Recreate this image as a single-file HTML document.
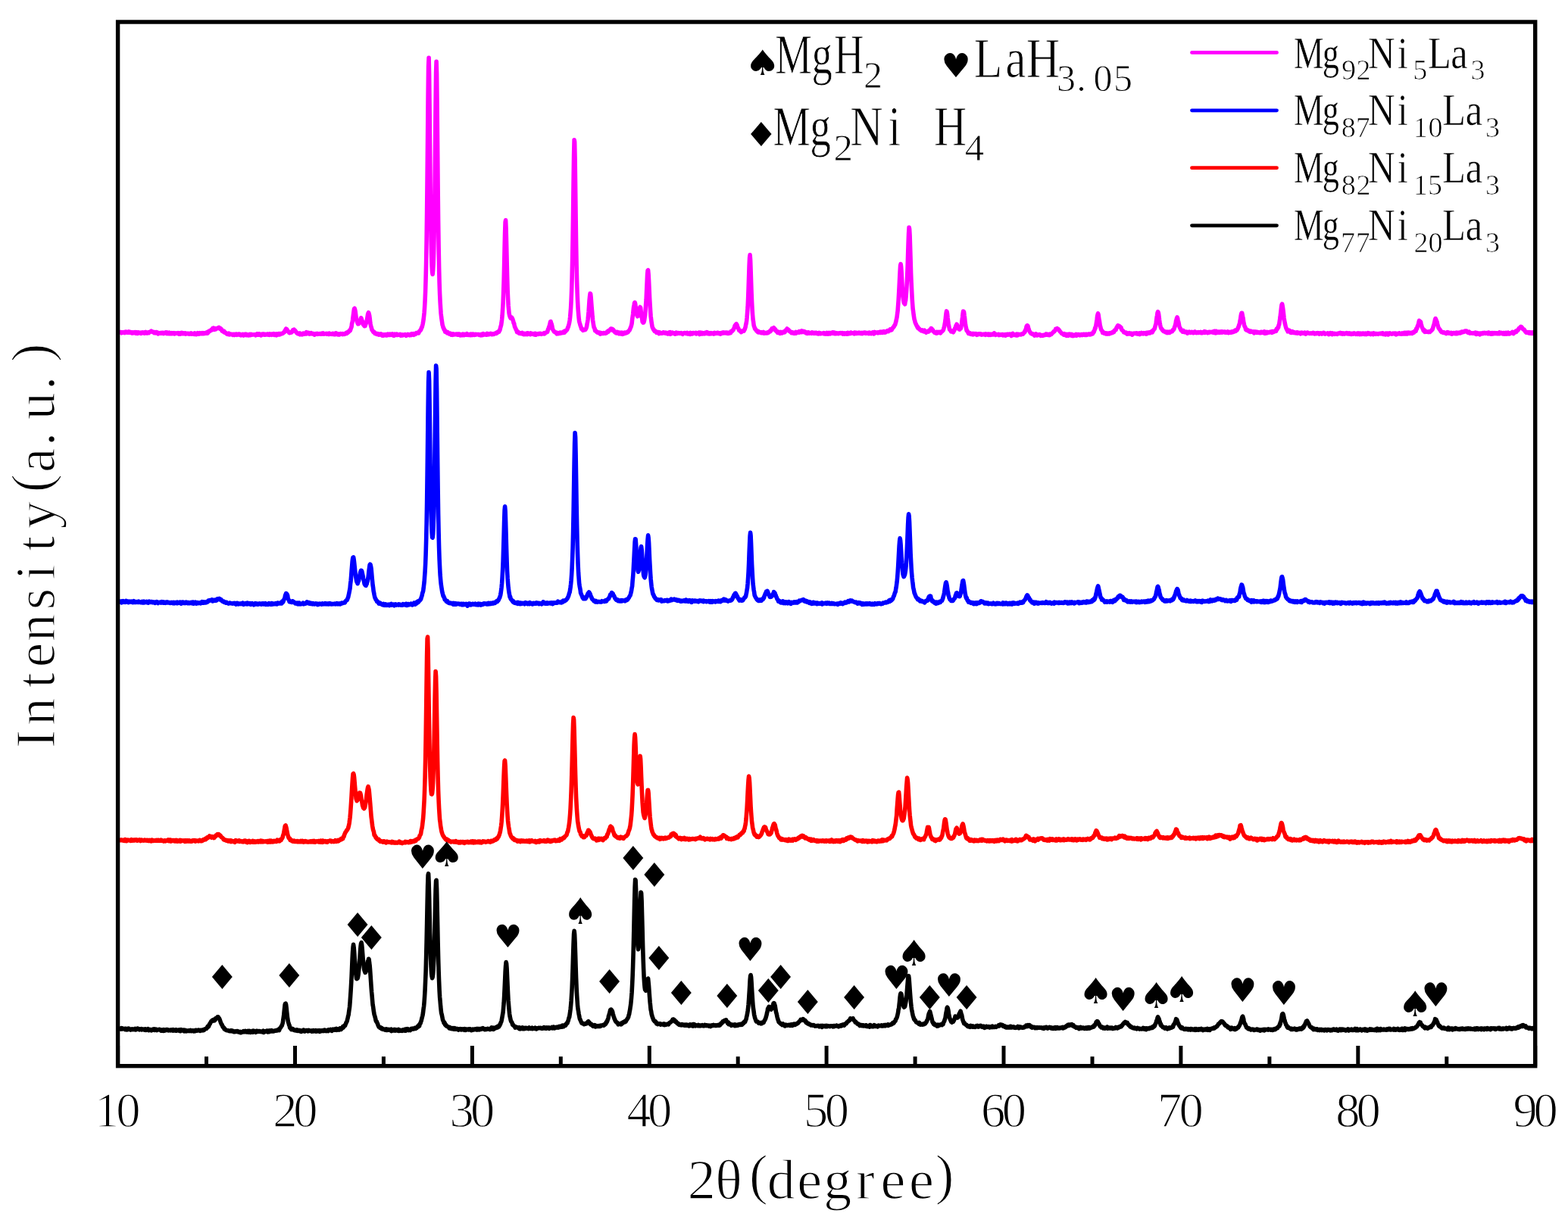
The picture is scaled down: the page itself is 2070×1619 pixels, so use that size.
<!DOCTYPE html>
<html><head><meta charset="utf-8"><title>XRD patterns</title>
<style>
html,body{margin:0;padding:0;background:#fff;overflow:hidden;width:2070px;height:1619px;}
svg{display:block;}
.t{font-family:"Liberation Serif","Noto Serif CJK SC",serif;fill:#000;stroke:#fff;}
.m{font-family:"DejaVu Sans","Noto Sans CJK SC",sans-serif;font-size:100px;fill:#000;}
.c{fill:none;stroke-width:5.6px;stroke-linejoin:round;stroke-linecap:round;}
</style></head><body>
<svg width="2070" height="1619" viewBox="0 0 2070 1619">
<rect width="2070" height="1619" fill="#fff"/>
<path class="c" stroke="#ff00ff" d="M157.1 439.0L157.6 439.2 158.1 438.9 158.6 438.6 159.1 438.8 159.6 438.6 160.1 439.1 160.6 439.7 161.1 438.8 161.6 438.8 162.1 439.3 162.6 439.3 163.1 439.2 163.6 438.7 164.1 439.1 164.6 439.5 165.1 438.5 165.6 438.9 166.1 438.2 166.6 438.5 167.1 438.3 167.6 439.1 168.1 438.6 168.6 439.3 169.1 439.3 169.6 439.1 170.1 438.0 170.6 439.0 171.1 439.2 171.6 439.3 172.1 438.5 172.6 439.0 173.1 438.8 173.6 438.9 174.1 439.8 174.6 438.9 175.1 439.3 175.6 439.8 176.1 439.0 176.6 439.3 177.1 439.4 177.6 439.4 178.1 438.7 178.6 439.4 179.1 440.1 179.6 438.6 180.1 439.8 180.6 439.5 181.1 439.1 181.6 440.4 182.1 439.8 182.6 438.8 183.1 439.5 183.6 439.7 184.1 439.4 184.6 439.8 185.1 439.4 185.6 439.8 186.1 440.2 186.6 439.1 187.1 439.6 187.6 439.3 188.1 439.6 188.6 438.9 189.1 439.2 189.6 439.4 190.1 439.9 190.6 440.1 191.1 438.8 191.6 439.1 192.1 439.8 192.6 438.5 193.1 439.2 193.6 439.4 194.1 440.0 194.6 439.6 195.1 439.1 195.6 438.9 196.1 438.9 196.6 439.6 197.1 438.5 197.6 438.3 198.1 438.4 198.6 438.0 199.1 437.7 199.6 437.2 200.1 437.7 200.6 437.6 201.1 438.5 201.6 438.5 202.1 438.4 202.6 439.0 203.1 438.7 203.6 439.6 204.1 439.2 204.6 439.6 205.1 438.8 205.6 439.7 206.1 438.7 206.6 438.6 207.1 439.5 207.6 439.3 208.1 439.8 208.6 440.9 209.1 439.4 209.6 439.5 210.1 439.9 210.6 440.1 211.1 439.8 211.6 439.8 212.1 440.2 212.6 440.2 213.1 439.4 213.6 439.9 214.1 439.9 214.6 439.4 215.1 440.1 215.6 439.5 216.1 440.5 216.6 440.1 217.1 440.0 217.6 439.7 218.1 439.9 218.6 439.0 219.1 439.5 219.6 440.2 220.1 439.0 220.6 440.5 221.1 439.2 221.6 440.4 222.1 439.6 222.6 440.5 223.1 440.2 223.6 439.3 224.1 440.7 224.6 440.8 225.1 440.1 225.6 440.0 226.1 440.1 226.6 439.7 227.1 440.7 227.6 439.9 228.1 440.1 228.6 439.8 229.1 439.9 229.6 439.6 230.1 440.8 230.6 440.1 231.1 440.7 231.6 440.2 232.1 439.9 232.6 440.1 233.1 440.0 233.6 440.3 234.1 440.1 234.6 440.1 235.1 439.6 235.6 439.9 236.1 441.1 236.6 440.0 237.1 439.8 237.6 440.5 238.1 441.0 238.6 439.6 239.1 440.2 239.6 440.0 240.1 439.5 240.6 440.7 241.1 440.4 241.6 440.4 242.1 440.0 242.6 440.6 243.1 440.1 243.6 440.3 244.1 439.9 244.6 439.8 245.1 441.1 245.6 440.2 246.1 440.6 246.6 440.5 247.1 440.3 247.6 440.2 248.1 440.8 248.6 440.4 249.1 440.4 249.6 440.5 250.1 441.1 250.6 440.9 251.1 440.7 251.6 440.3 252.1 439.9 252.6 441.1 253.1 441.1 253.6 440.5 254.1 440.9 254.6 441.0 255.1 441.0 255.6 441.1 256.1 440.4 256.6 441.4 257.1 440.0 257.6 441.1 258.1 440.9 258.6 441.1 259.1 441.6 259.6 441.4 260.1 440.1 260.6 439.8 261.1 441.1 261.6 440.2 262.1 440.7 262.6 441.1 263.1 439.9 263.6 439.6 264.1 440.8 264.6 440.7 265.1 440.5 265.6 440.6 266.1 440.2 266.6 439.8 267.1 440.5 267.6 440.0 268.1 439.7 268.6 440.7 269.1 440.4 269.6 440.5 270.1 439.8 270.6 439.9 271.1 439.6 271.6 439.5 272.1 440.0 272.6 439.3 273.1 439.7 273.6 439.5 274.1 440.1 274.6 438.1 275.1 439.0 275.6 438.1 276.1 437.8 276.6 436.7 277.1 436.8 277.6 436.9 278.1 436.1 278.6 435.8 279.1 435.3 279.6 435.7 280.1 435.0 280.6 433.7 281.1 434.4 281.6 433.7 282.1 433.1 282.6 434.4 283.1 435.3 283.6 434.6 284.1 433.9 284.6 433.9 285.1 434.7 285.6 434.0 286.1 433.7 286.6 433.4 287.1 433.3 287.6 433.5 288.1 433.2 288.6 433.1 289.1 432.5 289.6 433.4 290.1 433.1 290.6 434.3 291.1 433.6 291.6 434.6 292.1 435.2 292.6 435.0 293.1 437.1 293.6 437.4 294.1 437.0 294.6 438.0 295.1 438.2 295.6 437.1 296.1 438.9 296.6 439.1 297.1 439.4 297.6 439.1 298.1 439.7 298.6 440.0 299.1 440.8 299.6 440.6 300.1 440.5 300.6 441.4 301.1 440.5 301.6 440.7 302.1 440.1 302.6 441.8 303.1 441.6 303.6 441.6 304.1 441.6 304.6 441.4 305.1 441.5 305.6 441.3 306.1 441.3 306.6 441.5 307.1 442.3 307.6 441.8 308.1 441.5 308.6 441.3 309.1 441.3 309.6 442.5 310.1 441.9 310.6 441.7 311.1 441.5 311.6 441.2 312.1 441.7 312.6 442.2 313.1 441.6 313.6 441.7 314.1 441.7 314.6 441.9 315.1 441.1 315.6 441.8 316.1 441.5 316.6 442.3 317.1 441.5 317.6 442.2 318.1 442.7 318.6 441.8 319.1 441.7 319.6 442.1 320.1 442.0 320.6 441.5 321.1 442.2 321.6 443.0 322.1 441.9 322.6 441.9 323.1 441.5 323.6 442.1 324.1 441.4 324.6 441.4 325.1 442.6 325.6 441.5 326.1 442.5 326.6 442.7 327.1 442.1 327.6 442.2 328.1 442.9 328.6 441.8 329.1 441.6 329.6 441.3 330.1 442.0 330.6 442.7 331.1 442.4 331.6 441.4 332.1 441.5 332.6 441.7 333.1 442.1 333.6 441.8 334.1 442.0 334.6 442.0 335.1 441.7 335.6 441.9 336.1 442.0 336.6 441.8 337.1 442.1 337.6 442.8 338.1 442.2 338.6 441.9 339.1 441.0 339.6 442.0 340.1 440.9 340.6 441.1 341.1 442.3 341.6 442.2 342.1 441.7 342.6 441.0 343.1 441.6 343.6 441.5 344.1 442.1 344.6 442.9 345.1 441.9 345.6 441.4 346.1 441.2 346.6 441.8 347.1 441.7 347.6 441.2 348.1 441.8 348.6 441.2 349.1 442.3 349.6 442.3 350.1 442.3 350.6 441.5 351.1 442.0 351.6 441.7 352.1 441.5 352.6 441.6 353.1 441.1 353.6 441.0 354.1 442.1 354.6 441.6 355.1 441.8 355.6 442.2 356.1 440.8 356.6 441.3 357.1 441.8 357.6 441.9 358.1 441.5 358.6 442.2 359.1 441.7 359.6 441.0 360.1 441.2 360.6 442.0 361.1 441.8 361.6 440.7 362.1 442.3 362.6 441.9 363.1 442.2 363.6 441.4 364.1 441.4 364.6 441.0 365.1 442.8 365.6 441.4 366.1 442.3 366.6 441.1 367.1 441.5 367.6 440.6 368.1 441.2 368.6 441.9 369.1 440.7 369.6 441.8 370.1 441.4 370.6 440.6 371.1 440.8 371.6 440.7 372.1 440.8 372.6 440.4 373.1 440.0 373.6 440.0 374.1 439.3 374.6 438.7 375.1 438.8 375.6 438.5 376.1 436.5 376.6 436.3 377.1 435.1 377.6 434.3 378.1 435.0 378.6 434.7 379.1 436.4 379.6 436.1 380.1 437.5 380.6 437.9 381.1 438.2 381.6 439.3 382.1 439.2 382.6 439.7 383.1 439.4 383.6 438.8 384.1 439.1 384.6 438.9 385.1 438.9 385.6 437.5 386.1 437.4 386.6 436.0 387.1 436.7 387.6 435.5 388.1 435.1 388.6 436.2 389.1 437.2 389.6 436.4 390.1 437.2 390.6 438.0 391.1 438.4 391.6 439.6 392.1 439.4 392.6 439.7 393.1 440.6 393.6 440.1 394.1 440.9 394.6 440.3 395.1 440.2 395.6 440.0 396.1 441.9 396.6 440.8 397.1 441.1 397.6 441.0 398.1 441.1 398.6 441.0 399.1 441.9 399.6 440.4 400.1 440.1 400.6 440.4 401.1 440.2 401.6 441.1 402.1 441.1 402.6 440.1 403.1 439.8 403.6 440.2 404.1 440.9 404.6 438.7 405.1 440.3 405.6 439.5 406.1 440.5 406.6 439.5 407.1 439.9 407.6 439.4 408.1 439.8 408.6 441.1 409.1 440.9 409.6 440.4 410.1 440.2 410.6 439.8 411.1 440.6 411.6 440.8 412.1 440.9 412.6 440.9 413.1 440.4 413.6 441.0 414.1 441.0 414.6 441.7 415.1 442.0 415.6 441.0 416.1 440.7 416.6 441.0 417.1 440.8 417.6 440.7 418.1 441.0 418.6 440.5 419.1 441.4 419.6 441.0 420.1 441.2 420.6 441.0 421.1 440.7 421.6 440.6 422.1 440.9 422.6 440.8 423.1 441.2 423.6 441.0 424.1 440.4 424.6 441.1 425.1 440.4 425.6 440.7 426.1 440.9 426.6 440.0 427.1 441.1 427.6 441.1 428.1 440.9 428.6 440.8 429.1 440.8 429.6 440.5 430.1 440.9 430.6 440.8 431.1 441.1 431.6 440.4 432.1 441.2 432.6 441.1 433.1 441.0 433.6 440.9 434.1 441.4 434.6 440.2 435.1 441.3 435.6 441.2 436.1 441.2 436.6 441.3 437.1 440.8 437.6 441.0 438.1 441.4 438.6 441.3 439.1 441.2 439.6 440.4 440.1 441.4 440.6 441.7 441.1 441.6 441.6 441.3 442.1 440.4 442.6 441.6 443.1 441.1 443.6 439.9 444.1 441.3 444.6 440.4 445.1 440.5 445.6 440.8 446.1 441.8 446.6 441.0 447.1 441.3 447.6 442.0 448.1 441.9 448.6 441.1 449.1 441.0 449.6 440.5 450.1 440.7 450.6 441.3 451.1 441.2 451.6 441.1 452.1 441.5 452.6 440.6 453.1 440.9 453.6 441.2 454.1 441.1 454.6 441.3 455.1 440.9 455.6 440.4 456.1 440.7 456.6 439.9 457.1 439.4 457.6 440.4 458.1 439.9 458.6 439.8 459.1 438.6 459.6 438.9 460.1 438.5 460.6 437.9 461.1 436.7 461.6 437.0 462.1 436.9 462.6 435.7 463.1 434.0 463.6 432.8 464.1 431.3 464.6 427.2 465.1 425.6 465.6 422.3 466.1 418.4 466.6 414.6 467.1 410.6 467.6 407.7 468.1 407.2 468.6 408.9 469.1 411.2 469.6 415.1 470.1 419.0 470.6 422.5 471.1 423.8 471.6 425.5 472.1 426.7 472.6 427.8 473.1 427.2 473.6 427.6 474.1 425.5 474.6 424.7 475.1 423.3 475.6 422.4 476.1 421.5 476.6 419.8 477.1 420.7 477.6 422.5 478.1 423.7 478.6 424.9 479.1 427.7 479.6 428.6 480.1 429.5 480.6 429.5 481.1 430.6 481.6 429.9 482.1 430.2 482.6 428.4 483.1 427.3 483.6 426.2 484.1 423.6 484.6 421.6 485.1 418.5 485.6 415.1 486.1 413.6 486.6 412.8 487.1 414.6 487.6 416.4 488.1 419.9 488.6 424.2 489.1 427.9 489.6 430.6 490.1 431.9 490.6 433.8 491.1 435.9 491.6 436.2 492.1 436.7 492.6 438.0 493.1 438.7 493.6 438.6 494.1 438.6 494.6 439.1 495.1 440.4 495.6 439.9 496.1 440.5 496.6 440.8 497.1 441.2 497.6 440.8 498.1 441.4 498.6 440.8 499.1 441.2 499.6 440.9 500.1 442.1 500.6 441.5 501.1 441.2 501.6 441.5 502.1 441.6 502.6 442.1 503.1 441.0 503.6 441.3 504.1 441.7 504.6 443.1 505.1 442.4 505.6 441.9 506.1 442.3 506.6 443.0 507.1 441.9 507.6 441.8 508.1 442.6 508.6 442.3 509.1 442.4 509.6 441.8 510.1 443.0 510.6 442.9 511.1 442.4 511.6 442.4 512.1 441.1 512.6 442.4 513.1 442.0 513.6 442.3 514.1 442.5 514.6 442.0 515.1 441.3 515.6 442.3 516.1 441.8 516.6 442.0 517.1 441.9 517.6 442.0 518.1 441.0 518.6 442.8 519.1 442.3 519.6 442.7 520.1 443.2 520.6 442.2 521.1 441.3 521.6 441.8 522.1 441.6 522.6 442.0 523.1 442.3 523.6 441.2 524.1 442.4 524.6 441.5 525.1 442.4 525.6 442.2 526.1 442.1 526.6 442.2 527.1 442.0 527.6 441.9 528.1 441.4 528.6 442.2 529.1 443.2 529.6 443.2 530.1 442.9 530.6 442.6 531.1 441.9 531.6 442.9 532.1 442.2 532.6 442.2 533.1 442.1 533.6 442.3 534.1 442.0 534.6 442.2 535.1 441.6 535.6 442.0 536.1 443.3 536.6 442.1 537.1 442.0 537.6 442.4 538.1 442.5 538.6 441.5 539.1 442.0 539.6 442.5 540.1 442.2 540.6 442.1 541.1 442.7 541.6 441.6 542.1 441.9 542.6 441.6 543.1 442.6 543.6 440.8 544.1 441.4 544.6 441.4 545.1 441.9 545.6 441.8 546.1 442.2 546.6 440.6 547.1 441.7 547.6 441.0 548.1 440.7 548.6 441.2 549.1 440.3 549.6 439.6 550.1 440.3 550.6 439.5 551.1 439.7 551.6 439.9 552.1 439.6 552.6 439.9 553.1 438.6 553.6 437.4 554.1 437.3 554.6 436.6 555.1 435.7 555.6 435.7 556.1 434.2 556.6 432.3 557.1 432.2 557.6 430.0 558.1 428.1 558.6 425.3 559.1 422.3 559.6 417.8 560.1 413.0 560.6 405.7 561.1 396.6 561.6 384.6 562.1 367.7 562.6 347.0 563.1 318.5 563.6 281.5 564.1 233.9 564.6 181.5 565.1 127.3 565.6 87.5 566.1 76.3 566.6 98.6 567.1 143.4 567.6 196.0 568.1 245.6 568.6 285.4 569.1 316.1 569.6 336.8 570.1 351.0 570.6 359.2 571.1 362.2 571.6 357.4 572.1 349.1 572.6 334.0 573.1 312.3 573.6 279.7 574.1 238.5 574.6 188.9 575.1 136.9 575.6 96.2 576.1 81.3 576.6 97.5 577.1 140.5 577.6 194.8 578.1 247.3 578.6 291.4 579.1 325.5 579.6 352.7 580.1 373.2 580.6 387.9 581.1 398.7 581.6 406.8 582.1 414.0 582.6 418.5 583.1 422.1 583.6 425.4 584.1 429.0 584.6 430.4 585.1 432.6 585.6 433.1 586.1 434.9 586.6 435.1 587.1 436.1 587.6 438.1 588.1 437.9 588.6 437.7 589.1 438.4 589.6 439.0 590.1 439.7 590.6 439.2 591.1 438.8 591.6 439.7 592.1 440.1 592.6 440.3 593.1 441.1 593.6 440.7 594.1 441.1 594.6 440.2 595.1 441.3 595.6 442.0 596.1 441.4 596.6 441.3 597.1 441.3 597.6 442.2 598.1 440.9 598.6 441.3 599.1 441.6 599.6 441.8 600.1 441.3 600.6 441.7 601.1 441.4 601.6 441.7 602.1 441.6 602.6 441.1 603.1 441.7 603.6 442.1 604.1 441.2 604.6 441.6 605.1 442.1 605.6 441.2 606.1 441.9 606.6 441.3 607.1 442.4 607.6 443.0 608.1 442.8 608.6 441.7 609.1 442.2 609.6 441.9 610.1 441.9 610.6 442.6 611.1 441.2 611.6 442.4 612.1 441.8 612.6 442.6 613.1 442.0 613.6 441.5 614.1 442.0 614.6 442.2 615.1 441.9 615.6 442.1 616.1 441.6 616.6 440.8 617.1 442.3 617.6 442.2 618.1 442.0 618.6 441.9 619.1 442.4 619.6 441.6 620.1 441.5 620.6 441.8 621.1 442.5 621.6 441.2 622.1 442.5 622.6 441.5 623.1 441.3 623.6 442.5 624.1 441.8 624.6 441.2 625.1 441.7 625.6 442.3 626.1 442.4 626.6 441.6 627.1 442.0 627.6 442.2 628.1 441.5 628.6 442.0 629.1 441.8 629.6 441.5 630.1 441.5 630.6 441.8 631.1 441.8 631.6 441.5 632.1 441.6 632.6 442.3 633.1 441.9 633.6 442.2 634.1 442.3 634.6 442.0 635.1 442.9 635.6 441.3 636.1 442.1 636.6 441.5 637.1 442.6 637.6 442.5 638.1 440.7 638.6 441.2 639.1 442.0 639.6 442.0 640.1 442.0 640.6 441.6 641.1 441.8 641.6 441.9 642.1 441.5 642.6 442.1 643.1 440.4 643.6 441.8 644.1 441.0 644.6 441.9 645.1 441.3 645.6 441.0 646.1 441.6 646.6 440.9 647.1 440.9 647.6 440.5 648.1 441.2 648.6 441.4 649.1 441.7 649.6 441.0 650.1 441.6 650.6 441.0 651.1 440.9 651.6 441.1 652.1 441.3 652.6 440.5 653.1 440.4 653.6 440.3 654.1 440.3 654.6 439.7 655.1 440.4 655.6 439.5 656.1 439.7 656.6 438.7 657.1 439.0 657.6 438.6 658.1 437.7 658.6 438.3 659.1 436.7 659.6 436.5 660.1 435.0 660.6 432.7 661.1 431.1 661.6 429.2 662.1 426.0 662.6 422.0 663.1 416.6 663.6 408.8 664.1 400.3 664.6 386.8 665.1 371.8 665.6 351.2 666.1 328.5 666.6 307.3 667.1 293.3 667.6 290.8 668.1 302.2 668.6 322.5 669.1 344.3 669.6 365.0 670.1 382.6 670.6 393.6 671.1 403.4 671.6 408.7 672.1 413.8 672.6 416.3 673.1 418.0 673.6 419.2 674.1 420.1 674.6 419.4 675.1 419.4 675.6 419.1 676.1 420.4 676.6 421.0 677.1 422.9 677.6 424.1 678.1 426.8 678.6 426.8 679.1 429.4 679.6 431.7 680.1 432.5 680.6 433.6 681.1 435.0 681.6 435.4 682.1 436.9 682.6 438.7 683.1 438.6 683.6 438.0 684.1 438.5 684.6 439.0 685.1 440.0 685.6 439.3 686.1 439.5 686.6 440.5 687.1 440.6 687.6 440.1 688.1 439.8 688.6 439.7 689.1 440.2 689.6 439.5 690.1 441.1 690.6 440.4 691.1 441.0 691.6 441.7 692.1 441.4 692.6 440.3 693.1 441.3 693.6 441.5 694.1 440.5 694.6 440.5 695.1 440.9 695.6 440.2 696.1 441.7 696.6 439.8 697.1 440.4 697.6 440.9 698.1 440.9 698.6 441.1 699.1 441.1 699.6 440.9 700.1 441.6 700.6 439.9 701.1 441.0 701.6 440.6 702.1 441.1 702.6 441.1 703.1 440.5 703.6 440.7 704.1 441.4 704.6 441.2 705.1 440.7 705.6 442.0 706.1 442.1 706.6 440.3 707.1 441.1 707.6 442.2 708.1 441.4 708.6 441.1 709.1 440.8 709.6 440.7 710.1 440.8 710.6 440.6 711.1 441.3 711.6 440.7 712.1 440.7 712.6 440.3 713.1 440.8 713.6 440.4 714.1 440.7 714.6 441.3 715.1 440.9 715.6 441.0 716.1 440.8 716.6 440.6 717.1 440.5 717.6 440.3 718.1 440.8 718.6 439.7 719.1 440.8 719.6 440.0 720.1 439.5 720.6 439.4 721.1 439.0 721.6 439.0 722.1 438.1 722.6 438.4 723.1 436.6 723.6 434.8 724.1 434.3 724.6 432.0 725.1 431.0 725.6 429.3 726.1 427.1 726.6 424.7 727.1 424.6 727.6 426.7 728.1 427.7 728.6 429.6 729.1 432.2 729.6 434.8 730.1 435.7 730.6 436.3 731.1 437.3 731.6 438.2 732.1 438.1 732.6 438.3 733.1 439.1 733.6 438.9 734.1 439.5 734.6 439.7 735.1 440.9 735.6 439.4 736.1 439.8 736.6 439.9 737.1 440.2 737.6 440.5 738.1 439.7 738.6 439.5 739.1 439.1 739.6 439.4 740.1 440.1 740.6 439.8 741.1 439.2 741.6 439.4 742.1 439.5 742.6 439.6 743.1 439.0 743.6 439.0 744.1 438.0 744.6 438.2 745.1 439.3 745.6 437.1 746.1 437.7 746.6 437.7 747.1 436.9 747.6 436.2 748.1 436.0 748.6 435.3 749.1 434.4 749.6 432.4 750.1 432.0 750.6 430.0 751.1 428.2 751.6 426.1 752.1 423.1 752.6 419.1 753.1 413.0 753.6 406.6 754.1 397.2 754.6 384.5 755.1 367.7 755.6 344.4 756.1 315.2 756.6 280.1 757.1 239.9 757.6 205.6 758.1 184.9 758.6 187.4 759.1 210.8 759.6 247.9 760.1 287.1 760.6 322.0 761.1 349.8 761.6 370.5 762.1 386.5 762.6 398.1 763.1 407.6 763.6 413.9 764.1 419.4 764.6 423.9 765.1 426.0 765.6 427.6 766.1 429.7 766.6 430.9 767.1 432.2 767.6 434.3 768.1 434.5 768.6 434.2 769.1 435.7 769.6 436.3 770.1 435.6 770.6 435.5 771.1 435.7 771.6 435.8 772.1 435.7 772.6 435.5 773.1 434.8 773.6 433.9 774.1 432.8 774.6 430.8 775.1 427.5 775.6 425.3 776.1 421.8 776.6 416.6 777.1 411.3 777.6 403.7 778.1 396.3 778.6 391.4 779.1 387.6 779.6 387.9 780.1 392.3 780.6 398.9 781.1 405.8 781.6 411.2 782.1 417.9 782.6 422.8 783.1 426.2 783.6 429.6 784.1 432.3 784.6 433.1 785.1 434.1 785.6 436.7 786.1 436.3 786.6 436.5 787.1 437.8 787.6 438.3 788.1 438.1 788.6 439.1 789.1 438.7 789.6 438.7 790.1 439.4 790.6 439.8 791.1 439.2 791.6 439.8 792.1 439.6 792.6 441.2 793.1 439.5 793.6 440.5 794.1 439.9 794.6 439.8 795.1 440.3 795.6 440.4 796.1 440.5 796.6 440.1 797.1 439.6 797.6 439.6 798.1 440.0 798.6 440.0 799.1 440.3 799.6 439.7 800.1 439.9 800.6 439.9 801.1 439.0 801.6 437.9 802.1 437.7 802.6 437.2 803.1 438.3 803.6 436.5 804.1 437.0 804.6 436.1 805.1 436.1 805.6 435.2 806.1 434.3 806.6 434.0 807.1 434.0 807.6 434.2 808.1 434.2 808.6 434.9 809.1 436.3 809.6 435.2 810.1 436.8 810.6 436.7 811.1 437.8 811.6 438.5 812.1 438.4 812.6 439.2 813.1 438.2 813.6 439.8 814.1 439.1 814.6 439.9 815.1 439.8 815.6 438.5 816.1 439.5 816.6 440.0 817.1 440.7 817.6 440.1 818.1 440.1 818.6 439.3 819.1 440.8 819.6 441.0 820.1 440.1 820.6 439.9 821.1 439.2 821.6 440.5 822.1 441.4 822.6 440.3 823.1 440.6 823.6 440.2 824.1 439.4 824.6 440.5 825.1 439.1 825.6 439.6 826.1 439.7 826.6 439.9 827.1 439.5 827.6 439.4 828.1 438.6 828.6 438.1 829.1 438.5 829.6 437.7 830.1 437.0 830.6 436.4 831.1 436.1 831.6 434.6 832.1 433.7 832.6 432.2 833.1 431.3 833.6 429.2 834.1 427.3 834.6 422.2 835.1 418.7 835.6 415.0 836.1 409.9 836.6 405.5 837.1 403.0 837.6 400.0 838.1 399.4 838.6 400.9 839.1 404.6 839.6 408.1 840.1 410.7 840.6 413.9 841.1 416.7 841.6 417.8 842.1 417.2 842.6 416.6 843.1 414.3 843.6 410.2 844.1 408.0 844.6 406.3 845.1 405.5 845.6 406.4 846.1 410.6 846.6 415.0 847.1 419.1 847.6 420.2 848.1 424.9 848.6 424.4 849.1 426.1 849.6 426.0 850.1 425.0 850.6 422.8 851.1 419.4 851.6 416.3 852.1 410.3 852.6 402.3 853.1 396.1 853.6 384.5 854.1 373.8 854.6 362.4 855.1 357.2 855.6 356.7 856.1 362.2 856.6 371.2 857.1 382.1 857.6 393.6 858.1 402.2 858.6 410.3 859.1 417.3 859.6 421.5 860.1 425.6 860.6 428.4 861.1 431.6 861.6 433.0 862.1 433.6 862.6 435.3 863.1 435.2 863.6 436.1 864.1 437.3 864.6 436.7 865.1 437.5 865.6 437.3 866.1 438.3 866.6 439.3 867.1 438.3 867.6 438.9 868.1 438.5 868.6 438.5 869.1 438.6 869.6 440.0 870.1 440.6 870.6 439.7 871.1 439.2 871.6 439.9 872.1 439.4 872.6 440.1 873.1 439.8 873.6 439.9 874.1 440.1 874.6 439.5 875.1 439.6 875.6 439.0 876.1 439.6 876.6 439.2 877.1 439.8 877.6 439.4 878.1 440.0 878.6 440.2 879.1 439.2 879.6 439.5 880.1 439.5 880.6 440.3 881.1 440.8 881.6 440.4 882.1 439.8 882.6 440.7 883.1 439.2 883.6 440.7 884.1 439.7 884.6 438.6 885.1 441.3 885.6 440.8 886.1 439.5 886.6 440.1 887.1 439.9 887.6 440.1 888.1 439.3 888.6 439.7 889.1 440.3 889.6 440.1 890.1 440.6 890.6 440.1 891.1 441.2 891.6 439.7 892.1 440.1 892.6 439.1 893.1 439.4 893.6 440.7 894.1 439.5 894.6 440.3 895.1 440.0 895.6 439.5 896.1 439.8 896.6 439.8 897.1 439.8 897.6 440.4 898.1 440.3 898.6 439.7 899.1 439.5 899.6 440.1 900.1 440.0 900.6 440.5 901.1 441.3 901.6 440.4 902.1 440.0 902.6 439.9 903.1 439.6 903.6 439.6 904.1 439.5 904.6 439.8 905.1 439.8 905.6 440.4 906.1 439.8 906.6 439.9 907.1 439.4 907.6 440.8 908.1 440.3 908.6 440.9 909.1 440.4 909.6 440.8 910.1 439.9 910.6 440.4 911.1 441.4 911.6 439.4 912.1 440.6 912.6 440.9 913.1 440.2 913.6 440.4 914.1 440.7 914.6 439.7 915.1 440.2 915.6 439.6 916.1 439.7 916.6 439.7 917.1 440.0 917.6 440.1 918.1 440.3 918.6 439.3 919.1 441.0 919.6 440.6 920.1 440.4 920.6 439.8 921.1 440.0 921.6 440.3 922.1 440.2 922.6 439.2 923.1 440.4 923.6 441.5 924.1 439.1 924.6 440.5 925.1 440.2 925.6 440.0 926.1 440.7 926.6 439.4 927.1 440.1 927.6 440.8 928.1 439.9 928.6 439.8 929.1 440.1 929.6 439.8 930.1 440.8 930.6 439.6 931.1 440.5 931.6 439.4 932.1 440.4 932.6 440.0 933.1 438.7 933.6 440.0 934.1 439.5 934.6 439.8 935.1 440.8 935.6 439.5 936.1 439.5 936.6 440.8 937.1 440.1 937.6 440.8 938.1 440.2 938.6 439.6 939.1 440.0 939.6 440.7 940.1 440.5 940.6 440.0 941.1 440.1 941.6 440.0 942.1 439.7 942.6 441.0 943.1 440.0 943.6 439.4 944.1 439.8 944.6 440.4 945.1 440.4 945.6 439.9 946.1 439.7 946.6 440.0 947.1 439.2 947.6 439.3 948.1 440.4 948.6 439.8 949.1 440.2 949.6 440.6 950.1 440.3 950.6 440.0 951.1 441.1 951.6 440.3 952.1 439.8 952.6 440.4 953.1 440.2 953.6 439.5 954.1 440.0 954.6 439.9 955.1 438.9 955.6 439.9 956.1 439.8 956.6 439.7 957.1 439.1 957.6 439.7 958.1 439.9 958.6 439.9 959.1 439.3 959.6 440.1 960.1 439.2 960.6 439.6 961.1 440.4 961.6 439.3 962.1 439.3 962.6 440.1 963.1 439.2 963.6 439.2 964.1 439.3 964.6 439.5 965.1 437.6 965.6 438.1 966.1 437.6 966.6 437.2 967.1 436.7 967.6 436.0 968.1 435.7 968.6 434.1 969.1 433.4 969.6 432.1 970.1 430.2 970.6 429.4 971.1 429.2 971.6 428.1 972.1 427.7 972.6 428.7 973.1 429.4 973.6 431.3 974.1 432.9 974.6 433.3 975.1 434.6 975.6 436.2 976.1 436.0 976.6 436.9 977.1 436.6 977.6 437.0 978.1 437.3 978.6 438.7 979.1 437.4 979.6 437.3 980.1 437.1 980.6 437.1 981.1 437.2 981.6 436.6 982.1 437.0 982.6 435.3 983.1 435.1 983.6 433.4 984.1 432.1 984.6 429.1 985.1 427.3 985.6 423.9 986.1 419.3 986.6 412.4 987.1 405.8 987.6 394.6 988.1 381.3 988.6 366.1 989.1 351.0 989.6 340.3 990.1 336.6 990.6 343.2 991.1 357.0 991.6 372.6 992.1 387.0 992.6 399.1 993.1 408.5 993.6 416.1 994.1 422.1 994.6 425.0 995.1 429.3 995.6 431.2 996.1 432.3 996.6 434.3 997.1 434.2 997.6 434.9 998.1 435.8 998.6 436.8 999.1 437.2 999.6 437.5 1000.1 438.1 1000.6 437.2 1001.1 438.8 1001.6 438.0 1002.1 438.5 1002.6 438.8 1003.1 438.5 1003.6 438.5 1004.1 438.7 1004.6 439.3 1005.1 439.7 1005.6 439.7 1006.1 439.0 1006.6 439.1 1007.1 439.1 1007.6 439.8 1008.1 438.5 1008.6 440.2 1009.1 439.3 1009.6 439.2 1010.1 439.7 1010.6 440.0 1011.1 439.6 1011.6 439.9 1012.1 439.4 1012.6 439.9 1013.1 439.8 1013.6 439.0 1014.1 439.6 1014.6 438.8 1015.1 438.6 1015.6 437.8 1016.1 437.8 1016.6 437.9 1017.1 436.5 1017.6 436.9 1018.1 436.2 1018.6 435.6 1019.1 433.8 1019.6 434.4 1020.1 434.3 1020.6 433.4 1021.1 433.7 1021.6 432.7 1022.1 434.5 1022.6 434.3 1023.1 435.6 1023.6 434.8 1024.1 436.7 1024.6 436.7 1025.1 437.7 1025.6 437.3 1026.1 437.8 1026.6 439.5 1027.1 438.2 1027.6 438.5 1028.1 438.9 1028.6 438.6 1029.1 439.8 1029.6 440.2 1030.1 439.0 1030.6 438.5 1031.1 440.0 1031.6 440.0 1032.1 439.8 1032.6 439.9 1033.1 438.8 1033.6 439.0 1034.1 438.2 1034.6 438.0 1035.1 438.9 1035.6 437.7 1036.1 438.8 1036.6 437.1 1037.1 436.2 1037.6 436.3 1038.1 436.2 1038.6 435.1 1039.1 434.0 1039.6 434.8 1040.1 435.6 1040.6 435.2 1041.1 435.6 1041.6 437.2 1042.1 437.3 1042.6 437.2 1043.1 438.0 1043.6 438.2 1044.1 439.0 1044.6 439.1 1045.1 439.8 1045.6 439.7 1046.1 438.7 1046.6 439.7 1047.1 440.0 1047.6 439.9 1048.1 440.2 1048.6 439.4 1049.1 439.2 1049.6 440.1 1050.1 439.1 1050.6 438.5 1051.1 440.1 1051.6 439.2 1052.1 439.3 1052.6 438.7 1053.1 438.6 1053.6 438.6 1054.1 438.9 1054.6 439.1 1055.1 437.7 1055.6 439.0 1056.1 437.9 1056.6 437.8 1057.1 438.5 1057.6 437.9 1058.1 437.0 1058.6 438.6 1059.1 437.2 1059.6 437.7 1060.1 437.7 1060.6 438.4 1061.1 437.6 1061.6 438.5 1062.1 437.8 1062.6 438.9 1063.1 438.1 1063.6 438.5 1064.1 439.8 1064.6 439.1 1065.1 439.2 1065.6 440.4 1066.1 439.5 1066.6 439.0 1067.1 439.9 1067.6 439.0 1068.1 440.2 1068.6 440.3 1069.1 439.5 1069.6 439.5 1070.1 439.9 1070.6 439.9 1071.1 439.4 1071.6 440.2 1072.1 438.9 1072.6 439.7 1073.1 439.7 1073.6 439.8 1074.1 440.1 1074.6 439.4 1075.1 440.3 1075.6 439.9 1076.1 439.7 1076.6 439.3 1077.1 439.4 1077.6 440.2 1078.1 439.5 1078.6 440.0 1079.1 440.5 1079.6 440.5 1080.1 440.8 1080.6 439.9 1081.1 439.5 1081.6 440.5 1082.1 440.2 1082.6 440.6 1083.1 440.0 1083.6 440.6 1084.1 440.4 1084.6 440.4 1085.1 440.3 1085.6 440.2 1086.1 440.1 1086.6 440.1 1087.1 440.5 1087.6 439.8 1088.1 440.9 1088.6 440.0 1089.1 440.5 1089.6 440.0 1090.1 439.9 1090.6 441.0 1091.1 439.9 1091.6 439.4 1092.1 439.7 1092.6 439.9 1093.1 441.1 1093.6 440.1 1094.1 440.5 1094.6 439.5 1095.1 440.2 1095.6 440.3 1096.1 440.9 1096.6 439.7 1097.1 440.3 1097.6 440.2 1098.1 439.5 1098.6 440.0 1099.1 439.9 1099.6 438.8 1100.1 440.3 1100.6 440.3 1101.1 439.8 1101.6 439.3 1102.1 440.7 1102.6 440.1 1103.1 440.5 1103.6 440.7 1104.1 439.7 1104.6 440.4 1105.1 439.9 1105.6 440.0 1106.1 440.0 1106.6 440.0 1107.1 440.6 1107.6 440.1 1108.1 439.9 1108.6 439.9 1109.1 440.2 1109.6 439.6 1110.1 439.8 1110.6 440.0 1111.1 439.7 1111.6 440.0 1112.1 439.7 1112.6 441.0 1113.1 440.7 1113.6 440.2 1114.1 440.0 1114.6 441.1 1115.1 440.2 1115.6 440.0 1116.1 440.2 1116.6 440.2 1117.1 440.7 1117.6 440.0 1118.1 441.1 1118.6 439.6 1119.1 440.4 1119.6 439.5 1120.1 440.9 1120.6 439.8 1121.1 440.0 1121.6 440.5 1122.1 440.6 1122.6 439.4 1123.1 439.8 1123.6 439.3 1124.1 440.1 1124.6 439.9 1125.1 439.8 1125.6 439.7 1126.1 439.8 1126.6 439.6 1127.1 440.3 1127.6 440.7 1128.1 439.0 1128.6 439.9 1129.1 439.8 1129.6 440.2 1130.1 439.5 1130.6 439.9 1131.1 439.4 1131.6 440.3 1132.1 440.0 1132.6 439.9 1133.1 440.1 1133.6 439.8 1134.1 439.2 1134.6 440.2 1135.1 440.1 1135.6 439.9 1136.1 440.4 1136.6 440.5 1137.1 439.4 1137.6 439.5 1138.1 440.7 1138.6 440.6 1139.1 439.5 1139.6 439.3 1140.1 439.6 1140.6 439.6 1141.1 439.1 1141.6 439.9 1142.1 439.2 1142.6 439.2 1143.1 440.3 1143.6 439.5 1144.1 439.8 1144.6 440.1 1145.1 440.2 1145.6 439.6 1146.1 439.8 1146.6 439.4 1147.1 440.6 1147.6 440.1 1148.1 439.2 1148.6 439.7 1149.1 440.1 1149.6 439.9 1150.1 440.6 1150.6 440.3 1151.1 439.4 1151.6 439.6 1152.1 439.0 1152.6 439.7 1153.1 439.7 1153.6 440.9 1154.1 439.6 1154.6 438.5 1155.1 439.2 1155.6 439.5 1156.1 438.8 1156.6 439.0 1157.1 439.2 1157.6 439.5 1158.1 439.3 1158.6 438.9 1159.1 439.7 1159.6 439.0 1160.1 439.0 1160.6 438.5 1161.1 438.7 1161.6 439.4 1162.1 438.2 1162.6 439.0 1163.1 439.3 1163.6 438.7 1164.1 439.0 1164.6 438.2 1165.1 439.4 1165.6 439.2 1166.1 438.7 1166.6 437.7 1167.1 437.9 1167.6 438.9 1168.1 439.1 1168.6 438.3 1169.1 438.7 1169.6 437.7 1170.1 437.8 1170.6 437.8 1171.1 437.8 1171.6 436.7 1172.1 437.8 1172.6 437.8 1173.1 436.4 1173.6 436.1 1174.1 436.8 1174.6 436.0 1175.1 434.9 1175.6 436.2 1176.1 435.6 1176.6 435.0 1177.1 435.9 1177.6 434.5 1178.1 433.6 1178.6 433.5 1179.1 432.3 1179.6 431.8 1180.1 431.6 1180.6 430.2 1181.1 429.3 1181.6 429.1 1182.1 427.3 1182.6 425.6 1183.1 423.5 1183.6 421.0 1184.1 418.6 1184.6 414.3 1185.1 410.7 1185.6 403.8 1186.1 397.3 1186.6 388.4 1187.1 379.2 1187.6 368.9 1188.1 359.2 1188.6 350.7 1189.1 348.7 1189.6 351.9 1190.1 359.3 1190.6 368.4 1191.1 378.1 1191.6 385.0 1192.1 392.0 1192.6 396.4 1193.1 399.0 1193.6 400.5 1194.1 400.8 1194.6 401.8 1195.1 398.3 1195.6 396.7 1196.1 391.6 1196.6 384.9 1197.1 376.2 1197.6 366.7 1198.1 353.9 1198.6 337.3 1199.1 321.5 1199.6 308.3 1200.1 300.2 1200.6 302.3 1201.1 311.1 1201.6 327.1 1202.1 343.1 1202.6 360.6 1203.1 372.8 1203.6 383.2 1204.1 393.3 1204.6 400.6 1205.1 407.5 1205.6 411.1 1206.1 415.1 1206.6 418.6 1207.1 421.7 1207.6 423.1 1208.1 425.5 1208.6 426.8 1209.1 427.7 1209.6 429.1 1210.1 430.1 1210.6 430.5 1211.1 432.3 1211.6 431.7 1212.1 433.6 1212.6 434.1 1213.1 434.0 1213.6 434.1 1214.1 434.8 1214.6 435.5 1215.1 435.9 1215.6 436.0 1216.1 436.6 1216.6 436.1 1217.1 436.7 1217.6 436.0 1218.1 437.3 1218.6 437.2 1219.1 437.1 1219.6 438.0 1220.1 437.9 1220.6 436.2 1221.1 437.7 1221.6 437.1 1222.1 438.4 1222.6 439.1 1223.1 437.6 1223.6 437.9 1224.1 437.7 1224.6 437.9 1225.1 438.0 1225.6 438.1 1226.1 436.7 1226.6 437.6 1227.1 435.8 1227.6 435.8 1228.1 435.6 1228.6 434.8 1229.1 433.6 1229.6 433.7 1230.1 434.2 1230.6 435.1 1231.1 436.5 1231.6 435.9 1232.1 437.4 1232.6 438.0 1233.1 438.4 1233.6 438.6 1234.1 439.4 1234.6 439.1 1235.1 439.4 1235.6 439.4 1236.1 440.1 1236.6 438.3 1237.1 440.0 1237.6 439.2 1238.1 439.3 1238.6 438.9 1239.1 438.5 1239.6 439.2 1240.1 439.0 1240.6 439.5 1241.1 438.5 1241.6 439.8 1242.1 439.1 1242.6 438.6 1243.1 438.1 1243.6 437.7 1244.1 437.1 1244.6 436.8 1245.1 436.2 1245.6 435.0 1246.1 432.9 1246.6 431.5 1247.1 428.6 1247.6 425.7 1248.1 422.5 1248.6 417.5 1249.1 413.4 1249.6 410.9 1250.1 411.8 1250.6 414.8 1251.1 420.1 1251.6 423.6 1252.1 427.7 1252.6 430.3 1253.1 432.8 1253.6 435.1 1254.1 435.3 1254.6 436.3 1255.1 436.7 1255.6 437.9 1256.1 437.3 1256.6 437.4 1257.1 437.3 1257.6 437.2 1258.1 437.9 1258.6 438.7 1259.1 436.4 1259.6 436.7 1260.1 435.5 1260.6 433.7 1261.1 432.8 1261.6 431.4 1262.1 429.8 1262.6 430.2 1263.1 428.1 1263.6 429.9 1264.1 431.0 1264.6 431.8 1265.1 433.3 1265.6 434.5 1266.1 434.7 1266.6 435.1 1267.1 435.1 1267.6 433.2 1268.1 434.0 1268.6 433.0 1269.1 430.2 1269.6 427.4 1270.1 422.5 1270.6 418.8 1271.1 414.2 1271.6 411.2 1272.1 411.3 1272.6 412.3 1273.1 416.6 1273.6 420.2 1274.1 425.4 1274.6 429.1 1275.1 431.5 1275.6 433.7 1276.1 436.6 1276.6 436.2 1277.1 437.2 1277.6 438.0 1278.1 439.5 1278.6 440.4 1279.1 439.8 1279.6 439.6 1280.1 439.9 1280.6 440.8 1281.1 440.0 1281.6 441.3 1282.1 441.4 1282.6 440.8 1283.1 441.2 1283.6 441.3 1284.1 441.7 1284.6 440.5 1285.1 441.6 1285.6 440.9 1286.1 440.7 1286.6 441.2 1287.1 441.1 1287.6 440.7 1288.1 440.5 1288.6 440.8 1289.1 442.0 1289.6 442.3 1290.1 441.7 1290.6 441.9 1291.1 441.1 1291.6 441.3 1292.1 441.5 1292.6 440.9 1293.1 440.9 1293.6 441.5 1294.1 441.3 1294.6 440.9 1295.1 441.7 1295.6 441.4 1296.1 442.0 1296.6 441.5 1297.1 441.4 1297.6 441.6 1298.1 441.5 1298.6 441.2 1299.1 441.4 1299.6 442.0 1300.1 441.9 1300.6 442.2 1301.1 440.8 1301.6 441.4 1302.1 441.4 1302.6 441.7 1303.1 441.4 1303.6 441.4 1304.1 442.1 1304.6 441.8 1305.1 441.1 1305.6 442.4 1306.1 442.2 1306.6 441.4 1307.1 442.1 1307.6 441.4 1308.1 442.3 1308.6 441.6 1309.1 441.3 1309.6 441.6 1310.1 441.4 1310.6 441.9 1311.1 441.9 1311.6 441.8 1312.1 441.5 1312.6 440.0 1313.1 441.8 1313.6 440.9 1314.1 441.9 1314.6 442.4 1315.1 442.0 1315.6 441.6 1316.1 441.8 1316.6 441.8 1317.1 441.6 1317.6 441.6 1318.1 441.4 1318.6 442.5 1319.1 441.9 1319.6 442.4 1320.1 441.8 1320.6 441.9 1321.1 441.8 1321.6 442.1 1322.1 442.3 1322.6 442.0 1323.1 441.6 1323.6 441.5 1324.1 442.8 1324.6 441.8 1325.1 441.8 1325.6 442.7 1326.1 442.5 1326.6 442.2 1327.1 441.8 1327.6 443.2 1328.1 442.2 1328.6 442.3 1329.1 441.9 1329.6 441.3 1330.1 441.3 1330.6 442.2 1331.1 442.2 1331.6 441.9 1332.1 441.4 1332.6 441.3 1333.1 441.9 1333.6 441.3 1334.1 442.5 1334.6 442.6 1335.1 443.5 1335.6 442.5 1336.1 441.7 1336.6 441.6 1337.1 440.3 1337.6 441.7 1338.1 441.9 1338.6 442.5 1339.1 442.3 1339.6 442.3 1340.1 442.1 1340.6 442.3 1341.1 442.7 1341.6 441.5 1342.1 441.8 1342.6 441.3 1343.1 442.8 1343.6 442.6 1344.1 442.3 1344.6 441.3 1345.1 441.9 1345.6 441.7 1346.1 441.8 1346.6 441.6 1347.1 441.9 1347.6 441.4 1348.1 441.9 1348.6 441.5 1349.1 441.1 1349.6 441.0 1350.1 440.6 1350.6 441.0 1351.1 440.1 1351.6 440.0 1352.1 439.1 1352.6 437.9 1353.1 438.2 1353.6 436.1 1354.1 435.6 1354.6 433.9 1355.1 431.2 1355.6 430.2 1356.1 429.8 1356.6 429.9 1357.1 430.9 1357.6 433.4 1358.1 434.6 1358.6 436.4 1359.1 437.2 1359.6 438.5 1360.1 438.8 1360.6 439.7 1361.1 440.5 1361.6 440.6 1362.1 440.7 1362.6 440.6 1363.1 441.4 1363.6 441.7 1364.1 441.5 1364.6 441.4 1365.1 442.1 1365.6 443.2 1366.1 441.8 1366.6 442.2 1367.1 442.3 1367.6 440.9 1368.1 442.2 1368.6 441.9 1369.1 442.9 1369.6 442.1 1370.1 441.9 1370.6 442.2 1371.1 442.4 1371.6 442.1 1372.1 442.3 1372.6 441.7 1373.1 442.3 1373.6 442.8 1374.1 443.4 1374.6 442.8 1375.1 442.6 1375.6 443.0 1376.1 442.9 1376.6 443.3 1377.1 443.0 1377.6 442.4 1378.1 442.6 1378.6 442.5 1379.1 442.6 1379.6 442.5 1380.1 442.0 1380.6 441.3 1381.1 442.0 1381.6 441.3 1382.1 442.3 1382.6 442.2 1383.1 441.4 1383.6 442.5 1384.1 442.5 1384.6 442.0 1385.1 442.7 1385.6 442.7 1386.1 441.1 1386.6 442.0 1387.1 441.6 1387.6 441.3 1388.1 441.4 1388.6 440.3 1389.1 440.0 1389.6 439.5 1390.1 439.1 1390.6 439.0 1391.1 437.8 1391.6 437.4 1392.1 437.6 1392.6 436.6 1393.1 436.2 1393.6 434.4 1394.1 434.4 1394.6 434.1 1395.1 434.1 1395.6 433.7 1396.1 434.5 1396.6 434.3 1397.1 434.7 1397.6 435.2 1398.1 436.2 1398.6 436.2 1399.1 437.7 1399.6 438.0 1400.1 438.4 1400.6 438.9 1401.1 439.7 1401.6 440.4 1402.1 440.7 1402.6 440.8 1403.1 441.3 1403.6 441.2 1404.1 442.0 1404.6 441.5 1405.1 440.6 1405.6 442.5 1406.1 442.0 1406.6 441.4 1407.1 442.0 1407.6 441.7 1408.1 443.3 1408.6 442.5 1409.1 441.5 1409.6 442.6 1410.1 442.2 1410.6 443.3 1411.1 441.9 1411.6 441.3 1412.1 442.5 1412.6 442.3 1413.1 442.2 1413.6 441.4 1414.1 442.7 1414.6 443.3 1415.1 441.5 1415.6 443.0 1416.1 442.2 1416.6 443.6 1417.1 442.6 1417.6 442.3 1418.1 443.0 1418.6 442.7 1419.1 442.1 1419.6 442.7 1420.1 442.1 1420.6 441.5 1421.1 443.4 1421.6 442.2 1422.1 442.0 1422.6 442.5 1423.1 441.5 1423.6 441.6 1424.1 442.0 1424.6 442.0 1425.1 442.3 1425.6 442.8 1426.1 442.0 1426.6 442.4 1427.1 442.5 1427.6 441.6 1428.1 442.3 1428.6 441.6 1429.1 442.6 1429.6 442.3 1430.1 442.1 1430.6 441.4 1431.1 442.1 1431.6 441.6 1432.1 442.3 1432.6 441.8 1433.1 441.5 1433.6 442.3 1434.1 442.1 1434.6 441.4 1435.1 442.3 1435.6 441.5 1436.1 441.4 1436.6 441.6 1437.1 441.1 1437.6 441.2 1438.1 441.2 1438.6 441.9 1439.1 441.8 1439.6 440.8 1440.1 441.6 1440.6 440.6 1441.1 440.6 1441.6 440.6 1442.1 440.0 1442.6 440.7 1443.1 439.2 1443.6 437.9 1444.1 438.5 1444.6 436.8 1445.1 435.8 1445.6 433.2 1446.1 433.4 1446.6 431.2 1447.1 428.4 1447.6 425.2 1448.1 421.9 1448.6 417.5 1449.1 415.5 1449.6 414.0 1450.1 415.6 1450.6 419.3 1451.1 422.6 1451.6 425.3 1452.1 429.2 1452.6 431.4 1453.1 433.1 1453.6 435.2 1454.1 436.0 1454.6 436.3 1455.1 437.3 1455.6 439.3 1456.1 438.1 1456.6 439.4 1457.1 439.8 1457.6 440.1 1458.1 439.4 1458.6 440.0 1459.1 440.3 1459.6 440.8 1460.1 440.1 1460.6 439.9 1461.1 441.0 1461.6 441.1 1462.1 440.8 1462.6 440.3 1463.1 440.8 1463.6 440.6 1464.1 440.9 1464.6 439.8 1465.1 440.5 1465.6 440.2 1466.1 439.7 1466.6 440.2 1467.1 439.9 1467.6 439.5 1468.1 439.7 1468.6 438.6 1469.1 439.0 1469.6 438.9 1470.1 438.4 1470.6 438.4 1471.1 436.7 1471.6 436.0 1472.1 436.2 1472.6 435.6 1473.1 435.6 1473.6 434.0 1474.1 432.5 1474.6 432.5 1475.1 430.9 1475.6 430.0 1476.1 431.6 1476.6 430.2 1477.1 430.4 1477.6 430.5 1478.1 431.5 1478.6 431.3 1479.1 432.5 1479.6 432.2 1480.1 432.8 1480.6 435.0 1481.1 435.8 1481.6 436.1 1482.1 436.6 1482.6 437.1 1483.1 437.2 1483.6 438.8 1484.1 438.8 1484.6 439.0 1485.1 439.3 1485.6 439.8 1486.1 439.8 1486.6 440.1 1487.1 439.3 1487.6 440.2 1488.1 441.2 1488.6 439.9 1489.1 440.2 1489.6 440.8 1490.1 440.9 1490.6 440.8 1491.1 439.7 1491.6 440.8 1492.1 440.0 1492.6 440.2 1493.1 440.9 1493.6 440.5 1494.1 441.0 1494.6 442.2 1495.1 441.0 1495.6 441.0 1496.1 440.2 1496.6 440.3 1497.1 440.1 1497.6 440.4 1498.1 440.1 1498.6 440.3 1499.1 440.5 1499.6 440.1 1500.1 439.9 1500.6 439.9 1501.1 440.8 1501.6 440.6 1502.1 441.1 1502.6 441.1 1503.1 440.4 1503.6 440.9 1504.1 439.8 1504.6 441.6 1505.1 441.1 1505.6 440.4 1506.1 439.9 1506.6 440.6 1507.1 439.5 1507.6 440.0 1508.1 440.7 1508.6 440.4 1509.1 440.1 1509.6 440.8 1510.1 439.7 1510.6 440.4 1511.1 440.0 1511.6 439.8 1512.1 440.4 1512.6 439.6 1513.1 441.0 1513.6 439.7 1514.1 441.0 1514.6 439.4 1515.1 440.2 1515.6 439.2 1516.1 439.0 1516.6 439.7 1517.1 439.9 1517.6 438.8 1518.1 439.9 1518.6 438.8 1519.1 439.1 1519.6 439.1 1520.1 439.0 1520.6 437.5 1521.1 438.9 1521.6 438.1 1522.1 437.1 1522.6 436.3 1523.1 435.3 1523.6 434.7 1524.1 434.6 1524.6 432.8 1525.1 430.7 1525.6 428.9 1526.1 427.2 1526.6 423.0 1527.1 419.1 1527.6 416.4 1528.1 413.0 1528.6 411.7 1529.1 412.5 1529.6 414.8 1530.1 418.7 1530.6 422.8 1531.1 426.2 1531.6 429.1 1532.1 431.4 1532.6 432.8 1533.1 434.1 1533.6 434.5 1534.1 434.7 1534.6 436.2 1535.1 436.4 1535.6 437.0 1536.1 437.5 1536.6 437.2 1537.1 437.5 1537.6 438.2 1538.1 438.4 1538.6 438.1 1539.1 438.8 1539.6 438.5 1540.1 438.1 1540.6 438.7 1541.1 439.6 1541.6 438.3 1542.1 439.2 1542.6 439.3 1543.1 439.3 1543.6 438.1 1544.1 439.4 1544.6 438.4 1545.1 438.1 1545.6 437.9 1546.1 438.1 1546.6 437.6 1547.1 437.2 1547.6 437.6 1548.1 436.2 1548.6 435.5 1549.1 435.7 1549.6 434.9 1550.1 434.0 1550.6 431.6 1551.1 431.1 1551.6 428.8 1552.1 427.2 1552.6 423.3 1553.1 421.8 1553.6 420.1 1554.1 419.0 1554.6 420.3 1555.1 423.1 1555.6 424.6 1556.1 426.8 1556.6 429.8 1557.1 431.6 1557.6 433.1 1558.1 433.4 1558.6 434.8 1559.1 436.1 1559.6 435.8 1560.1 436.3 1560.6 437.4 1561.1 438.1 1561.6 437.0 1562.1 436.5 1562.6 437.3 1563.1 437.7 1563.6 438.2 1564.1 438.7 1564.6 438.4 1565.1 438.2 1565.6 438.7 1566.1 438.2 1566.6 438.7 1567.1 438.5 1567.6 440.2 1568.1 439.3 1568.6 438.5 1569.1 438.4 1569.6 438.7 1570.1 438.1 1570.6 438.6 1571.1 438.6 1571.6 439.4 1572.1 438.8 1572.6 438.6 1573.1 438.3 1573.6 438.4 1574.1 439.0 1574.6 438.9 1575.1 439.6 1575.6 438.7 1576.1 439.5 1576.6 439.1 1577.1 439.0 1577.6 438.0 1578.1 438.3 1578.6 439.4 1579.1 439.7 1579.6 439.1 1580.1 439.3 1580.6 438.8 1581.1 438.8 1581.6 438.6 1582.1 439.4 1582.6 439.1 1583.1 438.8 1583.6 438.8 1584.1 439.2 1584.6 439.1 1585.1 438.5 1585.6 439.7 1586.1 439.0 1586.6 438.9 1587.1 439.6 1587.6 439.4 1588.1 438.8 1588.6 439.1 1589.1 438.3 1589.6 438.5 1590.1 437.7 1590.6 439.4 1591.1 437.8 1591.6 439.1 1592.1 438.4 1592.6 438.3 1593.1 438.7 1593.6 438.9 1594.1 439.0 1594.6 439.6 1595.1 438.9 1595.6 439.1 1596.1 438.4 1596.6 439.0 1597.1 438.7 1597.6 438.4 1598.1 438.6 1598.6 438.6 1599.1 438.7 1599.6 438.8 1600.1 438.3 1600.6 438.2 1601.1 439.0 1601.6 437.8 1602.1 438.3 1602.6 439.4 1603.1 437.3 1603.6 438.3 1604.1 439.0 1604.6 437.8 1605.1 439.9 1605.6 437.3 1606.1 439.4 1606.6 439.4 1607.1 439.1 1607.6 438.5 1608.1 438.8 1608.6 438.2 1609.1 439.1 1609.6 438.1 1610.1 438.5 1610.6 439.2 1611.1 438.1 1611.6 438.5 1612.1 438.7 1612.6 438.0 1613.1 439.2 1613.6 438.8 1614.1 437.9 1614.6 438.6 1615.1 438.3 1615.6 438.3 1616.1 438.7 1616.6 438.3 1617.1 439.1 1617.6 438.3 1618.1 439.1 1618.6 438.6 1619.1 439.0 1619.6 438.3 1620.1 438.3 1620.6 438.0 1621.1 438.8 1621.6 439.0 1622.1 439.6 1622.6 439.1 1623.1 438.6 1623.6 438.3 1624.1 438.6 1624.6 438.4 1625.1 439.1 1625.6 438.8 1626.1 437.8 1626.6 437.8 1627.1 438.8 1627.6 438.2 1628.1 437.8 1628.6 438.4 1629.1 437.5 1629.6 437.4 1630.1 437.2 1630.6 436.2 1631.1 437.4 1631.6 436.1 1632.1 436.0 1632.6 435.5 1633.1 435.8 1633.6 434.7 1634.1 434.0 1634.6 432.2 1635.1 431.8 1635.6 429.6 1636.1 428.6 1636.6 426.3 1637.1 423.4 1637.6 421.3 1638.1 417.4 1638.6 414.9 1639.1 413.2 1639.6 413.2 1640.1 415.5 1640.6 418.4 1641.1 420.3 1641.6 424.5 1642.1 426.9 1642.6 429.4 1643.1 431.0 1643.6 431.6 1644.1 432.8 1644.6 435.2 1645.1 435.1 1645.6 434.9 1646.1 436.3 1646.6 436.3 1647.1 435.9 1647.6 436.0 1648.1 436.6 1648.6 437.7 1649.1 437.7 1649.6 437.8 1650.1 438.2 1650.6 438.4 1651.1 437.2 1651.6 438.2 1652.1 438.0 1652.6 437.9 1653.1 438.3 1653.6 438.5 1654.1 438.5 1654.6 438.0 1655.1 438.5 1655.6 439.8 1656.1 438.3 1656.6 438.0 1657.1 439.0 1657.6 439.2 1658.1 439.1 1658.6 438.3 1659.1 439.4 1659.6 438.6 1660.1 438.4 1660.6 438.7 1661.1 438.9 1661.6 439.4 1662.1 439.3 1662.6 439.0 1663.1 439.5 1663.6 439.1 1664.1 439.5 1664.6 438.3 1665.1 438.3 1665.6 439.4 1666.1 438.4 1666.6 438.9 1667.1 439.0 1667.6 438.8 1668.1 438.8 1668.6 439.7 1669.1 437.8 1669.6 439.5 1670.1 440.2 1670.6 439.0 1671.1 439.0 1671.6 439.4 1672.1 439.9 1672.6 438.4 1673.1 439.0 1673.6 438.9 1674.1 439.2 1674.6 439.0 1675.1 439.2 1675.6 438.6 1676.1 438.8 1676.6 438.4 1677.1 438.4 1677.6 438.6 1678.1 438.5 1678.6 438.0 1679.1 439.3 1679.6 438.3 1680.1 437.6 1680.6 438.7 1681.1 437.7 1681.6 438.2 1682.1 437.7 1682.6 437.7 1683.1 437.4 1683.6 436.7 1684.1 436.7 1684.6 437.3 1685.1 434.7 1685.6 435.3 1686.1 434.8 1686.6 433.2 1687.1 432.0 1687.6 432.5 1688.1 429.6 1688.6 428.8 1689.1 425.5 1689.6 422.1 1690.1 418.5 1690.6 414.2 1691.1 409.8 1691.6 405.2 1692.1 402.2 1692.6 401.4 1693.1 403.7 1693.6 407.0 1694.1 410.6 1694.6 415.4 1695.1 420.1 1695.6 423.2 1696.1 426.2 1696.6 428.2 1697.1 430.4 1697.6 432.3 1698.1 433.8 1698.6 434.2 1699.1 436.1 1699.6 435.6 1700.1 437.8 1700.6 437.2 1701.1 437.3 1701.6 437.1 1702.1 436.2 1702.6 437.8 1703.1 438.1 1703.6 439.2 1704.1 437.7 1704.6 439.5 1705.1 438.5 1705.6 439.1 1706.1 437.6 1706.6 439.0 1707.1 438.8 1707.6 439.4 1708.1 439.2 1708.6 438.6 1709.1 439.7 1709.6 439.6 1710.1 439.6 1710.6 439.9 1711.1 439.9 1711.6 439.4 1712.1 438.8 1712.6 438.8 1713.1 440.2 1713.6 439.9 1714.1 439.6 1714.6 439.4 1715.1 439.6 1715.6 439.6 1716.1 439.5 1716.6 439.3 1717.1 440.8 1717.6 439.8 1718.1 439.4 1718.6 439.1 1719.1 439.4 1719.6 440.1 1720.1 440.2 1720.6 439.7 1721.1 439.8 1721.6 439.7 1722.1 439.3 1722.6 440.5 1723.1 440.0 1723.6 441.1 1724.1 439.5 1724.6 439.8 1725.1 440.3 1725.6 439.8 1726.1 439.2 1726.6 439.4 1727.1 440.0 1727.6 440.1 1728.1 439.9 1728.6 440.5 1729.1 440.5 1729.6 440.1 1730.1 440.0 1730.6 439.9 1731.1 440.3 1731.6 440.5 1732.1 440.0 1732.6 440.2 1733.1 439.9 1733.6 439.3 1734.1 439.5 1734.6 440.4 1735.1 440.3 1735.6 440.9 1736.1 440.1 1736.6 440.5 1737.1 440.8 1737.6 440.6 1738.1 439.8 1738.6 440.0 1739.1 440.2 1739.6 439.6 1740.1 440.4 1740.6 440.6 1741.1 439.9 1741.6 441.1 1742.1 440.0 1742.6 440.1 1743.1 440.0 1743.6 439.8 1744.1 440.4 1744.6 440.2 1745.1 441.0 1745.6 440.5 1746.1 440.5 1746.6 440.1 1747.1 439.5 1747.6 440.2 1748.1 439.8 1748.6 440.7 1749.1 440.2 1749.6 441.1 1750.1 440.6 1750.6 440.7 1751.1 440.4 1751.6 440.4 1752.1 440.6 1752.6 440.7 1753.1 439.9 1753.6 440.5 1754.1 441.6 1754.6 440.3 1755.1 440.2 1755.6 440.0 1756.1 439.6 1756.6 440.9 1757.1 440.4 1757.6 440.5 1758.1 441.3 1758.6 441.6 1759.1 439.9 1759.6 440.9 1760.1 440.7 1760.6 440.6 1761.1 440.6 1761.6 440.4 1762.1 441.2 1762.6 440.7 1763.1 440.6 1763.6 441.0 1764.1 440.9 1764.6 440.7 1765.1 440.6 1765.6 441.3 1766.1 440.7 1766.6 440.4 1767.1 440.0 1767.6 440.3 1768.1 439.9 1768.6 440.5 1769.1 440.6 1769.6 439.5 1770.1 440.5 1770.6 440.8 1771.1 440.6 1771.6 440.0 1772.1 441.1 1772.6 440.2 1773.1 439.9 1773.6 440.0 1774.1 440.5 1774.6 441.0 1775.1 441.1 1775.6 440.6 1776.1 440.0 1776.6 440.2 1777.1 440.1 1777.6 440.5 1778.1 439.7 1778.6 440.6 1779.1 440.9 1779.6 440.5 1780.1 440.8 1780.6 440.1 1781.1 439.9 1781.6 440.3 1782.1 441.2 1782.6 441.1 1783.1 440.4 1783.6 441.2 1784.1 440.5 1784.6 441.4 1785.1 440.9 1785.6 440.4 1786.1 441.1 1786.6 440.3 1787.1 440.2 1787.6 439.9 1788.1 440.8 1788.6 440.7 1789.1 440.6 1789.6 440.5 1790.1 441.4 1790.6 440.5 1791.1 440.3 1791.6 441.3 1792.1 441.4 1792.6 440.9 1793.1 439.9 1793.6 440.4 1794.1 441.0 1794.6 440.8 1795.1 441.5 1795.6 440.1 1796.1 441.1 1796.6 440.5 1797.1 441.4 1797.6 440.7 1798.1 441.3 1798.6 440.5 1799.1 440.1 1799.6 440.2 1800.1 440.5 1800.6 440.3 1801.1 441.4 1801.6 441.5 1802.1 440.9 1802.6 440.3 1803.1 440.7 1803.6 440.4 1804.1 441.5 1804.6 440.9 1805.1 441.0 1805.6 440.6 1806.1 439.8 1806.6 440.4 1807.1 440.2 1807.6 441.0 1808.1 440.8 1808.6 440.4 1809.1 440.6 1809.6 441.5 1810.1 440.3 1810.6 440.3 1811.1 440.6 1811.6 440.4 1812.1 440.5 1812.6 441.0 1813.1 441.6 1813.6 439.9 1814.1 440.7 1814.6 440.8 1815.1 440.7 1815.6 440.6 1816.1 440.6 1816.6 441.2 1817.1 440.5 1817.6 440.7 1818.1 440.7 1818.6 440.8 1819.1 440.6 1819.6 441.2 1820.1 440.7 1820.6 440.8 1821.1 440.7 1821.6 440.2 1822.1 440.3 1822.6 440.2 1823.1 440.8 1823.6 440.4 1824.1 440.2 1824.6 440.8 1825.1 441.0 1825.6 439.8 1826.1 441.5 1826.6 440.7 1827.1 440.6 1827.6 441.2 1828.1 440.7 1828.6 440.4 1829.1 441.8 1829.6 440.1 1830.1 440.6 1830.6 441.1 1831.1 440.1 1831.6 440.6 1832.1 440.9 1832.6 441.9 1833.1 440.2 1833.6 440.6 1834.1 441.0 1834.6 440.7 1835.1 440.0 1835.6 440.8 1836.1 440.7 1836.6 440.9 1837.1 441.2 1837.6 441.1 1838.1 440.8 1838.6 440.8 1839.1 440.1 1839.6 440.5 1840.1 440.7 1840.6 440.4 1841.1 440.6 1841.6 440.2 1842.1 441.4 1842.6 441.7 1843.1 440.4 1843.6 440.8 1844.1 440.4 1844.6 441.2 1845.1 440.8 1845.6 440.6 1846.1 440.4 1846.6 440.6 1847.1 440.0 1847.6 440.9 1848.1 440.2 1848.6 440.8 1849.1 440.6 1849.6 441.0 1850.1 440.5 1850.6 441.0 1851.1 440.0 1851.6 440.7 1852.1 440.3 1852.6 440.5 1853.1 440.4 1853.6 440.9 1854.1 439.4 1854.6 440.5 1855.1 439.6 1855.6 440.9 1856.1 439.3 1856.6 439.8 1857.1 439.4 1857.6 441.0 1858.1 439.5 1858.6 440.2 1859.1 439.8 1859.6 439.2 1860.1 439.9 1860.6 440.3 1861.1 439.8 1861.6 440.3 1862.1 439.6 1862.6 439.7 1863.1 439.4 1863.6 439.7 1864.1 440.4 1864.6 439.5 1865.1 439.2 1865.6 438.6 1866.1 438.4 1866.6 439.2 1867.1 437.6 1867.6 437.4 1868.1 437.4 1868.6 436.7 1869.1 437.3 1869.6 434.3 1870.1 434.8 1870.6 433.8 1871.1 431.6 1871.6 430.3 1872.1 429.1 1872.6 427.9 1873.1 425.0 1873.6 423.4 1874.1 424.1 1874.6 424.6 1875.1 424.7 1875.6 425.2 1876.1 428.8 1876.6 429.7 1877.1 432.0 1877.6 432.8 1878.1 433.7 1878.6 434.7 1879.1 436.4 1879.6 437.0 1880.1 435.7 1880.6 436.7 1881.1 438.4 1881.6 437.6 1882.1 437.3 1882.6 438.2 1883.1 438.2 1883.6 438.3 1884.1 438.2 1884.6 438.3 1885.1 438.2 1885.6 438.5 1886.1 437.9 1886.6 438.0 1887.1 437.9 1887.6 438.4 1888.1 437.7 1888.6 437.2 1889.1 437.1 1889.6 436.5 1890.1 436.3 1890.6 435.2 1891.1 434.9 1891.6 433.6 1892.1 431.5 1892.6 429.8 1893.1 428.6 1893.6 426.4 1894.1 424.2 1894.6 421.9 1895.1 420.7 1895.6 421.8 1896.1 422.8 1896.6 424.3 1897.1 425.2 1897.6 428.3 1898.1 429.5 1898.6 431.6 1899.1 433.0 1899.6 433.6 1900.1 434.7 1900.6 434.8 1901.1 436.0 1901.6 436.1 1902.1 437.7 1902.6 437.9 1903.1 438.6 1903.6 438.6 1904.1 438.4 1904.6 439.0 1905.1 438.8 1905.6 439.5 1906.1 439.5 1906.6 438.9 1907.1 439.5 1907.6 439.6 1908.1 439.5 1908.6 440.2 1909.1 440.6 1909.6 439.6 1910.1 439.7 1910.6 438.8 1911.1 439.9 1911.6 439.7 1912.1 438.9 1912.6 440.2 1913.1 440.3 1913.6 439.7 1914.1 439.9 1914.6 439.6 1915.1 440.5 1915.6 439.4 1916.1 440.0 1916.6 441.1 1917.1 440.2 1917.6 440.4 1918.1 440.1 1918.6 439.6 1919.1 440.1 1919.6 440.4 1920.1 439.6 1920.6 440.3 1921.1 440.8 1921.6 440.7 1922.1 439.3 1922.6 439.6 1923.1 439.3 1923.6 440.6 1924.1 440.3 1924.6 440.4 1925.1 439.5 1925.6 439.3 1926.1 439.9 1926.6 439.9 1927.1 439.3 1927.6 439.7 1928.1 439.9 1928.6 439.5 1929.1 438.8 1929.6 438.1 1930.1 438.9 1930.6 438.9 1931.1 438.5 1931.6 438.2 1932.1 437.8 1932.6 438.3 1933.1 437.8 1933.6 437.7 1934.1 437.1 1934.6 437.2 1935.1 437.6 1935.6 437.1 1936.1 437.1 1936.6 437.7 1937.1 438.6 1937.6 438.3 1938.1 439.2 1938.6 438.6 1939.1 438.7 1939.6 438.3 1940.1 438.9 1940.6 440.1 1941.1 439.6 1941.6 440.0 1942.1 440.0 1942.6 439.8 1943.1 439.7 1943.6 440.0 1944.1 440.3 1944.6 440.2 1945.1 440.3 1945.6 440.2 1946.1 439.7 1946.6 440.0 1947.1 439.7 1947.6 440.7 1948.1 439.1 1948.6 440.1 1949.1 441.4 1949.6 440.1 1950.1 439.7 1950.6 440.2 1951.1 440.9 1951.6 440.2 1952.1 440.6 1952.6 440.3 1953.1 440.1 1953.6 441.8 1954.1 440.3 1954.6 440.0 1955.1 440.0 1955.6 440.5 1956.1 440.5 1956.6 440.7 1957.1 440.4 1957.6 439.6 1958.1 440.6 1958.6 440.1 1959.1 440.1 1959.6 439.5 1960.1 440.0 1960.6 439.9 1961.1 440.3 1961.6 439.6 1962.1 440.3 1962.6 440.3 1963.1 439.7 1963.6 440.0 1964.1 439.9 1964.6 440.7 1965.1 439.0 1965.6 440.1 1966.1 439.4 1966.6 440.1 1967.1 440.7 1967.6 440.0 1968.1 440.3 1968.6 439.8 1969.1 441.2 1969.6 440.7 1970.1 440.8 1970.6 439.6 1971.1 439.7 1971.6 440.8 1972.1 440.2 1972.6 440.1 1973.1 440.4 1973.6 439.6 1974.1 440.6 1974.6 440.3 1975.1 440.5 1975.6 439.9 1976.1 440.5 1976.6 439.9 1977.1 440.7 1977.6 440.8 1978.1 440.7 1978.6 440.5 1979.1 440.5 1979.6 438.9 1980.1 440.6 1980.6 440.1 1981.1 440.3 1981.6 440.1 1982.1 439.5 1982.6 439.9 1983.1 440.5 1983.6 440.9 1984.1 439.9 1984.6 439.7 1985.1 440.9 1985.6 439.7 1986.1 441.2 1986.6 440.2 1987.1 439.7 1987.6 440.6 1988.1 441.0 1988.6 439.4 1989.1 440.9 1989.6 440.0 1990.1 440.8 1990.6 439.9 1991.1 439.3 1991.6 440.3 1992.1 440.5 1992.6 441.0 1993.1 440.8 1993.6 440.3 1994.1 439.8 1994.6 439.6 1995.1 439.6 1995.6 439.3 1996.1 439.5 1996.6 438.3 1997.1 439.6 1997.6 439.4 1998.1 440.6 1998.6 439.5 1999.1 438.8 1999.6 439.1 2000.1 438.0 2000.6 438.1 2001.1 437.2 2001.6 438.5 2002.1 437.7 2002.6 436.4 2003.1 436.5 2003.6 436.5 2004.1 435.7 2004.6 435.0 2005.1 433.8 2005.6 433.3 2006.1 433.1 2006.6 433.1 2007.1 431.9 2007.6 431.5 2008.1 432.6 2008.6 431.7 2009.1 432.9 2009.6 432.9 2010.1 433.7 2010.6 434.7 2011.1 434.8 2011.6 435.4 2012.1 435.2 2012.6 435.8 2013.1 437.0 2013.6 437.9 2014.1 438.2 2014.6 439.0 2015.1 438.3 2015.6 438.5 2016.1 439.2 2016.6 438.9 2017.1 439.0 2017.6 438.6 2018.1 439.8 2018.6 438.9 2019.1 439.7 2019.6 438.8 2020.1 440.2 2020.6 439.2 2021.1 440.2 2021.6 439.0 2022.1 439.6 2022.6 440.4 2023.1 439.5 2023.6 439.9 2024.1 439.7 2024.6 438.8 2025.1 440.1"/>
<path class="c" stroke="#0000ff" d="M157.1 794.8L157.6 794.1 158.1 794.9 158.6 794.2 159.1 794.1 159.6 794.7 160.1 794.3 160.6 795.8 161.1 793.9 161.6 795.1 162.1 795.2 162.6 793.7 163.1 793.8 163.6 795.0 164.1 794.5 164.6 794.9 165.1 795.3 165.6 794.6 166.1 794.2 166.6 793.4 167.1 794.9 167.6 794.3 168.1 794.9 168.6 794.9 169.1 794.1 169.6 795.7 170.1 795.4 170.6 795.3 171.1 794.2 171.6 794.6 172.1 794.6 172.6 794.7 173.1 794.3 173.6 795.1 174.1 795.0 174.6 795.1 175.1 794.7 175.6 795.6 176.1 795.0 176.6 793.6 177.1 794.6 177.6 794.9 178.1 795.4 178.6 794.8 179.1 794.8 179.6 794.6 180.1 795.3 180.6 794.8 181.1 794.7 181.6 794.6 182.1 795.3 182.6 794.8 183.1 794.2 183.6 795.3 184.1 794.7 184.6 795.2 185.1 795.2 185.6 795.7 186.1 795.6 186.6 794.8 187.1 795.0 187.6 794.5 188.1 795.9 188.6 795.3 189.1 795.8 189.6 795.0 190.1 794.1 190.6 795.9 191.1 795.2 191.6 795.2 192.1 795.2 192.6 795.5 193.1 795.5 193.6 794.4 194.1 795.7 194.6 794.9 195.1 795.0 195.6 796.1 196.1 795.7 196.6 795.1 197.1 794.3 197.6 795.3 198.1 795.5 198.6 795.2 199.1 794.7 199.6 794.9 200.1 794.7 200.6 795.4 201.1 795.7 201.6 795.8 202.1 795.0 202.6 795.5 203.1 795.6 203.6 795.1 204.1 795.3 204.6 796.4 205.1 795.5 205.6 795.8 206.1 795.2 206.6 795.4 207.1 794.6 207.6 795.4 208.1 796.0 208.6 796.5 209.1 796.0 209.6 795.8 210.1 795.5 210.6 795.2 211.1 795.4 211.6 795.8 212.1 795.1 212.6 796.0 213.1 795.0 213.6 794.6 214.1 795.0 214.6 794.7 215.1 794.8 215.6 796.1 216.1 795.4 216.6 795.7 217.1 796.1 217.6 796.2 218.1 795.3 218.6 796.3 219.1 795.8 219.6 795.6 220.1 795.8 220.6 794.9 221.1 795.2 221.6 795.6 222.1 795.9 222.6 795.5 223.1 795.6 223.6 796.1 224.1 796.4 224.6 796.1 225.1 796.3 225.6 795.5 226.1 795.5 226.6 795.9 227.1 795.6 227.6 795.5 228.1 796.6 228.6 795.6 229.1 795.3 229.6 796.0 230.1 796.7 230.6 795.8 231.1 796.4 231.6 795.6 232.1 795.5 232.6 795.5 233.1 795.7 233.6 796.7 234.1 795.2 234.6 796.7 235.1 795.3 235.6 795.7 236.1 796.3 236.6 796.2 237.1 796.0 237.6 795.1 238.1 796.1 238.6 795.4 239.1 797.2 239.6 795.8 240.1 796.0 240.6 795.3 241.1 795.7 241.6 795.3 242.1 796.4 242.6 795.8 243.1 796.2 243.6 795.6 244.1 795.7 244.6 796.6 245.1 795.5 245.6 795.1 246.1 796.2 246.6 795.4 247.1 795.8 247.6 796.5 248.1 795.6 248.6 796.5 249.1 795.7 249.6 796.8 250.1 796.7 250.6 795.8 251.1 796.0 251.6 795.6 252.1 796.2 252.6 796.6 253.1 795.4 253.6 796.5 254.1 795.4 254.6 795.7 255.1 795.2 255.6 797.2 256.1 796.1 256.6 796.2 257.1 795.8 257.6 796.6 258.1 795.1 258.6 796.1 259.1 797.2 259.6 795.9 260.1 796.1 260.6 796.4 261.1 795.7 261.6 796.1 262.1 796.6 262.6 796.2 263.1 796.3 263.6 795.9 264.1 796.2 264.6 796.1 265.1 796.8 265.6 796.4 266.1 795.9 266.6 794.7 267.1 796.3 267.6 796.3 268.1 795.4 268.6 794.8 269.1 795.1 269.6 796.1 270.1 795.0 270.6 795.2 271.1 795.5 271.6 795.8 272.1 795.1 272.6 794.8 273.1 794.4 273.6 795.3 274.1 794.8 274.6 793.9 275.1 793.0 275.6 793.0 276.1 793.5 276.6 792.6 277.1 793.2 277.6 792.7 278.1 792.6 278.6 792.7 279.1 792.6 279.6 792.0 280.1 792.4 280.6 793.8 281.1 792.2 281.6 792.6 282.1 793.5 282.6 792.9 283.1 792.6 283.6 792.3 284.1 793.1 284.6 793.2 285.1 793.2 285.6 792.2 286.1 792.5 286.6 791.1 287.1 791.5 287.6 790.8 288.1 791.1 288.6 791.3 289.1 791.4 289.6 790.5 290.1 791.8 290.6 791.2 291.1 791.3 291.6 792.1 292.1 791.9 292.6 793.0 293.1 793.6 293.6 793.7 294.1 794.4 294.6 794.3 295.1 794.8 295.6 794.3 296.1 795.3 296.6 795.0 297.1 795.4 297.6 795.7 298.1 796.0 298.6 795.2 299.1 795.3 299.6 796.0 300.1 796.5 300.6 796.5 301.1 796.8 301.6 797.1 302.1 796.7 302.6 796.5 303.1 796.1 303.6 796.1 304.1 796.4 304.6 796.8 305.1 796.8 305.6 796.7 306.1 796.7 306.6 797.1 307.1 796.9 307.6 797.0 308.1 797.0 308.6 796.6 309.1 796.4 309.6 797.1 310.1 797.1 310.6 796.8 311.1 796.7 311.6 798.1 312.1 796.6 312.6 796.9 313.1 797.1 313.6 796.4 314.1 797.1 314.6 797.9 315.1 797.5 315.6 797.4 316.1 797.4 316.6 797.1 317.1 797.6 317.6 797.0 318.1 796.9 318.6 797.2 319.1 797.6 319.6 797.3 320.1 797.5 320.6 796.1 321.1 797.8 321.6 798.3 322.1 797.9 322.6 797.0 323.1 796.8 323.6 797.3 324.1 796.7 324.6 797.6 325.1 797.0 325.6 797.7 326.1 797.9 326.6 796.2 327.1 797.4 327.6 796.9 328.1 796.6 328.6 797.0 329.1 797.2 329.6 797.8 330.1 796.6 330.6 797.9 331.1 798.3 331.6 797.6 332.1 797.6 332.6 797.4 333.1 796.8 333.6 797.6 334.1 797.6 334.6 797.8 335.1 798.7 335.6 797.8 336.1 797.6 336.6 798.2 337.1 796.7 337.6 796.8 338.1 797.2 338.6 797.1 339.1 797.8 339.6 797.3 340.1 798.3 340.6 798.2 341.1 797.8 341.6 797.2 342.1 797.7 342.6 797.8 343.1 796.9 343.6 797.6 344.1 797.8 344.6 797.5 345.1 798.2 345.6 798.0 346.1 797.0 346.6 797.5 347.1 797.0 347.6 797.7 348.1 797.0 348.6 797.9 349.1 797.6 349.6 797.9 350.1 797.4 350.6 796.7 351.1 798.3 351.6 797.3 352.1 798.1 352.6 797.6 353.1 797.8 353.6 798.3 354.1 797.6 354.6 798.1 355.1 796.7 355.6 797.9 356.1 797.3 356.6 797.3 357.1 797.4 357.6 797.6 358.1 798.2 358.6 796.5 359.1 797.4 359.6 797.0 360.1 798.0 360.6 797.2 361.1 797.6 361.6 797.2 362.1 797.7 362.6 797.8 363.1 797.1 363.6 797.3 364.1 796.6 364.6 797.4 365.1 797.7 365.6 796.9 366.1 797.7 366.6 796.1 367.1 796.2 367.6 796.3 368.1 796.7 368.6 796.9 369.1 796.8 369.6 796.7 370.1 796.9 370.6 796.2 371.1 795.6 371.6 795.4 372.1 796.8 372.6 794.2 373.1 794.9 373.6 795.1 374.1 793.9 374.6 792.3 375.1 791.5 375.6 790.5 376.1 788.9 376.6 786.0 377.1 785.1 377.6 783.6 378.1 783.7 378.6 784.5 379.1 785.1 379.6 786.3 380.1 789.1 380.6 791.3 381.1 792.1 381.6 792.8 382.1 794.7 382.6 793.5 383.1 794.8 383.6 794.3 384.1 794.7 384.6 794.7 385.1 795.4 385.6 794.2 386.1 794.4 386.6 793.9 387.1 795.1 387.6 794.9 388.1 795.6 388.6 795.2 389.1 795.8 389.6 796.7 390.1 796.3 390.6 796.9 391.1 797.0 391.6 796.7 392.1 796.2 392.6 797.5 393.1 797.2 393.6 797.7 394.1 796.2 394.6 796.4 395.1 796.2 395.6 796.8 396.1 797.8 396.6 797.6 397.1 797.3 397.6 797.4 398.1 797.7 398.6 797.1 399.1 797.4 399.6 797.3 400.1 796.1 400.6 796.9 401.1 797.7 401.6 796.8 402.1 796.8 402.6 796.5 403.1 796.5 403.6 797.1 404.1 796.4 404.6 795.9 405.1 794.8 405.6 796.0 406.1 795.3 406.6 795.4 407.1 796.8 407.6 796.9 408.1 795.7 408.6 797.2 409.1 797.1 409.6 796.6 410.1 797.4 410.6 796.3 411.1 796.6 411.6 796.6 412.1 796.8 412.6 797.8 413.1 796.7 413.6 796.9 414.1 797.0 414.6 797.6 415.1 797.3 415.6 797.9 416.1 797.2 416.6 796.9 417.1 797.3 417.6 797.6 418.1 797.1 418.6 797.7 419.1 798.5 419.6 797.3 420.1 797.6 420.6 798.3 421.1 797.3 421.6 797.2 422.1 797.0 422.6 797.8 423.1 797.8 423.6 797.5 424.1 797.6 424.6 798.2 425.1 798.0 425.6 796.9 426.1 797.6 426.6 797.6 427.1 797.9 427.6 797.5 428.1 797.3 428.6 797.3 429.1 796.7 429.6 797.6 430.1 797.3 430.6 797.8 431.1 797.1 431.6 797.3 432.1 797.1 432.6 797.0 433.1 797.9 433.6 797.3 434.1 797.8 434.6 797.0 435.1 797.6 435.6 796.7 436.1 797.3 436.6 797.3 437.1 797.8 437.6 797.6 438.1 797.4 438.6 797.9 439.1 797.6 439.6 797.7 440.1 797.8 440.6 797.4 441.1 797.3 441.6 797.6 442.1 797.2 442.6 797.6 443.1 797.9 443.6 797.8 444.1 797.2 444.6 796.7 445.1 797.3 445.6 797.2 446.1 797.8 446.6 797.1 447.1 797.1 447.6 797.6 448.1 796.9 448.6 797.0 449.1 797.9 449.6 797.7 450.1 797.2 450.6 797.0 451.1 796.3 451.6 796.9 452.1 796.6 452.6 796.5 453.1 796.0 453.6 796.1 454.1 795.8 454.6 795.8 455.1 796.0 455.6 795.2 456.1 793.8 456.6 793.6 457.1 792.8 457.6 792.5 458.1 792.4 458.6 791.4 459.1 789.8 459.6 788.9 460.1 786.7 460.6 784.4 461.1 781.9 461.6 779.2 462.1 776.6 462.6 770.8 463.1 767.0 463.6 761.2 464.1 754.1 464.6 747.9 465.1 741.9 465.6 737.9 466.1 736.0 466.6 735.8 467.1 738.6 467.6 742.7 468.1 747.2 468.6 752.3 469.1 756.9 469.6 761.2 470.1 763.8 470.6 767.0 471.1 768.5 471.6 768.9 472.1 770.7 472.6 768.7 473.1 767.8 473.6 766.8 474.1 763.6 474.6 761.7 475.1 758.7 475.6 756.3 476.1 754.5 476.6 753.3 477.1 753.4 477.6 754.0 478.1 756.0 478.6 758.3 479.1 760.6 479.6 764.2 480.1 765.9 480.6 768.0 481.1 770.9 481.6 771.8 482.1 772.5 482.6 773.2 483.1 773.3 483.6 771.7 484.1 771.4 484.6 769.3 485.1 767.8 485.6 764.6 486.1 762.1 486.6 757.8 487.1 753.0 487.6 749.6 488.1 746.0 488.6 745.2 489.1 745.8 489.6 748.0 490.1 750.9 490.6 756.6 491.1 762.4 491.6 767.5 492.1 772.7 492.6 775.7 493.1 780.2 493.6 782.6 494.1 785.5 494.6 787.7 495.1 789.5 495.6 790.3 496.1 791.8 496.6 792.1 497.1 792.8 497.6 794.4 498.1 794.7 498.6 794.4 499.1 795.2 499.6 796.0 500.1 797.1 500.6 797.1 501.1 797.2 501.6 796.1 502.1 797.1 502.6 797.6 503.1 797.7 503.6 797.8 504.1 797.6 504.6 798.7 505.1 798.6 505.6 797.9 506.1 797.5 506.6 799.1 507.1 797.8 507.6 798.8 508.1 799.2 508.6 797.8 509.1 798.4 509.6 798.1 510.1 798.6 510.6 798.5 511.1 799.4 511.6 798.7 512.1 798.4 512.6 799.0 513.1 798.3 513.6 798.3 514.1 799.6 514.6 798.1 515.1 798.3 515.6 798.6 516.1 798.0 516.6 797.5 517.1 799.1 517.6 798.2 518.1 798.3 518.6 798.4 519.1 798.1 519.6 798.1 520.1 798.7 520.6 799.8 521.1 799.0 521.6 799.0 522.1 797.9 522.6 798.7 523.1 798.1 523.6 799.1 524.1 798.6 524.6 798.7 525.1 798.6 525.6 798.4 526.1 797.9 526.6 799.0 527.1 798.0 527.6 798.1 528.1 798.5 528.6 798.3 529.1 798.8 529.6 799.2 530.1 798.8 530.6 798.7 531.1 798.6 531.6 799.1 532.1 797.7 532.6 798.8 533.1 798.1 533.6 798.0 534.1 798.6 534.6 798.4 535.1 798.8 535.6 799.1 536.1 797.3 536.6 798.4 537.1 799.4 537.6 798.8 538.1 799.1 538.6 798.4 539.1 797.6 539.6 797.7 540.1 798.6 540.6 798.7 541.1 797.8 541.6 798.0 542.1 798.2 542.6 797.1 543.1 797.8 543.6 798.7 544.1 798.9 544.6 797.6 545.1 798.5 545.6 797.3 546.1 797.0 546.6 796.2 547.1 797.7 547.6 796.9 548.1 798.1 548.6 796.9 549.1 796.6 549.6 795.4 550.1 796.9 550.6 795.7 551.1 795.5 551.6 794.1 552.1 795.3 552.6 794.9 553.1 793.7 553.6 793.5 554.1 793.1 554.6 792.6 555.1 791.4 555.6 791.3 556.1 789.3 556.6 787.8 557.1 786.4 557.6 783.6 558.1 782.3 558.6 780.7 559.1 777.2 559.6 772.8 560.1 768.7 560.6 761.5 561.1 754.7 561.6 745.2 562.1 732.3 562.6 714.6 563.1 693.1 563.6 664.5 564.1 626.8 564.6 584.6 565.1 539.5 565.6 504.4 566.1 491.5 566.6 503.0 567.1 535.5 567.6 576.3 568.1 616.3 568.6 650.0 569.1 675.5 569.6 692.1 570.1 702.6 570.6 709.7 571.1 710.0 571.6 705.8 572.1 695.9 572.6 681.2 573.1 657.1 573.6 626.1 574.1 585.9 574.6 543.3 575.1 504.5 575.6 482.7 576.1 486.8 576.6 515.0 577.1 559.4 577.6 603.6 578.1 644.6 578.6 678.0 579.1 703.0 579.6 723.5 580.1 738.4 580.6 749.3 581.1 759.1 581.6 765.0 582.1 770.5 582.6 774.1 583.1 777.2 583.6 780.6 584.1 783.1 584.6 784.9 585.1 787.2 585.6 787.0 586.1 788.7 586.6 789.4 587.1 791.8 587.6 791.6 588.1 792.3 588.6 792.5 589.1 794.0 589.6 793.8 590.1 794.5 590.6 793.7 591.1 795.6 591.6 795.5 592.1 795.8 592.6 796.3 593.1 795.8 593.6 796.0 594.1 796.6 594.6 796.6 595.1 796.4 595.6 796.7 596.1 796.5 596.6 797.2 597.1 797.4 597.6 797.0 598.1 798.1 598.6 796.4 599.1 797.1 599.6 798.2 600.1 797.2 600.6 796.6 601.1 798.2 601.6 797.8 602.1 797.0 602.6 798.0 603.1 797.1 603.6 797.0 604.1 797.6 604.6 797.5 605.1 797.2 605.6 797.6 606.1 797.3 606.6 797.9 607.1 797.8 607.6 798.2 608.1 797.7 608.6 797.2 609.1 797.3 609.6 797.8 610.1 798.7 610.6 798.4 611.1 797.6 611.6 798.5 612.1 797.4 612.6 798.5 613.1 797.8 613.6 798.4 614.1 798.3 614.6 797.9 615.1 798.2 615.6 797.5 616.1 798.0 616.6 798.6 617.1 800.1 617.6 798.4 618.1 798.1 618.6 797.5 619.1 798.6 619.6 797.2 620.1 797.6 620.6 798.2 621.1 797.4 621.6 798.8 622.1 798.6 622.6 797.7 623.1 797.7 623.6 797.4 624.1 797.3 624.6 798.2 625.1 798.3 625.6 798.2 626.1 798.1 626.6 797.7 627.1 798.2 627.6 797.2 628.1 798.0 628.6 798.7 629.1 798.6 629.6 797.7 630.1 797.8 630.6 798.6 631.1 798.8 631.6 797.2 632.1 797.7 632.6 798.0 633.1 798.5 633.6 797.4 634.1 798.2 634.6 797.7 635.1 799.0 635.6 798.0 636.1 797.7 636.6 797.6 637.1 798.3 637.6 798.1 638.1 797.2 638.6 797.8 639.1 797.0 639.6 797.3 640.1 797.0 640.6 797.0 641.1 797.3 641.6 797.1 642.1 797.8 642.6 797.9 643.1 797.4 643.6 796.9 644.1 797.9 644.6 796.4 645.1 796.4 645.6 797.7 646.1 797.6 646.6 797.7 647.1 797.1 647.6 796.5 648.1 796.8 648.6 797.3 649.1 796.6 649.6 796.5 650.1 796.1 650.6 796.1 651.1 797.0 651.6 796.7 652.1 795.8 652.6 795.7 653.1 795.8 653.6 796.2 654.1 795.1 654.6 795.4 655.1 794.1 655.6 794.3 656.1 794.7 656.6 794.5 657.1 793.0 657.6 792.6 658.1 792.7 658.6 791.2 659.1 790.1 659.6 789.4 660.1 787.6 660.6 786.1 661.1 783.5 661.6 779.6 662.1 775.6 662.6 770.2 663.1 762.4 663.6 753.1 664.1 741.7 664.6 724.9 665.1 708.0 665.6 689.0 666.1 674.1 666.6 668.7 667.1 674.4 667.6 689.4 668.1 707.2 668.6 725.5 669.1 741.1 669.6 754.5 670.1 763.4 670.6 769.7 671.1 775.4 671.6 779.3 672.1 782.9 672.6 785.5 673.1 788.5 673.6 788.0 674.1 790.7 674.6 791.4 675.1 791.7 675.6 792.6 676.1 793.0 676.6 793.8 677.1 794.7 677.6 793.8 678.1 795.5 678.6 794.9 679.1 796.1 679.6 795.7 680.1 796.3 680.6 796.1 681.1 796.5 681.6 796.1 682.1 795.7 682.6 796.5 683.1 796.6 683.6 797.4 684.1 795.4 684.6 796.4 685.1 797.0 685.6 795.9 686.1 796.5 686.6 797.7 687.1 797.4 687.6 796.2 688.1 797.4 688.6 797.3 689.1 797.1 689.6 796.9 690.1 796.9 690.6 796.3 691.1 796.5 691.6 797.2 692.1 796.9 692.6 797.7 693.1 796.7 693.6 795.6 694.1 796.7 694.6 797.0 695.1 797.0 695.6 796.9 696.1 796.4 696.6 797.6 697.1 796.5 697.6 797.2 698.1 796.7 698.6 796.2 699.1 797.6 699.6 795.6 700.1 796.4 700.6 797.1 701.1 796.7 701.6 797.2 702.1 796.8 702.6 796.6 703.1 797.9 703.6 796.7 704.1 796.7 704.6 796.3 705.1 796.4 705.6 797.1 706.1 797.1 706.6 796.8 707.1 796.4 707.6 797.1 708.1 795.9 708.6 796.6 709.1 796.6 709.6 796.3 710.1 796.8 710.6 796.4 711.1 796.3 711.6 797.6 712.1 797.0 712.6 797.3 713.1 796.7 713.6 797.1 714.1 797.0 714.6 797.2 715.1 797.8 715.6 796.5 716.1 796.7 716.6 796.6 717.1 794.8 717.6 795.9 718.1 796.6 718.6 796.8 719.1 796.2 719.6 797.1 720.1 797.1 720.6 796.3 721.1 797.2 721.6 797.3 722.1 796.7 722.6 795.9 723.1 797.1 723.6 796.3 724.1 796.2 724.6 796.4 725.1 796.1 725.6 796.8 726.1 796.7 726.6 796.9 727.1 796.5 727.6 795.8 728.1 796.1 728.6 796.6 729.1 795.9 729.6 797.6 730.1 796.0 730.6 795.8 731.1 796.6 731.6 796.4 732.1 796.0 732.6 795.8 733.1 796.1 733.6 796.3 734.1 796.2 734.6 795.6 735.1 796.0 735.6 796.1 736.1 796.0 736.6 794.1 737.1 795.1 737.6 795.1 738.1 795.3 738.6 795.4 739.1 795.7 739.6 795.5 740.1 795.0 740.6 795.0 741.1 795.8 741.6 794.5 742.1 794.8 742.6 795.3 743.1 794.5 743.6 793.2 744.1 794.2 744.6 793.6 745.1 793.5 745.6 793.8 746.1 793.2 746.6 792.5 747.1 792.7 747.6 792.0 748.1 791.3 748.6 790.8 749.1 790.1 749.6 789.0 750.1 787.9 750.6 786.9 751.1 785.0 751.6 783.1 752.1 782.3 752.6 778.9 753.1 775.7 753.6 771.5 754.1 766.3 754.6 759.4 755.1 750.5 755.6 738.2 756.1 723.5 756.6 702.3 757.1 677.2 757.6 644.7 758.1 612.4 758.6 585.7 759.1 571.5 759.6 577.3 760.1 600.8 760.6 631.9 761.1 664.7 761.6 691.7 762.1 715.1 762.6 732.4 763.1 746.1 763.6 756.3 764.1 763.0 764.6 770.0 765.1 773.4 765.6 776.3 766.1 778.9 766.6 783.1 767.1 784.1 767.6 785.3 768.1 786.4 768.6 787.2 769.1 789.2 769.6 789.1 770.1 790.5 770.6 789.9 771.1 789.0 771.6 790.7 772.1 790.0 772.6 789.9 773.1 790.5 773.6 789.1 774.1 789.1 774.6 787.6 775.1 786.1 775.6 785.5 776.1 783.7 776.6 783.5 777.1 782.7 777.6 782.0 778.1 782.7 778.6 783.5 779.1 784.4 779.6 786.4 780.1 787.2 780.6 788.9 781.1 789.3 781.6 790.8 782.1 791.7 782.6 791.7 783.1 792.4 783.6 792.7 784.1 793.7 784.6 793.2 785.1 794.0 785.6 794.7 786.1 794.3 786.6 793.4 787.1 794.4 787.6 794.9 788.1 794.3 788.6 795.1 789.1 794.9 789.6 794.8 790.1 794.5 790.6 794.4 791.1 794.5 791.6 794.7 792.1 794.9 792.6 794.8 793.1 794.5 793.6 794.6 794.1 794.8 794.6 793.7 795.1 794.1 795.6 794.0 796.1 794.3 796.6 794.2 797.1 794.1 797.6 793.7 798.1 794.4 798.6 794.0 799.1 792.9 799.6 793.5 800.1 792.7 800.6 793.9 801.1 792.5 801.6 792.1 802.1 791.9 802.6 791.2 803.1 790.6 803.6 790.6 804.1 789.1 804.6 788.4 805.1 787.5 805.6 785.4 806.1 785.7 806.6 784.4 807.1 783.9 807.6 782.6 808.1 783.5 808.6 783.6 809.1 783.8 809.6 786.1 810.1 786.3 810.6 786.9 811.1 788.1 811.6 789.4 812.1 790.3 812.6 790.7 813.1 791.7 813.6 792.3 814.1 791.4 814.6 792.1 815.1 792.1 815.6 792.9 816.1 793.7 816.6 793.5 817.1 792.7 817.6 793.2 818.1 793.9 818.6 793.2 819.1 793.4 819.6 793.7 820.1 792.6 820.6 793.9 821.1 793.6 821.6 793.7 822.1 792.9 822.6 792.9 823.1 793.0 823.6 793.3 824.1 793.1 824.6 793.0 825.1 793.7 825.6 793.3 826.1 792.1 826.6 792.0 827.1 792.9 827.6 791.6 828.1 792.1 828.6 791.9 829.1 790.4 829.6 790.0 830.1 789.6 830.6 788.5 831.1 787.6 831.6 786.8 832.1 786.2 832.6 784.1 833.1 782.3 833.6 779.9 834.1 776.5 834.6 774.1 835.1 767.4 835.6 762.1 836.1 755.1 836.6 744.9 837.1 735.4 837.6 725.2 838.1 715.6 838.6 711.7 839.1 712.0 839.6 718.5 840.1 726.8 840.6 735.8 841.1 744.2 841.6 749.6 842.1 753.9 842.6 755.2 843.1 754.0 843.6 752.4 844.1 748.2 844.6 741.2 845.1 735.4 845.6 727.9 846.1 723.3 846.6 721.6 847.1 725.3 847.6 731.9 848.1 739.4 848.6 747.2 849.1 752.5 849.6 759.0 850.1 761.0 850.6 762.0 851.1 762.8 851.6 761.4 852.1 759.2 852.6 753.7 853.1 747.7 853.6 738.5 854.1 730.2 854.6 719.4 855.1 712.0 855.6 706.9 856.1 710.0 856.6 716.6 857.1 727.8 857.6 739.0 858.1 748.2 858.6 757.1 859.1 764.2 859.6 769.5 860.1 774.3 860.6 777.6 861.1 780.0 861.6 782.9 862.1 784.8 862.6 785.2 863.1 786.7 863.6 787.9 864.1 788.6 864.6 789.0 865.1 790.3 865.6 790.8 866.1 791.1 866.6 791.0 867.1 792.4 867.6 792.5 868.1 791.6 868.6 792.0 869.1 792.8 869.6 791.9 870.1 792.7 870.6 792.6 871.1 792.3 871.6 792.6 872.1 792.0 872.6 792.6 873.1 792.0 873.6 794.1 874.1 793.8 874.6 793.7 875.1 793.3 875.6 793.7 876.1 793.8 876.6 793.7 877.1 793.7 877.6 792.8 878.1 793.4 878.6 793.0 879.1 792.6 879.6 792.6 880.1 793.4 880.6 793.7 881.1 792.4 881.6 794.0 882.1 793.8 882.6 792.8 883.1 792.7 883.6 792.8 884.1 793.2 884.6 792.4 885.1 791.9 885.6 792.5 886.1 791.2 886.6 792.1 887.1 792.5 887.6 791.9 888.1 792.1 888.6 791.8 889.1 791.9 889.6 791.6 890.1 791.1 890.6 791.5 891.1 791.6 891.6 792.4 892.1 792.7 892.6 792.3 893.1 791.8 893.6 792.0 894.1 792.4 894.6 793.3 895.1 792.9 895.6 792.8 896.1 792.5 896.6 793.4 897.1 793.2 897.6 793.1 898.1 793.2 898.6 794.1 899.1 793.2 899.6 794.1 900.1 793.9 900.6 793.4 901.1 793.8 901.6 793.4 902.1 793.0 902.6 793.3 903.1 793.0 903.6 793.8 904.1 793.5 904.6 793.8 905.1 794.0 905.6 792.0 906.1 793.8 906.6 792.7 907.1 793.7 907.6 793.2 908.1 793.7 908.6 794.4 909.1 792.8 909.6 793.8 910.1 793.7 910.6 792.8 911.1 794.1 911.6 793.8 912.1 793.5 912.6 793.4 913.1 795.4 913.6 793.6 914.1 792.9 914.6 793.3 915.1 793.6 915.6 793.6 916.1 793.8 916.6 793.3 917.1 794.1 917.6 793.6 918.1 793.1 918.6 793.4 919.1 793.6 919.6 794.2 920.1 794.0 920.6 793.6 921.1 793.7 921.6 793.8 922.1 794.7 922.6 793.3 923.1 793.8 923.6 793.9 924.1 793.0 924.6 793.5 925.1 793.5 925.6 793.2 926.1 793.7 926.6 793.9 927.1 794.0 927.6 793.4 928.1 793.6 928.6 794.7 929.1 793.1 929.6 793.8 930.1 794.2 930.6 793.9 931.1 794.2 931.6 794.0 932.1 794.3 932.6 794.6 933.1 793.9 933.6 794.1 934.1 794.0 934.6 793.9 935.1 794.1 935.6 793.6 936.1 794.5 936.6 795.0 937.1 795.1 937.6 794.8 938.1 793.7 938.6 795.0 939.1 793.9 939.6 794.2 940.1 795.2 940.6 793.7 941.1 794.7 941.6 794.4 942.1 794.2 942.6 793.9 943.1 794.5 943.6 794.1 944.1 794.8 944.6 794.9 945.1 793.6 945.6 794.0 946.1 794.1 946.6 793.7 947.1 793.7 947.6 794.3 948.1 794.1 948.6 793.3 949.1 793.8 949.6 794.3 950.1 793.4 950.6 793.4 951.1 794.6 951.6 794.4 952.1 792.7 952.6 792.7 953.1 793.4 953.6 792.5 954.1 792.8 954.6 792.5 955.1 792.8 955.6 791.2 956.1 791.3 956.6 791.8 957.1 793.0 957.6 792.5 958.1 791.9 958.6 793.1 959.1 793.4 959.6 793.0 960.1 793.1 960.6 793.6 961.1 794.0 961.6 793.5 962.1 793.7 962.6 793.4 963.1 793.2 963.6 792.8 964.1 793.2 964.6 792.7 965.1 792.4 965.6 792.7 966.1 792.0 966.6 791.5 967.1 789.6 967.6 789.7 968.1 788.1 968.6 786.8 969.1 785.6 969.6 785.5 970.1 784.5 970.6 783.4 971.1 783.3 971.6 784.5 972.1 785.2 972.6 787.4 973.1 787.0 973.6 787.9 974.1 789.6 974.6 790.5 975.1 791.2 975.6 792.0 976.1 793.0 976.6 792.1 977.1 792.2 977.6 791.7 978.1 792.7 978.6 793.0 979.1 792.4 979.6 793.0 980.1 792.3 980.6 792.8 981.1 791.9 981.6 790.9 982.1 790.6 982.6 789.6 983.1 788.8 983.6 789.0 984.1 788.2 984.6 787.3 985.1 784.6 985.6 782.3 986.1 778.9 986.6 776.1 987.1 770.7 987.6 763.5 988.1 755.4 988.6 744.3 989.1 730.2 989.6 718.3 990.1 707.6 990.6 703.3 991.1 707.3 991.6 718.8 992.1 732.0 992.6 745.0 993.1 754.6 993.6 763.6 994.1 771.1 994.6 775.1 995.1 779.2 995.6 781.6 996.1 785.7 996.6 787.1 997.1 788.1 997.6 789.1 998.1 789.7 998.6 790.4 999.1 791.5 999.6 791.3 1000.1 792.6 1000.6 792.1 1001.1 792.1 1001.6 793.4 1002.1 792.8 1002.6 793.3 1003.1 792.8 1003.6 791.9 1004.1 793.2 1004.6 792.2 1005.1 793.3 1005.6 791.7 1006.1 791.3 1006.6 791.9 1007.1 791.5 1007.6 790.7 1008.1 789.2 1008.6 789.3 1009.1 787.0 1009.6 786.2 1010.1 784.6 1010.6 783.5 1011.1 782.8 1011.6 781.1 1012.1 781.2 1012.6 781.2 1013.1 780.5 1013.6 781.7 1014.1 783.2 1014.6 784.3 1015.1 785.9 1015.6 785.8 1016.1 787.9 1016.6 788.4 1017.1 788.3 1017.6 787.7 1018.1 788.1 1018.6 787.3 1019.1 787.2 1019.6 785.9 1020.1 785.4 1020.6 783.8 1021.1 784.0 1021.6 781.7 1022.1 782.3 1022.6 783.5 1023.1 783.4 1023.6 785.6 1024.1 785.9 1024.6 787.9 1025.1 788.6 1025.6 789.9 1026.1 791.2 1026.6 791.8 1027.1 792.3 1027.6 794.2 1028.1 793.5 1028.6 793.4 1029.1 794.7 1029.6 794.9 1030.1 795.3 1030.6 795.7 1031.1 794.5 1031.6 795.6 1032.1 795.8 1032.6 795.3 1033.1 795.5 1033.6 794.0 1034.1 795.2 1034.6 796.5 1035.1 794.7 1035.6 795.4 1036.1 795.8 1036.6 796.0 1037.1 796.6 1037.6 794.9 1038.1 795.8 1038.6 796.2 1039.1 795.2 1039.6 795.8 1040.1 796.8 1040.6 796.5 1041.1 796.2 1041.6 794.6 1042.1 795.8 1042.6 796.1 1043.1 795.7 1043.6 795.9 1044.1 797.4 1044.6 795.8 1045.1 795.4 1045.6 796.0 1046.1 795.7 1046.6 795.6 1047.1 795.7 1047.6 796.1 1048.1 795.8 1048.6 795.0 1049.1 795.5 1049.6 795.8 1050.1 795.2 1050.6 795.9 1051.1 795.6 1051.6 794.6 1052.1 795.2 1052.6 795.9 1053.1 795.5 1053.6 794.5 1054.1 794.8 1054.6 793.8 1055.1 793.2 1055.6 793.9 1056.1 793.5 1056.6 793.4 1057.1 793.0 1057.6 792.9 1058.1 792.4 1058.6 792.7 1059.1 792.8 1059.6 792.4 1060.1 792.8 1060.6 791.6 1061.1 792.3 1061.6 793.6 1062.1 794.0 1062.6 793.4 1063.1 793.5 1063.6 793.2 1064.1 794.2 1064.6 794.7 1065.1 793.8 1065.6 795.0 1066.1 795.2 1066.6 795.4 1067.1 794.7 1067.6 795.7 1068.1 794.8 1068.6 796.5 1069.1 795.9 1069.6 795.3 1070.1 796.7 1070.6 796.7 1071.1 795.8 1071.6 797.3 1072.1 795.8 1072.6 796.5 1073.1 797.0 1073.6 795.3 1074.1 797.0 1074.6 796.5 1075.1 796.5 1075.6 796.0 1076.1 796.8 1076.6 796.1 1077.1 796.2 1077.6 796.4 1078.1 796.1 1078.6 797.5 1079.1 796.1 1079.6 796.4 1080.1 796.6 1080.6 796.8 1081.1 797.2 1081.6 797.2 1082.1 796.7 1082.6 796.6 1083.1 796.9 1083.6 797.3 1084.1 797.2 1084.6 796.6 1085.1 795.9 1085.6 798.0 1086.1 797.4 1086.6 797.1 1087.1 797.1 1087.6 796.7 1088.1 796.5 1088.6 796.8 1089.1 796.9 1089.6 796.7 1090.1 796.3 1090.6 796.9 1091.1 797.3 1091.6 796.8 1092.1 797.0 1092.6 796.0 1093.1 796.9 1093.6 797.0 1094.1 796.4 1094.6 796.2 1095.1 797.3 1095.6 796.7 1096.1 797.3 1096.6 796.9 1097.1 797.4 1097.6 796.9 1098.1 796.4 1098.6 797.1 1099.1 796.9 1099.6 797.4 1100.1 796.9 1100.6 796.9 1101.1 797.6 1101.6 797.7 1102.1 797.5 1102.6 797.6 1103.1 797.3 1103.6 797.5 1104.1 797.6 1104.6 797.3 1105.1 797.1 1105.6 797.2 1106.1 798.3 1106.6 797.1 1107.1 796.9 1107.6 796.9 1108.1 797.0 1108.6 797.1 1109.1 796.4 1109.6 796.0 1110.1 797.1 1110.6 796.1 1111.1 797.0 1111.6 796.9 1112.1 797.3 1112.6 797.6 1113.1 796.8 1113.6 796.3 1114.1 795.9 1114.6 796.0 1115.1 796.3 1115.6 795.1 1116.1 796.0 1116.6 795.8 1117.1 796.0 1117.6 795.3 1118.1 795.3 1118.6 794.7 1119.1 794.6 1119.6 793.7 1120.1 794.4 1120.6 794.9 1121.1 794.0 1121.6 793.9 1122.1 793.1 1122.6 794.2 1123.1 793.0 1123.6 793.8 1124.1 793.5 1124.6 793.1 1125.1 794.2 1125.6 793.9 1126.1 794.2 1126.6 794.6 1127.1 794.6 1127.6 794.7 1128.1 795.3 1128.6 795.1 1129.1 795.6 1129.6 795.4 1130.1 795.2 1130.6 795.8 1131.1 796.0 1131.6 796.4 1132.1 797.1 1132.6 795.8 1133.1 796.8 1133.6 795.7 1134.1 796.4 1134.6 796.7 1135.1 795.9 1135.6 796.1 1136.1 797.2 1136.6 797.2 1137.1 797.1 1137.6 796.8 1138.1 798.3 1138.6 797.2 1139.1 796.9 1139.6 798.2 1140.1 797.7 1140.6 797.2 1141.1 798.0 1141.6 797.5 1142.1 797.7 1142.6 797.5 1143.1 796.9 1143.6 797.9 1144.1 797.5 1144.6 796.9 1145.1 797.0 1145.6 797.9 1146.1 797.2 1146.6 797.5 1147.1 797.8 1147.6 797.5 1148.1 796.7 1148.6 797.7 1149.1 797.9 1149.6 797.8 1150.1 798.2 1150.6 797.6 1151.1 797.8 1151.6 798.2 1152.1 797.2 1152.6 798.2 1153.1 798.2 1153.6 797.7 1154.1 798.2 1154.6 797.7 1155.1 796.8 1155.6 797.8 1156.1 797.4 1156.6 797.4 1157.1 797.3 1157.6 797.8 1158.1 797.4 1158.6 796.8 1159.1 797.3 1159.6 797.4 1160.1 796.6 1160.6 796.7 1161.1 796.7 1161.6 796.6 1162.1 797.0 1162.6 797.3 1163.1 797.7 1163.6 797.3 1164.1 797.1 1164.6 797.1 1165.1 797.2 1165.6 796.2 1166.1 796.7 1166.6 796.4 1167.1 796.1 1167.6 795.9 1168.1 795.8 1168.6 795.8 1169.1 795.2 1169.6 795.9 1170.1 795.5 1170.6 795.4 1171.1 795.4 1171.6 795.4 1172.1 794.6 1172.6 794.6 1173.1 793.7 1173.6 793.1 1174.1 793.0 1174.6 794.4 1175.1 792.4 1175.6 793.2 1176.1 793.3 1176.6 791.9 1177.1 792.5 1177.6 792.0 1178.1 791.0 1178.6 791.0 1179.1 789.3 1179.6 787.7 1180.1 787.3 1180.6 785.6 1181.1 783.8 1181.6 782.2 1182.1 782.0 1182.6 778.3 1183.1 775.8 1183.6 772.1 1184.1 768.4 1184.6 763.1 1185.1 756.8 1185.6 748.9 1186.1 739.9 1186.6 730.4 1187.1 721.2 1187.6 714.6 1188.1 710.8 1188.6 713.3 1189.1 719.1 1189.6 727.4 1190.1 735.4 1190.6 743.7 1191.1 748.8 1191.6 754.4 1192.1 758.7 1192.6 760.2 1193.1 761.7 1193.6 761.1 1194.1 759.8 1194.6 758.6 1195.1 755.8 1195.6 752.6 1196.1 747.5 1196.6 739.0 1197.1 730.2 1197.6 719.2 1198.1 706.4 1198.6 693.1 1199.1 683.4 1199.6 678.7 1200.1 681.4 1200.6 689.9 1201.1 703.5 1201.6 716.5 1202.1 730.5 1202.6 740.4 1203.1 749.8 1203.6 756.9 1204.1 762.8 1204.6 767.4 1205.1 771.0 1205.6 776.0 1206.1 777.9 1206.6 780.2 1207.1 783.1 1207.6 783.7 1208.1 785.4 1208.6 786.4 1209.1 788.0 1209.6 788.6 1210.1 789.4 1210.6 789.8 1211.1 790.7 1211.6 791.7 1212.1 790.6 1212.6 792.0 1213.1 792.3 1213.6 792.7 1214.1 792.2 1214.6 793.8 1215.1 793.3 1215.6 793.8 1216.1 793.9 1216.6 793.5 1217.1 794.2 1217.6 793.7 1218.1 794.2 1218.6 794.6 1219.1 794.8 1219.6 794.9 1220.1 794.8 1220.6 795.9 1221.1 795.0 1221.6 794.0 1222.1 794.2 1222.6 793.9 1223.1 793.8 1223.6 793.2 1224.1 792.5 1224.6 793.0 1225.1 791.2 1225.6 789.9 1226.1 788.7 1226.6 787.6 1227.1 787.7 1227.6 787.2 1228.1 788.2 1228.6 787.2 1229.1 790.2 1229.6 791.8 1230.1 793.3 1230.6 793.2 1231.1 793.0 1231.6 794.7 1232.1 794.5 1232.6 794.2 1233.1 795.1 1233.6 796.1 1234.1 796.3 1234.6 796.2 1235.1 795.4 1235.6 797.2 1236.1 795.4 1236.6 796.0 1237.1 795.3 1237.6 796.6 1238.1 796.1 1238.6 796.3 1239.1 795.8 1239.6 795.6 1240.1 795.5 1240.6 794.3 1241.1 795.5 1241.6 795.1 1242.1 794.1 1242.6 793.8 1243.1 793.4 1243.6 793.3 1244.1 791.9 1244.6 790.6 1245.1 788.9 1245.6 786.7 1246.1 784.9 1246.6 782.5 1247.1 779.0 1247.6 775.5 1248.1 772.3 1248.6 769.6 1249.1 768.9 1249.6 770.5 1250.1 773.2 1250.6 776.7 1251.1 780.5 1251.6 782.4 1252.1 786.4 1252.6 787.1 1253.1 789.6 1253.6 790.4 1254.1 791.8 1254.6 792.0 1255.1 792.0 1255.6 793.3 1256.1 793.1 1256.6 793.2 1257.1 793.2 1257.6 793.5 1258.1 793.2 1258.6 792.5 1259.1 791.1 1259.6 790.9 1260.1 790.2 1260.6 789.8 1261.1 787.6 1261.6 785.8 1262.1 784.9 1262.6 783.1 1263.1 782.9 1263.6 783.5 1264.1 783.7 1264.6 786.1 1265.1 786.8 1265.6 787.2 1266.1 787.0 1266.6 787.6 1267.1 787.6 1267.6 785.6 1268.1 783.9 1268.6 782.5 1269.1 778.7 1269.6 775.1 1270.1 772.3 1270.6 768.8 1271.1 766.8 1271.6 766.6 1272.1 769.0 1272.6 772.2 1273.1 776.0 1273.6 779.8 1274.1 783.5 1274.6 786.3 1275.1 788.3 1275.6 789.9 1276.1 789.2 1276.6 791.3 1277.1 792.5 1277.6 793.5 1278.1 793.1 1278.6 795.1 1279.1 794.9 1279.6 794.7 1280.1 795.4 1280.6 795.4 1281.1 795.4 1281.6 796.2 1282.1 795.8 1282.6 795.5 1283.1 796.0 1283.6 796.3 1284.1 795.9 1284.6 797.1 1285.1 796.0 1285.6 797.5 1286.1 797.1 1286.6 796.2 1287.1 796.7 1287.6 797.3 1288.1 796.6 1288.6 796.0 1289.1 796.7 1289.6 797.6 1290.1 795.8 1290.6 796.7 1291.1 796.3 1291.6 796.1 1292.1 795.9 1292.6 795.7 1293.1 796.2 1293.6 795.7 1294.1 794.6 1294.6 795.5 1295.1 793.8 1295.6 794.5 1296.1 794.1 1296.6 794.7 1297.1 794.4 1297.6 795.0 1298.1 794.8 1298.6 795.7 1299.1 795.7 1299.6 796.8 1300.1 795.6 1300.6 796.8 1301.1 796.6 1301.6 796.6 1302.1 796.3 1302.6 796.9 1303.1 796.0 1303.6 796.2 1304.1 797.3 1304.6 796.2 1305.1 797.7 1305.6 796.9 1306.1 797.2 1306.6 797.1 1307.1 797.3 1307.6 797.0 1308.1 796.9 1308.6 797.1 1309.1 797.7 1309.6 797.7 1310.1 797.8 1310.6 797.3 1311.1 797.1 1311.6 796.3 1312.1 797.5 1312.6 797.6 1313.1 797.0 1313.6 797.6 1314.1 797.8 1314.6 797.2 1315.1 797.7 1315.6 797.3 1316.1 796.3 1316.6 796.9 1317.1 797.0 1317.6 797.4 1318.1 796.7 1318.6 796.9 1319.1 796.7 1319.6 797.1 1320.1 797.2 1320.6 797.6 1321.1 797.5 1321.6 797.2 1322.1 797.2 1322.6 797.2 1323.1 797.2 1323.6 797.9 1324.1 795.9 1324.6 797.0 1325.1 797.2 1325.6 797.6 1326.1 796.5 1326.6 797.2 1327.1 797.5 1327.6 796.8 1328.1 796.1 1328.6 796.9 1329.1 796.4 1329.6 797.3 1330.1 796.6 1330.6 797.9 1331.1 797.1 1331.6 796.6 1332.1 796.7 1332.6 796.4 1333.1 797.1 1333.6 797.7 1334.1 796.8 1334.6 797.4 1335.1 796.4 1335.6 797.0 1336.1 798.0 1336.6 796.2 1337.1 797.5 1337.6 797.4 1338.1 795.9 1338.6 796.1 1339.1 796.3 1339.6 797.2 1340.1 796.5 1340.6 796.6 1341.1 797.0 1341.6 796.7 1342.1 796.7 1342.6 796.4 1343.1 797.1 1343.6 796.1 1344.1 797.3 1344.6 796.2 1345.1 796.0 1345.6 796.6 1346.1 796.4 1346.6 795.1 1347.1 796.2 1347.6 795.3 1348.1 795.4 1348.6 796.1 1349.1 795.1 1349.6 795.5 1350.1 794.9 1350.6 795.7 1351.1 794.4 1351.6 793.4 1352.1 792.9 1352.6 792.4 1353.1 792.1 1353.6 791.0 1354.1 790.4 1354.6 788.7 1355.1 787.4 1355.6 786.6 1356.1 785.9 1356.6 786.3 1357.1 787.3 1357.6 788.5 1358.1 789.0 1358.6 789.6 1359.1 791.1 1359.6 792.5 1360.1 791.9 1360.6 793.4 1361.1 794.3 1361.6 794.2 1362.1 794.2 1362.6 795.9 1363.1 795.9 1363.6 795.3 1364.1 796.2 1364.6 796.3 1365.1 795.2 1365.6 797.2 1366.1 795.4 1366.6 795.8 1367.1 795.5 1367.6 796.1 1368.1 795.4 1368.6 796.1 1369.1 796.7 1369.6 796.3 1370.1 796.1 1370.6 797.0 1371.1 795.8 1371.6 796.7 1372.1 796.1 1372.6 796.4 1373.1 796.3 1373.6 796.3 1374.1 796.2 1374.6 795.9 1375.1 796.0 1375.6 796.5 1376.1 796.2 1376.6 795.7 1377.1 795.9 1377.6 795.9 1378.1 796.3 1378.6 796.4 1379.1 796.3 1379.6 795.9 1380.1 796.3 1380.6 795.6 1381.1 794.8 1381.6 796.2 1382.1 795.4 1382.6 795.8 1383.1 795.6 1383.6 796.6 1384.1 795.6 1384.6 796.4 1385.1 796.0 1385.6 795.6 1386.1 795.4 1386.6 796.4 1387.1 796.4 1387.6 796.6 1388.1 797.1 1388.6 796.3 1389.1 796.3 1389.6 796.1 1390.1 796.2 1390.6 796.0 1391.1 795.7 1391.6 797.1 1392.1 795.2 1392.6 796.2 1393.1 796.3 1393.6 796.2 1394.1 795.6 1394.6 796.0 1395.1 795.8 1395.6 795.5 1396.1 796.0 1396.6 795.9 1397.1 795.8 1397.6 796.4 1398.1 795.5 1398.6 796.2 1399.1 795.7 1399.6 796.2 1400.1 796.0 1400.6 796.1 1401.1 795.5 1401.6 795.6 1402.1 795.6 1402.6 796.1 1403.1 796.3 1403.6 796.5 1404.1 795.7 1404.6 796.0 1405.1 795.1 1405.6 794.8 1406.1 795.5 1406.6 795.6 1407.1 795.1 1407.6 795.0 1408.1 796.2 1408.6 795.5 1409.1 795.1 1409.6 797.0 1410.1 796.0 1410.6 795.7 1411.1 796.2 1411.6 795.5 1412.1 796.6 1412.6 795.1 1413.1 795.2 1413.6 795.8 1414.1 795.4 1414.6 796.5 1415.1 795.0 1415.6 795.4 1416.1 795.9 1416.6 796.1 1417.1 796.3 1417.6 795.9 1418.1 796.9 1418.6 795.5 1419.1 795.8 1419.6 796.2 1420.1 795.6 1420.6 795.6 1421.1 795.5 1421.6 795.4 1422.1 795.1 1422.6 795.4 1423.1 794.9 1423.6 795.8 1424.1 794.8 1424.6 796.7 1425.1 796.5 1425.6 796.2 1426.1 795.5 1426.6 795.3 1427.1 796.2 1427.6 795.6 1428.1 795.8 1428.6 795.2 1429.1 796.0 1429.6 795.1 1430.1 795.5 1430.6 794.6 1431.1 795.1 1431.6 795.6 1432.1 795.1 1432.6 795.1 1433.1 795.7 1433.6 795.2 1434.1 795.9 1434.6 794.0 1435.1 795.4 1435.6 795.4 1436.1 794.3 1436.6 794.4 1437.1 795.4 1437.6 794.4 1438.1 794.5 1438.6 795.0 1439.1 794.4 1439.6 794.7 1440.1 793.9 1440.6 794.4 1441.1 794.6 1441.6 794.0 1442.1 792.5 1442.6 793.6 1443.1 792.9 1443.6 792.0 1444.1 792.6 1444.6 790.4 1445.1 791.4 1445.6 789.1 1446.1 788.9 1446.6 786.4 1447.1 783.8 1447.6 782.0 1448.1 779.4 1448.6 776.9 1449.1 775.3 1449.6 773.9 1450.1 775.6 1450.6 778.0 1451.1 780.2 1451.6 782.5 1452.1 784.7 1452.6 787.5 1453.1 789.0 1453.6 789.3 1454.1 790.0 1454.6 792.0 1455.1 791.2 1455.6 792.5 1456.1 792.4 1456.6 792.3 1457.1 793.5 1457.6 793.5 1458.1 794.5 1458.6 795.1 1459.1 794.0 1459.6 794.7 1460.1 794.8 1460.6 794.1 1461.1 793.9 1461.6 795.2 1462.1 794.3 1462.6 794.5 1463.1 794.3 1463.6 794.4 1464.1 794.2 1464.6 794.9 1465.1 795.1 1465.6 794.3 1466.1 793.7 1466.6 794.4 1467.1 793.6 1467.6 793.9 1468.1 794.8 1468.6 795.2 1469.1 794.1 1469.6 793.3 1470.1 794.0 1470.6 792.4 1471.1 792.9 1471.6 793.8 1472.1 793.1 1472.6 791.7 1473.1 791.2 1473.6 792.0 1474.1 791.1 1474.6 790.3 1475.1 790.3 1475.6 789.2 1476.1 788.0 1476.6 788.8 1477.1 787.5 1477.6 786.9 1478.1 786.4 1478.6 787.0 1479.1 786.5 1479.6 787.3 1480.1 787.2 1480.6 788.3 1481.1 788.0 1481.6 788.5 1482.1 788.4 1482.6 789.4 1483.1 790.9 1483.6 792.5 1484.1 790.9 1484.6 791.4 1485.1 792.5 1485.6 792.9 1486.1 792.6 1486.6 793.2 1487.1 792.6 1487.6 793.4 1488.1 794.2 1488.6 794.7 1489.1 793.9 1489.6 794.0 1490.1 794.4 1490.6 794.8 1491.1 794.6 1491.6 794.0 1492.1 794.6 1492.6 795.0 1493.1 794.2 1493.6 793.9 1494.1 794.8 1494.6 794.8 1495.1 795.1 1495.6 794.7 1496.1 794.4 1496.6 794.5 1497.1 794.2 1497.6 794.2 1498.1 794.4 1498.6 794.5 1499.1 795.3 1499.6 794.1 1500.1 794.7 1500.6 794.4 1501.1 795.5 1501.6 794.9 1502.1 794.5 1502.6 795.1 1503.1 794.7 1503.6 794.5 1504.1 795.5 1504.6 795.0 1505.1 795.5 1505.6 795.3 1506.1 795.1 1506.6 794.7 1507.1 794.1 1507.6 795.0 1508.1 794.7 1508.6 794.9 1509.1 794.6 1509.6 794.2 1510.1 794.1 1510.6 794.9 1511.1 795.2 1511.6 794.3 1512.1 794.7 1512.6 795.1 1513.1 794.0 1513.6 794.2 1514.1 793.8 1514.6 794.9 1515.1 794.4 1515.6 794.0 1516.1 793.3 1516.6 794.0 1517.1 794.5 1517.6 793.8 1518.1 793.6 1518.6 794.0 1519.1 793.0 1519.6 793.5 1520.1 793.6 1520.6 792.7 1521.1 792.4 1521.6 792.7 1522.1 792.2 1522.6 791.7 1523.1 791.5 1523.6 790.9 1524.1 789.5 1524.6 788.7 1525.1 788.1 1525.6 786.9 1526.1 785.1 1526.6 781.7 1527.1 780.1 1527.6 777.4 1528.1 775.0 1528.6 774.5 1529.1 775.4 1529.6 777.9 1530.1 779.0 1530.6 782.4 1531.1 784.3 1531.6 786.1 1532.1 788.3 1532.6 789.3 1533.1 789.3 1533.6 790.4 1534.1 791.2 1534.6 790.9 1535.1 792.4 1535.6 792.2 1536.1 792.6 1536.6 792.9 1537.1 793.7 1537.6 793.0 1538.1 792.9 1538.6 794.0 1539.1 793.0 1539.6 793.0 1540.1 792.6 1540.6 793.9 1541.1 793.5 1541.6 793.6 1542.1 793.4 1542.6 793.2 1543.1 792.9 1543.6 792.8 1544.1 793.3 1544.6 793.1 1545.1 793.7 1545.6 792.4 1546.1 792.3 1546.6 791.9 1547.1 792.8 1547.6 791.2 1548.1 791.8 1548.6 791.7 1549.1 790.3 1549.6 790.1 1550.1 787.8 1550.6 787.6 1551.1 785.6 1551.6 784.9 1552.1 783.0 1552.6 780.7 1553.1 779.8 1553.6 778.3 1554.1 777.6 1554.6 778.3 1555.1 779.3 1555.6 781.8 1556.1 784.8 1556.6 785.2 1557.1 787.2 1557.6 788.0 1558.1 789.6 1558.6 790.2 1559.1 790.6 1559.6 790.3 1560.1 791.4 1560.6 792.6 1561.1 792.2 1561.6 792.8 1562.1 792.5 1562.6 792.0 1563.1 793.3 1563.6 793.3 1564.1 793.0 1564.6 793.2 1565.1 793.6 1565.6 793.2 1566.1 793.8 1566.6 793.5 1567.1 792.5 1567.6 793.7 1568.1 793.5 1568.6 793.4 1569.1 794.0 1569.6 793.6 1570.1 794.1 1570.6 794.4 1571.1 794.0 1571.6 793.2 1572.1 793.6 1572.6 794.4 1573.1 793.8 1573.6 793.6 1574.1 793.9 1574.6 794.2 1575.1 794.1 1575.6 794.3 1576.1 793.6 1576.6 793.9 1577.1 793.9 1577.6 794.0 1578.1 793.0 1578.6 793.9 1579.1 793.4 1579.6 794.7 1580.1 794.8 1580.6 794.8 1581.1 794.4 1581.6 793.8 1582.1 794.5 1582.6 793.9 1583.1 794.3 1583.6 793.5 1584.1 793.7 1584.6 794.2 1585.1 794.9 1585.6 794.0 1586.1 795.1 1586.6 795.3 1587.1 793.3 1587.6 793.9 1588.1 793.5 1588.6 793.9 1589.1 793.7 1589.6 793.9 1590.1 794.4 1590.6 794.3 1591.1 794.0 1591.6 793.9 1592.1 793.9 1592.6 793.9 1593.1 794.1 1593.6 793.8 1594.1 794.0 1594.6 793.1 1595.1 794.1 1595.6 794.6 1596.1 793.8 1596.6 792.9 1597.1 794.3 1597.6 793.4 1598.1 792.0 1598.6 793.4 1599.1 793.7 1599.6 793.5 1600.1 793.9 1600.6 793.5 1601.1 793.2 1601.6 792.1 1602.1 792.4 1602.6 792.9 1603.1 793.1 1603.6 792.1 1604.1 792.2 1604.6 792.5 1605.1 791.2 1605.6 791.0 1606.1 791.7 1606.6 791.8 1607.1 791.2 1607.6 790.2 1608.1 791.2 1608.6 790.4 1609.1 791.3 1609.6 790.9 1610.1 791.1 1610.6 791.4 1611.1 790.9 1611.6 791.7 1612.1 792.0 1612.6 791.8 1613.1 792.4 1613.6 791.6 1614.1 792.6 1614.6 792.4 1615.1 791.9 1615.6 792.5 1616.1 792.5 1616.6 792.6 1617.1 793.0 1617.6 793.6 1618.1 793.0 1618.6 793.3 1619.1 792.5 1619.6 793.4 1620.1 793.9 1620.6 793.8 1621.1 793.7 1621.6 793.2 1622.1 793.0 1622.6 793.4 1623.1 792.8 1623.6 792.9 1624.1 793.9 1624.6 793.0 1625.1 794.3 1625.6 792.7 1626.1 793.6 1626.6 792.7 1627.1 793.3 1627.6 792.7 1628.1 793.1 1628.6 792.9 1629.1 792.7 1629.6 793.0 1630.1 793.3 1630.6 792.1 1631.1 792.6 1631.6 792.0 1632.1 791.6 1632.6 792.3 1633.1 789.7 1633.6 789.9 1634.1 788.6 1634.6 788.6 1635.1 787.6 1635.6 788.3 1636.1 785.0 1636.6 783.7 1637.1 781.2 1637.6 777.8 1638.1 775.7 1638.6 774.1 1639.1 772.2 1639.6 772.4 1640.1 773.9 1640.6 775.2 1641.1 778.2 1641.6 781.3 1642.1 783.6 1642.6 784.8 1643.1 786.6 1643.6 788.0 1644.1 788.9 1644.6 790.2 1645.1 790.6 1645.6 791.1 1646.1 790.8 1646.6 791.4 1647.1 792.4 1647.6 791.7 1648.1 792.8 1648.6 792.6 1649.1 792.7 1649.6 793.5 1650.1 793.0 1650.6 793.0 1651.1 793.2 1651.6 793.7 1652.1 795.1 1652.6 792.7 1653.1 793.9 1653.6 793.8 1654.1 794.4 1654.6 793.8 1655.1 792.8 1655.6 794.8 1656.1 793.6 1656.6 794.1 1657.1 793.5 1657.6 793.7 1658.1 794.0 1658.6 794.7 1659.1 794.7 1659.6 794.0 1660.1 794.6 1660.6 794.1 1661.1 794.4 1661.6 794.4 1662.1 794.7 1662.6 794.1 1663.1 794.3 1663.6 794.5 1664.1 794.5 1664.6 794.0 1665.1 795.3 1665.6 794.2 1666.1 794.8 1666.6 794.5 1667.1 795.0 1667.6 793.3 1668.1 795.4 1668.6 794.3 1669.1 793.8 1669.6 794.5 1670.1 795.5 1670.6 794.6 1671.1 793.8 1671.6 794.1 1672.1 795.0 1672.6 793.6 1673.1 794.2 1673.6 794.2 1674.1 795.4 1674.6 794.1 1675.1 794.9 1675.6 793.9 1676.1 793.8 1676.6 794.6 1677.1 794.4 1677.6 793.1 1678.1 794.3 1678.6 794.2 1679.1 793.5 1679.6 793.8 1680.1 793.7 1680.6 793.2 1681.1 793.1 1681.6 792.9 1682.1 792.9 1682.6 792.1 1683.1 792.5 1683.6 791.6 1684.1 792.0 1684.6 791.6 1685.1 790.6 1685.6 791.0 1686.1 790.9 1686.6 789.8 1687.1 787.6 1687.6 787.7 1688.1 785.7 1688.6 783.8 1689.1 781.3 1689.6 778.9 1690.1 776.4 1690.6 772.2 1691.1 767.8 1691.6 764.1 1692.1 761.7 1692.6 761.6 1693.1 763.7 1693.6 765.3 1694.1 769.6 1694.6 773.3 1695.1 776.7 1695.6 780.4 1696.1 782.9 1696.6 784.0 1697.1 785.8 1697.6 788.3 1698.1 788.9 1698.6 789.9 1699.1 790.1 1699.6 790.8 1700.1 791.7 1700.6 791.7 1701.1 791.8 1701.6 792.6 1702.1 793.3 1702.6 792.6 1703.1 793.9 1703.6 793.9 1704.1 793.2 1704.6 793.8 1705.1 793.9 1705.6 794.4 1706.1 794.5 1706.6 793.6 1707.1 793.6 1707.6 794.9 1708.1 794.5 1708.6 794.7 1709.1 794.7 1709.6 795.3 1710.1 794.0 1710.6 795.2 1711.1 794.3 1711.6 795.0 1712.1 795.4 1712.6 794.0 1713.1 794.9 1713.6 794.6 1714.1 794.6 1714.6 794.7 1715.1 794.2 1715.6 794.2 1716.1 794.9 1716.6 795.0 1717.1 794.2 1717.6 793.7 1718.1 795.5 1718.6 794.8 1719.1 794.2 1719.6 793.4 1720.1 793.4 1720.6 793.5 1721.1 792.6 1721.6 793.6 1722.1 792.5 1722.6 792.4 1723.1 791.6 1723.6 791.7 1724.1 791.9 1724.6 792.7 1725.1 792.8 1725.6 793.1 1726.1 793.7 1726.6 794.0 1727.1 794.9 1727.6 794.2 1728.1 794.0 1728.6 794.6 1729.1 795.5 1729.6 794.6 1730.1 795.0 1730.6 794.9 1731.1 795.3 1731.6 795.3 1732.1 794.8 1732.6 795.1 1733.1 795.8 1733.6 795.9 1734.1 795.8 1734.6 795.8 1735.1 795.3 1735.6 795.3 1736.1 795.9 1736.6 794.9 1737.1 795.5 1737.6 794.6 1738.1 795.4 1738.6 795.2 1739.1 795.0 1739.6 795.9 1740.1 795.2 1740.6 795.4 1741.1 795.5 1741.6 795.3 1742.1 796.4 1742.6 795.4 1743.1 795.8 1743.6 795.0 1744.1 795.5 1744.6 795.6 1745.1 795.6 1745.6 795.4 1746.1 795.8 1746.6 796.5 1747.1 795.7 1747.6 795.7 1748.1 795.6 1748.6 797.0 1749.1 796.6 1749.6 796.1 1750.1 796.2 1750.6 795.5 1751.1 795.8 1751.6 795.9 1752.1 795.9 1752.6 795.4 1753.1 795.5 1753.6 796.1 1754.1 796.0 1754.6 794.9 1755.1 795.9 1755.6 796.5 1756.1 795.6 1756.6 796.0 1757.1 795.2 1757.6 796.3 1758.1 795.4 1758.6 795.3 1759.1 795.8 1759.6 797.1 1760.1 795.7 1760.6 795.4 1761.1 796.2 1761.6 796.1 1762.1 796.8 1762.6 795.4 1763.1 795.2 1763.6 795.9 1764.1 796.2 1764.6 796.2 1765.1 796.6 1765.6 795.3 1766.1 795.6 1766.6 796.0 1767.1 796.5 1767.6 796.3 1768.1 795.9 1768.6 795.6 1769.1 796.5 1769.6 796.6 1770.1 797.4 1770.6 796.0 1771.1 796.9 1771.6 795.5 1772.1 795.9 1772.6 795.8 1773.1 795.9 1773.6 795.7 1774.1 795.9 1774.6 796.1 1775.1 796.0 1775.6 796.5 1776.1 796.1 1776.6 796.2 1777.1 796.9 1777.6 796.4 1778.1 796.3 1778.6 796.2 1779.1 796.3 1779.6 796.5 1780.1 795.8 1780.6 796.8 1781.1 797.0 1781.6 796.8 1782.1 796.0 1782.6 795.5 1783.1 796.1 1783.6 796.4 1784.1 796.7 1784.6 796.2 1785.1 796.2 1785.6 797.1 1786.1 796.0 1786.6 796.8 1787.1 796.8 1787.6 795.7 1788.1 796.5 1788.6 796.1 1789.1 795.9 1789.6 795.5 1790.1 795.6 1790.6 796.6 1791.1 796.2 1791.6 796.5 1792.1 795.9 1792.6 796.2 1793.1 796.3 1793.6 795.7 1794.1 795.6 1794.6 796.6 1795.1 796.5 1795.6 796.0 1796.1 796.4 1796.6 796.8 1797.1 797.3 1797.6 796.0 1798.1 796.8 1798.6 797.5 1799.1 796.5 1799.6 797.2 1800.1 795.2 1800.6 797.2 1801.1 796.5 1801.6 795.6 1802.1 796.9 1802.6 797.0 1803.1 797.1 1803.6 797.1 1804.1 796.5 1804.6 796.1 1805.1 796.2 1805.6 796.4 1806.1 796.7 1806.6 796.2 1807.1 796.5 1807.6 796.9 1808.1 796.6 1808.6 797.6 1809.1 797.5 1809.6 795.9 1810.1 796.2 1810.6 795.8 1811.1 795.9 1811.6 796.7 1812.1 795.9 1812.6 795.9 1813.1 796.3 1813.6 796.8 1814.1 796.2 1814.6 796.2 1815.1 796.9 1815.6 796.6 1816.1 796.6 1816.6 796.9 1817.1 795.9 1817.6 796.5 1818.1 796.1 1818.6 796.9 1819.1 796.8 1819.6 795.9 1820.1 797.0 1820.6 795.8 1821.1 797.0 1821.6 796.5 1822.1 796.0 1822.6 795.8 1823.1 796.2 1823.6 796.4 1824.1 796.0 1824.6 796.6 1825.1 795.7 1825.6 796.4 1826.1 796.4 1826.6 795.4 1827.1 796.5 1827.6 795.7 1828.1 795.1 1828.6 796.0 1829.1 796.2 1829.6 796.8 1830.1 796.1 1830.6 797.1 1831.1 797.0 1831.6 796.9 1832.1 797.0 1832.6 796.5 1833.1 796.0 1833.6 796.6 1834.1 796.8 1834.6 796.4 1835.1 796.2 1835.6 795.5 1836.1 796.6 1836.6 796.5 1837.1 795.6 1837.6 796.3 1838.1 796.6 1838.6 796.2 1839.1 796.6 1839.6 796.6 1840.1 795.5 1840.6 796.1 1841.1 796.5 1841.6 796.7 1842.1 796.9 1842.6 795.3 1843.1 796.2 1843.6 796.6 1844.1 796.8 1844.6 797.0 1845.1 795.7 1845.6 796.0 1846.1 795.7 1846.6 796.6 1847.1 795.5 1847.6 796.7 1848.1 796.6 1848.6 796.4 1849.1 795.0 1849.6 795.8 1850.1 796.5 1850.6 795.4 1851.1 796.0 1851.6 796.0 1852.1 796.5 1852.6 796.2 1853.1 796.2 1853.6 795.8 1854.1 796.0 1854.6 795.9 1855.1 796.3 1855.6 795.8 1856.1 796.4 1856.6 795.0 1857.1 796.4 1857.6 795.7 1858.1 796.3 1858.6 795.8 1859.1 796.1 1859.6 796.4 1860.1 795.3 1860.6 795.6 1861.1 795.4 1861.6 795.6 1862.1 794.6 1862.6 795.2 1863.1 795.1 1863.6 794.7 1864.1 794.9 1864.6 794.1 1865.1 795.4 1865.6 794.8 1866.1 795.3 1866.6 793.7 1867.1 793.3 1867.6 793.7 1868.1 792.3 1868.6 792.8 1869.1 791.8 1869.6 791.3 1870.1 790.8 1870.6 789.8 1871.1 789.6 1871.6 787.7 1872.1 785.3 1872.6 784.9 1873.1 782.4 1873.6 782.0 1874.1 780.9 1874.6 781.3 1875.1 783.2 1875.6 783.5 1876.1 784.9 1876.6 786.4 1877.1 787.8 1877.6 789.9 1878.1 789.5 1878.6 790.3 1879.1 791.9 1879.6 791.4 1880.1 792.4 1880.6 793.5 1881.1 793.3 1881.6 793.3 1882.1 793.4 1882.6 793.4 1883.1 793.7 1883.6 794.1 1884.1 794.8 1884.6 794.7 1885.1 793.9 1885.6 793.8 1886.1 794.5 1886.6 793.2 1887.1 793.8 1887.6 793.7 1888.1 793.2 1888.6 793.1 1889.1 793.5 1889.6 792.3 1890.1 792.3 1890.6 792.0 1891.1 791.9 1891.6 790.6 1892.1 791.1 1892.6 789.5 1893.1 788.5 1893.6 787.2 1894.1 785.6 1894.6 783.9 1895.1 783.4 1895.6 781.6 1896.1 780.5 1896.6 780.9 1897.1 780.5 1897.6 782.3 1898.1 783.5 1898.6 784.6 1899.1 787.0 1899.6 787.3 1900.1 789.5 1900.6 789.8 1901.1 791.2 1901.6 792.4 1902.1 792.6 1902.6 792.5 1903.1 793.2 1903.6 793.3 1904.1 793.2 1904.6 793.5 1905.1 794.3 1905.6 794.7 1906.1 793.7 1906.6 794.7 1907.1 795.1 1907.6 795.0 1908.1 794.5 1908.6 795.6 1909.1 794.6 1909.6 795.6 1910.1 796.1 1910.6 794.4 1911.1 795.5 1911.6 795.6 1912.1 795.6 1912.6 795.1 1913.1 795.4 1913.6 794.9 1914.1 795.7 1914.6 795.9 1915.1 795.3 1915.6 795.2 1916.1 795.5 1916.6 795.7 1917.1 795.7 1917.6 795.7 1918.1 795.8 1918.6 795.1 1919.1 794.4 1919.6 796.1 1920.1 796.5 1920.6 795.1 1921.1 795.5 1921.6 795.9 1922.1 796.3 1922.6 796.1 1923.1 796.4 1923.6 795.8 1924.1 796.0 1924.6 796.0 1925.1 795.6 1925.6 796.4 1926.1 796.1 1926.6 796.3 1927.1 795.7 1927.6 796.4 1928.1 795.3 1928.6 796.1 1929.1 794.6 1929.6 795.4 1930.1 796.2 1930.6 795.6 1931.1 796.0 1931.6 795.1 1932.1 796.6 1932.6 796.2 1933.1 795.9 1933.6 796.1 1934.1 796.0 1934.6 796.6 1935.1 796.0 1935.6 795.2 1936.1 795.7 1936.6 796.5 1937.1 796.2 1937.6 795.7 1938.1 796.2 1938.6 795.9 1939.1 796.2 1939.6 795.1 1940.1 795.4 1940.6 796.2 1941.1 795.8 1941.6 796.0 1942.1 796.8 1942.6 795.7 1943.1 796.0 1943.6 795.6 1944.1 795.6 1944.6 795.8 1945.1 795.2 1945.6 794.8 1946.1 796.5 1946.6 795.8 1947.1 796.4 1947.6 795.9 1948.1 795.9 1948.6 796.2 1949.1 796.2 1949.6 795.3 1950.1 796.4 1950.6 795.4 1951.1 795.9 1951.6 797.1 1952.1 795.9 1952.6 796.7 1953.1 795.7 1953.6 796.1 1954.1 795.9 1954.6 796.0 1955.1 795.4 1955.6 795.4 1956.1 796.0 1956.6 795.1 1957.1 795.4 1957.6 796.1 1958.1 795.5 1958.6 795.4 1959.1 795.3 1959.6 795.9 1960.1 795.6 1960.6 795.9 1961.1 795.7 1961.6 796.7 1962.1 795.6 1962.6 794.9 1963.1 795.9 1963.6 795.8 1964.1 795.9 1964.6 795.0 1965.1 796.4 1965.6 795.8 1966.1 795.8 1966.6 795.0 1967.1 796.0 1967.6 795.8 1968.1 796.4 1968.6 795.6 1969.1 795.2 1969.6 795.8 1970.1 795.3 1970.6 796.0 1971.1 795.2 1971.6 795.7 1972.1 795.7 1972.6 795.7 1973.1 795.5 1973.6 795.4 1974.1 795.7 1974.6 795.5 1975.1 795.8 1975.6 795.6 1976.1 794.6 1976.6 795.7 1977.1 796.4 1977.6 795.9 1978.1 796.0 1978.6 795.9 1979.1 795.5 1979.6 795.1 1980.1 796.1 1980.6 796.2 1981.1 796.0 1981.6 795.9 1982.1 795.9 1982.6 795.7 1983.1 795.8 1983.6 795.7 1984.1 795.8 1984.6 795.2 1985.1 795.3 1985.6 795.9 1986.1 795.5 1986.6 794.4 1987.1 795.7 1987.6 794.5 1988.1 796.5 1988.6 795.9 1989.1 795.9 1989.6 795.2 1990.1 795.0 1990.6 795.4 1991.1 795.5 1991.6 795.1 1992.1 795.5 1992.6 795.7 1993.1 795.7 1993.6 794.8 1994.1 794.3 1994.6 795.3 1995.1 794.9 1995.6 795.4 1996.1 795.9 1996.6 795.8 1997.1 795.1 1997.6 795.4 1998.1 795.6 1998.6 794.7 1999.1 794.7 1999.6 794.8 2000.1 794.2 2000.6 793.8 2001.1 793.4 2001.6 793.5 2002.1 792.9 2002.6 793.2 2003.1 792.3 2003.6 792.7 2004.1 792.1 2004.6 790.4 2005.1 790.9 2005.6 789.5 2006.1 789.8 2006.6 788.7 2007.1 787.9 2007.6 787.7 2008.1 786.8 2008.6 787.0 2009.1 786.9 2009.6 786.8 2010.1 787.4 2010.6 787.1 2011.1 788.4 2011.6 788.1 2012.1 789.6 2012.6 790.2 2013.1 790.9 2013.6 790.9 2014.1 793.1 2014.6 792.1 2015.1 792.7 2015.6 792.6 2016.1 794.0 2016.6 793.4 2017.1 794.3 2017.6 793.6 2018.1 794.4 2018.6 794.2 2019.1 795.0 2019.6 794.5 2020.1 794.3 2020.6 795.1 2021.1 794.4 2021.6 794.5 2022.1 795.4 2022.6 794.2 2023.1 795.5 2023.6 795.0 2024.1 794.8 2024.6 795.4 2025.1 795.6"/>
<path class="c" stroke="#ff0000" d="M157.1 1109.1L157.6 1109.3 158.1 1109.8 158.6 1109.8 159.1 1109.4 159.6 1109.1 160.1 1109.0 160.6 1109.1 161.1 1109.8 161.6 1109.7 162.1 1109.6 162.6 1110.1 163.1 1109.3 163.6 1109.3 164.1 1109.3 164.6 1110.4 165.1 1108.5 165.6 1109.6 166.1 1109.7 166.6 1109.5 167.1 1110.6 167.6 1110.1 168.1 1109.9 168.6 1109.1 169.1 1109.8 169.6 1109.4 170.1 1109.6 170.6 1109.6 171.1 1109.3 171.6 1109.9 172.1 1110.3 172.6 1110.1 173.1 1109.7 173.6 1108.7 174.1 1110.1 174.6 1110.1 175.1 1109.5 175.6 1109.4 176.1 1109.9 176.6 1109.2 177.1 1110.0 177.6 1109.1 178.1 1109.2 178.6 1109.6 179.1 1109.0 179.6 1109.7 180.1 1109.9 180.6 1109.0 181.1 1110.1 181.6 1109.4 182.1 1109.9 182.6 1109.8 183.1 1109.5 183.6 1109.5 184.1 1108.9 184.6 1109.4 185.1 1109.4 185.6 1110.5 186.1 1110.2 186.6 1109.1 187.1 1110.1 187.6 1109.8 188.1 1109.6 188.6 1110.0 189.1 1110.1 189.6 1109.5 190.1 1109.6 190.6 1109.9 191.1 1109.3 191.6 1109.9 192.1 1109.8 192.6 1109.5 193.1 1109.4 193.6 1110.0 194.1 1110.2 194.6 1110.0 195.1 1109.4 195.6 1110.2 196.1 1109.9 196.6 1110.1 197.1 1110.4 197.6 1109.4 198.1 1109.8 198.6 1109.6 199.1 1109.5 199.6 1110.8 200.1 1110.3 200.6 1109.1 201.1 1110.1 201.6 1109.6 202.1 1110.4 202.6 1109.9 203.1 1109.8 203.6 1110.0 204.1 1110.1 204.6 1109.9 205.1 1109.8 205.6 1109.9 206.1 1110.2 206.6 1109.4 207.1 1110.0 207.6 1109.9 208.1 1109.7 208.6 1110.3 209.1 1109.4 209.6 1109.8 210.1 1109.6 210.6 1110.2 211.1 1109.8 211.6 1110.0 212.1 1110.2 212.6 1109.3 213.1 1110.2 213.6 1109.7 214.1 1109.9 214.6 1110.0 215.1 1110.4 215.6 1110.4 216.1 1110.9 216.6 1110.1 217.1 1109.8 217.6 1109.8 218.1 1110.4 218.6 1110.8 219.1 1110.2 219.6 1109.8 220.1 1110.2 220.6 1110.2 221.1 1110.1 221.6 1109.8 222.1 1108.9 222.6 1109.9 223.1 1110.6 223.6 1110.2 224.1 1109.1 224.6 1110.1 225.1 1109.3 225.6 1111.1 226.1 1110.2 226.6 1109.6 227.1 1110.5 227.6 1109.8 228.1 1110.4 228.6 1110.2 229.1 1109.6 229.6 1110.5 230.1 1109.6 230.6 1110.8 231.1 1110.2 231.6 1109.7 232.1 1109.4 232.6 1111.0 233.1 1110.9 233.6 1109.6 234.1 1111.0 234.6 1110.3 235.1 1110.1 235.6 1110.2 236.1 1110.1 236.6 1110.9 237.1 1110.3 237.6 1109.4 238.1 1111.2 238.6 1110.7 239.1 1109.8 239.6 1110.1 240.1 1109.9 240.6 1110.3 241.1 1110.5 241.6 1110.4 242.1 1110.0 242.6 1109.9 243.1 1110.7 243.6 1110.3 244.1 1111.4 244.6 1109.9 245.1 1110.7 245.6 1110.3 246.1 1110.0 246.6 1111.0 247.1 1110.4 247.6 1109.9 248.1 1110.2 248.6 1110.8 249.1 1109.8 249.6 1111.0 250.1 1110.7 250.6 1110.2 251.1 1111.0 251.6 1111.2 252.1 1110.6 252.6 1110.4 253.1 1111.2 253.6 1111.0 254.1 1109.9 254.6 1110.2 255.1 1110.2 255.6 1110.1 256.1 1109.6 256.6 1110.7 257.1 1110.4 257.6 1110.4 258.1 1111.0 258.6 1110.0 259.1 1110.3 259.6 1110.4 260.1 1110.0 260.6 1110.2 261.1 1110.6 261.6 1110.2 262.1 1110.8 262.6 1109.8 263.1 1110.2 263.6 1109.4 264.1 1110.0 264.6 1109.7 265.1 1110.6 265.6 1110.2 266.1 1110.1 266.6 1110.6 267.1 1110.3 267.6 1109.9 268.1 1109.1 268.6 1108.6 269.1 1109.2 269.6 1108.8 270.1 1108.5 270.6 1108.4 271.1 1107.5 271.6 1108.7 272.1 1107.2 272.6 1107.0 273.1 1107.2 273.6 1105.8 274.1 1106.6 274.6 1106.3 275.1 1105.3 275.6 1104.7 276.1 1104.7 276.6 1103.9 277.1 1105.4 277.6 1104.8 278.1 1104.5 278.6 1104.6 279.1 1105.5 279.6 1106.1 280.1 1104.9 280.6 1105.4 281.1 1104.9 281.6 1106.0 282.1 1105.7 282.6 1106.6 283.1 1105.2 283.6 1104.8 284.1 1104.3 284.6 1104.6 285.1 1103.0 285.6 1103.6 286.1 1102.9 286.6 1102.1 287.1 1101.6 287.6 1102.3 288.1 1102.6 288.6 1101.6 289.1 1102.2 289.6 1103.2 290.1 1102.6 290.6 1103.3 291.1 1103.5 291.6 1104.6 292.1 1105.3 292.6 1105.7 293.1 1106.1 293.6 1106.2 294.1 1106.8 294.6 1107.4 295.1 1108.5 295.6 1108.3 296.1 1108.4 296.6 1109.3 297.1 1109.5 297.6 1109.1 298.1 1109.3 298.6 1110.1 299.1 1110.0 299.6 1109.6 300.1 1110.2 300.6 1110.1 301.1 1110.8 301.6 1109.9 302.1 1110.8 302.6 1110.6 303.1 1110.0 303.6 1111.0 304.1 1111.0 304.6 1110.0 305.1 1111.6 305.6 1110.1 306.1 1110.3 306.6 1110.6 307.1 1111.1 307.6 1111.1 308.1 1110.8 308.6 1111.5 309.1 1111.0 309.6 1111.5 310.1 1112.2 310.6 1111.0 311.1 1109.7 311.6 1110.7 312.1 1110.4 312.6 1111.0 313.1 1111.0 313.6 1110.4 314.1 1110.4 314.6 1110.9 315.1 1110.9 315.6 1109.8 316.1 1111.5 316.6 1111.1 317.1 1111.0 317.6 1111.2 318.1 1110.6 318.6 1111.1 319.1 1111.6 319.6 1111.6 320.1 1111.3 320.6 1111.0 321.1 1110.7 321.6 1111.8 322.1 1111.4 322.6 1110.9 323.1 1110.1 323.6 1110.7 324.1 1110.2 324.6 1111.8 325.1 1111.3 325.6 1110.8 326.1 1111.1 326.6 1112.5 327.1 1111.8 327.6 1110.6 328.1 1111.2 328.6 1110.6 329.1 1110.4 329.6 1111.3 330.1 1112.4 330.6 1112.0 331.1 1111.3 331.6 1111.1 332.1 1111.4 332.6 1111.8 333.1 1110.6 333.6 1110.4 334.1 1112.2 334.6 1111.4 335.1 1112.1 335.6 1111.4 336.1 1112.0 336.6 1111.0 337.1 1111.5 337.6 1112.1 338.1 1111.8 338.6 1111.1 339.1 1111.7 339.6 1111.0 340.1 1110.6 340.6 1111.6 341.1 1112.0 341.6 1111.7 342.1 1110.7 342.6 1111.7 343.1 1111.6 343.6 1111.1 344.1 1110.1 344.6 1111.8 345.1 1111.7 345.6 1111.5 346.1 1110.4 346.6 1110.5 347.1 1111.8 347.6 1111.7 348.1 1111.5 348.6 1111.2 349.1 1111.5 349.6 1111.0 350.1 1111.1 350.6 1110.8 351.1 1111.4 351.6 1111.1 352.1 1111.7 352.6 1111.6 353.1 1110.8 353.6 1112.2 354.1 1110.7 354.6 1111.5 355.1 1111.8 355.6 1111.9 356.1 1110.1 356.6 1111.7 357.1 1111.8 357.6 1111.9 358.1 1110.1 358.6 1110.8 359.1 1111.1 359.6 1110.9 360.1 1111.8 360.6 1110.7 361.1 1111.7 361.6 1111.3 362.1 1110.3 362.6 1110.5 363.1 1110.7 363.6 1111.0 364.1 1111.4 364.6 1110.7 365.1 1111.2 365.6 1109.9 366.1 1109.1 366.6 1110.4 367.1 1110.7 367.6 1110.1 368.1 1109.7 368.6 1110.2 369.1 1110.8 369.6 1109.5 370.1 1108.9 370.6 1108.5 371.1 1109.5 371.6 1107.9 372.1 1107.5 372.6 1106.9 373.1 1105.7 373.6 1103.3 374.1 1102.4 374.6 1100.1 375.1 1097.4 375.6 1094.9 376.1 1091.6 376.6 1090.3 377.1 1090.0 377.6 1091.9 378.1 1093.5 378.6 1096.8 379.1 1098.7 379.6 1101.5 380.1 1103.2 380.6 1104.9 381.1 1106.2 381.6 1107.0 382.1 1107.7 382.6 1107.3 383.1 1109.4 383.6 1108.9 384.1 1109.4 384.6 1109.3 385.1 1110.5 385.6 1109.7 386.1 1110.5 386.6 1111.0 387.1 1111.3 387.6 1111.2 388.1 1111.0 388.6 1110.1 389.1 1111.5 389.6 1111.4 390.1 1111.3 390.6 1111.3 391.1 1111.0 391.6 1110.7 392.1 1111.6 392.6 1111.7 393.1 1110.6 393.6 1111.5 394.1 1111.2 394.6 1111.6 395.1 1111.3 395.6 1111.7 396.1 1111.7 396.6 1111.6 397.1 1110.5 397.6 1111.6 398.1 1111.2 398.6 1110.6 399.1 1111.6 399.6 1110.5 400.1 1111.7 400.6 1112.1 401.1 1111.0 401.6 1111.7 402.1 1111.5 402.6 1111.6 403.1 1110.6 403.6 1111.6 404.1 1111.3 404.6 1111.6 405.1 1111.3 405.6 1111.8 406.1 1111.4 406.6 1111.6 407.1 1111.9 407.6 1111.4 408.1 1111.8 408.6 1111.4 409.1 1111.5 409.6 1111.0 410.1 1111.6 410.6 1111.9 411.1 1111.2 411.6 1111.7 412.1 1111.5 412.6 1110.7 413.1 1111.4 413.6 1111.9 414.1 1111.0 414.6 1110.4 415.1 1111.4 415.6 1110.9 416.1 1112.2 416.6 1111.2 417.1 1111.2 417.6 1110.9 418.1 1111.4 418.6 1111.0 419.1 1110.8 419.6 1111.2 420.1 1110.8 420.6 1111.9 421.1 1110.6 421.6 1111.2 422.1 1110.9 422.6 1110.5 423.1 1112.0 423.6 1110.2 424.1 1111.9 424.6 1110.5 425.1 1111.2 425.6 1112.3 426.1 1110.1 426.6 1110.5 427.1 1111.8 427.6 1111.2 428.1 1110.9 428.6 1111.1 429.1 1110.6 429.6 1111.2 430.1 1111.8 430.6 1110.9 431.1 1111.1 431.6 1111.7 432.1 1112.0 432.6 1110.8 433.1 1111.2 433.6 1110.7 434.1 1110.7 434.6 1110.8 435.1 1110.7 435.6 1110.1 436.1 1110.0 436.6 1110.6 437.1 1111.0 437.6 1111.5 438.1 1110.6 438.6 1110.7 439.1 1111.1 439.6 1111.1 440.1 1110.7 440.6 1110.7 441.1 1111.6 441.6 1110.5 442.1 1110.4 442.6 1109.8 443.1 1110.7 443.6 1110.3 444.1 1111.3 444.6 1110.2 445.1 1110.7 445.6 1110.7 446.1 1110.9 446.6 1109.4 447.1 1110.7 447.6 1109.8 448.1 1109.6 448.6 1109.4 449.1 1109.1 449.6 1108.9 450.1 1107.7 450.6 1108.8 451.1 1108.2 451.6 1107.2 452.1 1107.1 452.6 1107.6 453.1 1105.9 453.6 1104.6 454.1 1104.6 454.6 1102.3 455.1 1101.4 455.6 1100.0 456.1 1099.0 456.6 1098.5 457.1 1097.7 457.6 1096.4 458.1 1096.2 458.6 1095.7 459.1 1094.6 459.6 1093.7 460.1 1091.8 460.6 1089.6 461.1 1087.2 461.6 1083.1 462.1 1079.3 462.6 1073.5 463.1 1066.6 463.6 1059.1 464.1 1050.7 464.6 1042.0 465.1 1033.8 465.6 1026.7 466.1 1021.9 466.6 1021.5 467.1 1022.9 467.6 1026.6 468.1 1032.8 468.6 1038.7 469.1 1044.4 469.6 1049.6 470.1 1054.6 470.6 1056.3 471.1 1057.6 471.6 1056.9 472.1 1056.4 472.6 1055.5 473.1 1052.4 473.6 1050.4 474.1 1048.5 474.6 1046.9 475.1 1047.0 475.6 1047.1 476.1 1049.0 476.6 1051.0 477.1 1055.6 477.6 1057.7 478.1 1060.6 478.6 1063.8 479.1 1065.0 479.6 1066.7 480.1 1067.2 480.6 1067.8 481.1 1067.1 481.6 1066.3 482.1 1064.0 482.6 1061.1 483.1 1057.9 483.6 1054.0 484.1 1049.6 484.6 1046.2 485.1 1042.6 485.6 1040.0 486.1 1038.6 486.6 1040.6 487.1 1042.8 487.6 1048.1 488.1 1053.7 488.6 1059.6 489.1 1065.7 489.6 1071.7 490.1 1078.5 490.6 1082.1 491.1 1086.3 491.6 1090.4 492.1 1093.2 492.6 1096.1 493.1 1097.2 493.6 1099.1 494.1 1102.9 494.6 1102.6 495.1 1103.6 495.6 1104.9 496.1 1106.1 496.6 1105.8 497.1 1107.2 497.6 1107.6 498.1 1108.5 498.6 1108.7 499.1 1108.7 499.6 1108.9 500.1 1108.5 500.6 1110.4 501.1 1109.4 501.6 1110.2 502.1 1111.3 502.6 1110.5 503.1 1111.2 503.6 1110.9 504.1 1111.4 504.6 1111.2 505.1 1111.1 505.6 1112.1 506.1 1111.4 506.6 1110.9 507.1 1111.5 507.6 1112.0 508.1 1111.2 508.6 1112.2 509.1 1112.2 509.6 1112.9 510.1 1111.6 510.6 1112.3 511.1 1111.2 511.6 1111.8 512.1 1112.1 512.6 1112.3 513.1 1112.1 513.6 1112.1 514.1 1111.9 514.6 1112.0 515.1 1112.4 515.6 1112.5 516.1 1112.6 516.6 1112.8 517.1 1112.9 517.6 1111.4 518.1 1112.1 518.6 1112.3 519.1 1112.0 519.6 1112.9 520.1 1112.7 520.6 1112.3 521.1 1112.5 521.6 1113.0 522.1 1112.3 522.6 1112.3 523.1 1112.9 523.6 1112.7 524.1 1113.1 524.6 1112.6 525.1 1112.8 525.6 1112.2 526.1 1112.0 526.6 1112.5 527.1 1111.2 527.6 1112.7 528.1 1112.9 528.6 1112.5 529.1 1112.3 529.6 1113.0 530.1 1112.4 530.6 1112.9 531.1 1113.5 531.6 1112.8 532.1 1112.9 532.6 1112.6 533.1 1112.5 533.6 1112.5 534.1 1112.4 534.6 1112.8 535.1 1111.5 535.6 1112.1 536.1 1112.6 536.6 1111.8 537.1 1112.1 537.6 1111.8 538.1 1112.3 538.6 1112.5 539.1 1112.7 539.6 1112.2 540.1 1111.6 540.6 1112.0 541.1 1112.1 541.6 1112.4 542.1 1110.7 542.6 1111.8 543.1 1110.7 543.6 1111.8 544.1 1111.6 544.6 1111.5 545.1 1111.5 545.6 1111.2 546.1 1110.5 546.6 1110.9 547.1 1111.1 547.6 1110.3 548.1 1110.1 548.6 1109.3 549.1 1110.2 549.6 1109.1 550.1 1108.7 550.6 1108.4 551.1 1107.8 551.6 1107.6 552.1 1107.7 552.6 1106.9 553.1 1106.4 553.6 1105.6 554.1 1103.5 554.6 1103.0 555.1 1102.1 555.6 1100.9 556.1 1097.3 556.6 1095.1 557.1 1093.3 557.6 1089.6 558.1 1085.3 558.6 1080.9 559.1 1074.1 559.6 1065.5 560.1 1056.3 560.6 1043.1 561.1 1026.1 561.6 1003.9 562.1 975.0 562.6 940.4 563.1 902.0 563.6 866.1 564.1 843.3 564.6 841.0 565.1 859.2 565.6 892.3 566.1 928.0 566.6 961.0 567.1 990.0 567.6 1011.5 568.1 1026.1 568.6 1036.8 569.1 1044.7 569.6 1048.8 570.1 1048.9 570.6 1047.3 571.1 1042.0 571.6 1033.3 572.1 1020.4 572.6 1003.4 573.1 980.0 573.6 952.0 574.1 921.7 574.6 899.3 575.1 886.5 575.6 893.1 576.1 914.6 576.6 945.5 577.1 975.6 577.6 1003.7 578.1 1025.9 578.6 1043.9 579.1 1056.4 579.6 1067.0 580.1 1075.2 580.6 1082.5 581.1 1085.7 581.6 1090.5 582.1 1093.3 582.6 1096.3 583.1 1098.6 583.6 1100.2 584.1 1101.7 584.6 1103.0 585.1 1103.7 585.6 1104.8 586.1 1104.9 586.6 1106.2 587.1 1106.6 587.6 1107.3 588.1 1108.3 588.6 1108.5 589.1 1108.9 589.6 1109.5 590.1 1108.1 590.6 1109.7 591.1 1109.7 591.6 1109.9 592.1 1109.5 592.6 1110.5 593.1 1111.0 593.6 1111.1 594.1 1110.7 594.6 1111.1 595.1 1111.4 595.6 1111.9 596.1 1111.7 596.6 1111.3 597.1 1111.3 597.6 1111.4 598.1 1111.5 598.6 1111.2 599.1 1111.9 599.6 1111.2 600.1 1111.2 600.6 1111.8 601.1 1111.4 601.6 1111.6 602.1 1110.8 602.6 1112.2 603.1 1111.8 603.6 1111.8 604.1 1112.1 604.6 1112.0 605.1 1111.6 605.6 1112.9 606.1 1111.8 606.6 1112.5 607.1 1112.9 607.6 1111.7 608.1 1112.1 608.6 1111.7 609.1 1112.6 609.6 1111.9 610.1 1111.6 610.6 1112.7 611.1 1112.5 611.6 1111.7 612.1 1112.7 612.6 1112.2 613.1 1113.4 613.6 1113.0 614.1 1111.9 614.6 1112.0 615.1 1111.7 615.6 1112.2 616.1 1112.2 616.6 1112.5 617.1 1112.2 617.6 1111.5 618.1 1111.8 618.6 1112.8 619.1 1112.7 619.6 1112.1 620.1 1112.1 620.6 1112.1 621.1 1112.2 621.6 1111.3 622.1 1112.6 622.6 1111.8 623.1 1112.2 623.6 1110.9 624.1 1112.2 624.6 1112.8 625.1 1111.0 625.6 1112.8 626.1 1112.3 626.6 1111.7 627.1 1111.3 627.6 1112.6 628.1 1112.2 628.6 1112.3 629.1 1111.9 629.6 1111.7 630.1 1112.4 630.6 1111.6 631.1 1112.4 631.6 1111.2 632.1 1111.5 632.6 1111.3 633.1 1112.6 633.6 1111.1 634.1 1111.4 634.6 1112.2 635.1 1112.0 635.6 1112.9 636.1 1112.7 636.6 1112.1 637.1 1112.2 637.6 1110.9 638.1 1111.4 638.6 1111.6 639.1 1111.7 639.6 1111.1 640.1 1111.3 640.6 1111.3 641.1 1112.1 641.6 1111.8 642.1 1111.4 642.6 1111.4 643.1 1111.6 643.6 1111.1 644.1 1111.3 644.6 1110.6 645.1 1111.7 645.6 1111.7 646.1 1111.4 646.6 1111.4 647.1 1111.3 647.6 1112.0 648.1 1111.1 648.6 1110.3 649.1 1110.3 649.6 1111.0 650.1 1111.1 650.6 1110.8 651.1 1110.7 651.6 1110.3 652.1 1109.3 652.6 1109.5 653.1 1108.8 653.6 1109.2 654.1 1108.5 654.6 1108.9 655.1 1108.4 655.6 1107.1 656.1 1107.9 656.6 1107.4 657.1 1105.7 657.6 1105.7 658.1 1105.1 658.6 1103.5 659.1 1102.8 659.6 1100.9 660.1 1099.4 660.6 1096.7 661.1 1093.6 661.6 1090.3 662.1 1085.8 662.6 1079.6 663.1 1071.8 663.6 1062.3 664.1 1051.2 664.6 1038.0 665.1 1024.7 665.6 1012.6 666.1 1004.9 666.6 1004.2 667.1 1010.6 667.6 1022.7 668.1 1036.0 668.6 1048.5 669.1 1060.7 669.6 1070.1 670.1 1078.0 670.6 1084.1 671.1 1088.7 671.6 1092.2 672.1 1094.7 672.6 1098.4 673.1 1100.8 673.6 1101.4 674.1 1103.4 674.6 1104.1 675.1 1105.3 675.6 1105.6 676.1 1106.5 676.6 1107.1 677.1 1106.5 677.6 1108.1 678.1 1108.3 678.6 1107.5 679.1 1109.3 679.6 1109.2 680.1 1109.5 680.6 1109.7 681.1 1109.5 681.6 1109.3 682.1 1109.7 682.6 1109.9 683.1 1111.2 683.6 1111.1 684.1 1110.1 684.6 1110.2 685.1 1110.6 685.6 1110.8 686.1 1110.2 686.6 1110.1 687.1 1111.6 687.6 1111.2 688.1 1110.0 688.6 1109.9 689.1 1110.4 689.6 1110.9 690.1 1111.1 690.6 1110.7 691.1 1110.1 691.6 1111.0 692.1 1111.2 692.6 1110.9 693.1 1110.7 693.6 1111.2 694.1 1110.9 694.6 1110.4 695.1 1111.0 695.6 1110.3 696.1 1111.4 696.6 1111.2 697.1 1110.5 697.6 1111.1 698.1 1111.6 698.6 1109.9 699.1 1110.9 699.6 1111.8 700.1 1110.2 700.6 1110.9 701.1 1110.3 701.6 1110.9 702.1 1109.8 702.6 1110.2 703.1 1110.7 703.6 1111.0 704.1 1111.1 704.6 1111.1 705.1 1111.5 705.6 1111.3 706.1 1111.3 706.6 1110.4 707.1 1110.8 707.6 1112.5 708.1 1112.0 708.6 1111.3 709.1 1111.2 709.6 1111.3 710.1 1110.7 710.6 1111.8 711.1 1110.7 711.6 1110.8 712.1 1111.9 712.6 1109.8 713.1 1111.0 713.6 1109.9 714.1 1110.5 714.6 1110.7 715.1 1110.6 715.6 1110.8 716.1 1110.4 716.6 1110.7 717.1 1110.1 717.6 1110.5 718.1 1110.0 718.6 1111.0 719.1 1110.0 719.6 1111.0 720.1 1110.4 720.6 1110.4 721.1 1111.2 721.6 1110.6 722.1 1109.6 722.6 1110.8 723.1 1109.1 723.6 1110.6 724.1 1110.3 724.6 1109.7 725.1 1110.5 725.6 1110.2 726.1 1111.4 726.6 1110.1 727.1 1111.3 727.6 1111.0 728.1 1110.0 728.6 1109.8 729.1 1110.8 729.6 1110.1 730.1 1110.2 730.6 1110.0 731.1 1109.4 731.6 1109.8 732.1 1109.5 732.6 1109.2 733.1 1109.7 733.6 1110.7 734.1 1110.6 734.6 1109.7 735.1 1109.7 735.6 1109.8 736.1 1110.2 736.6 1109.6 737.1 1109.1 737.6 1109.0 738.1 1109.7 738.6 1110.3 739.1 1108.6 739.6 1107.8 740.1 1109.1 740.6 1108.5 741.1 1108.4 741.6 1108.8 742.1 1108.0 742.6 1107.1 743.1 1106.5 743.6 1107.1 744.1 1106.3 744.6 1106.6 745.1 1105.4 745.6 1105.4 746.1 1104.2 746.6 1104.1 747.1 1103.3 747.6 1103.0 748.1 1102.3 748.6 1100.3 749.1 1098.6 749.6 1098.3 750.1 1095.4 750.6 1093.0 751.1 1089.9 751.6 1086.5 752.1 1081.5 752.6 1075.3 753.1 1067.6 753.6 1057.1 754.1 1044.9 754.6 1029.9 755.1 1011.8 755.6 991.4 756.1 971.5 756.6 955.4 757.1 947.6 757.6 950.3 758.1 964.6 758.6 983.4 759.1 1003.2 759.6 1023.1 760.1 1039.5 760.6 1052.8 761.1 1062.5 761.6 1071.2 762.1 1078.1 762.6 1084.4 763.1 1087.3 763.6 1090.9 764.1 1093.2 764.6 1095.7 765.1 1097.9 765.6 1098.2 766.1 1099.1 766.6 1101.8 767.1 1102.4 767.6 1102.8 768.1 1104.2 768.6 1104.6 769.1 1103.5 769.6 1104.7 770.1 1105.6 770.6 1104.8 771.1 1105.0 771.6 1105.6 772.1 1104.8 772.6 1104.0 773.1 1103.8 773.6 1102.9 774.1 1103.1 774.6 1100.9 775.1 1101.2 775.6 1098.6 776.1 1098.2 776.6 1096.4 777.1 1096.4 777.6 1096.9 778.1 1097.4 778.6 1098.5 779.1 1099.0 779.6 1100.5 780.1 1101.9 780.6 1103.3 781.1 1103.9 781.6 1105.5 782.1 1105.9 782.6 1106.9 783.1 1107.0 783.6 1107.5 784.1 1107.1 784.6 1107.5 785.1 1107.2 785.6 1107.9 786.1 1108.1 786.6 1108.7 787.1 1107.7 787.6 1110.0 788.1 1108.4 788.6 1109.1 789.1 1109.0 789.6 1107.3 790.1 1108.4 790.6 1109.3 791.1 1107.3 791.6 1108.9 792.1 1108.0 792.6 1108.2 793.1 1108.5 793.6 1107.4 794.1 1108.4 794.6 1107.9 795.1 1107.7 795.6 1108.3 796.1 1109.6 796.6 1107.8 797.1 1107.7 797.6 1107.2 798.1 1106.6 798.6 1106.8 799.1 1107.0 799.6 1105.9 800.1 1105.7 800.6 1104.5 801.1 1105.1 801.6 1102.1 802.1 1102.2 802.6 1101.0 803.1 1099.5 803.6 1097.3 804.1 1095.8 804.6 1094.8 805.1 1093.6 805.6 1091.8 806.1 1091.2 806.6 1091.9 807.1 1092.4 807.6 1092.4 808.1 1093.5 808.6 1094.9 809.1 1098.0 809.6 1098.5 810.1 1099.6 810.6 1101.3 811.1 1103.1 811.6 1103.5 812.1 1102.9 812.6 1104.3 813.1 1104.7 813.6 1105.1 814.1 1105.1 814.6 1105.8 815.1 1105.7 815.6 1106.6 816.1 1106.6 816.6 1105.9 817.1 1105.9 817.6 1106.6 818.1 1107.2 818.6 1107.1 819.1 1106.8 819.6 1105.1 820.1 1106.5 820.6 1106.3 821.1 1106.4 821.6 1105.9 822.1 1106.2 822.6 1105.9 823.1 1107.4 823.6 1106.2 824.1 1105.5 824.6 1105.4 825.1 1105.0 825.6 1104.8 826.1 1104.2 826.6 1103.9 827.1 1103.9 827.6 1103.2 828.1 1102.3 828.6 1102.0 829.1 1100.5 829.6 1098.8 830.1 1097.1 830.6 1096.1 831.1 1094.5 831.6 1092.5 832.1 1090.0 832.6 1085.7 833.1 1081.2 833.6 1076.6 834.1 1069.8 834.6 1060.1 835.1 1049.4 835.6 1036.2 836.1 1019.5 836.6 1001.7 837.1 984.2 837.6 974.0 838.1 969.6 838.6 974.1 839.1 985.1 839.6 998.9 840.1 1013.0 840.6 1023.9 841.1 1032.0 841.6 1034.5 842.1 1035.8 842.6 1031.6 843.1 1025.5 843.6 1015.6 844.1 1007.0 844.6 1000.7 845.1 998.4 845.6 1002.3 846.1 1012.8 846.6 1025.9 847.1 1037.8 847.6 1049.2 848.1 1059.4 848.6 1066.1 849.1 1072.4 849.6 1075.3 850.1 1077.4 850.6 1079.2 851.1 1080.4 851.6 1078.1 852.1 1076.2 852.6 1072.6 853.1 1066.9 853.6 1061.6 854.1 1054.2 854.6 1048.2 855.1 1043.4 855.6 1043.4 856.1 1047.0 856.6 1055.2 857.1 1063.2 857.6 1071.5 858.1 1078.7 858.6 1083.4 859.1 1087.8 859.6 1091.7 860.1 1095.0 860.6 1096.1 861.1 1098.6 861.6 1099.6 862.1 1100.7 862.6 1102.2 863.1 1102.2 863.6 1102.7 864.1 1104.1 864.6 1104.3 865.1 1104.6 865.6 1105.0 866.1 1105.6 866.6 1105.4 867.1 1106.2 867.6 1106.2 868.1 1106.9 868.6 1107.0 869.1 1106.9 869.6 1106.5 870.1 1106.8 870.6 1106.5 871.1 1108.3 871.6 1106.8 872.1 1107.3 872.6 1107.8 873.1 1106.4 873.6 1106.7 874.1 1107.0 874.6 1106.7 875.1 1106.6 875.6 1107.0 876.1 1107.9 876.6 1107.6 877.1 1107.2 877.6 1107.2 878.1 1106.3 878.6 1107.5 879.1 1107.3 879.6 1106.5 880.1 1107.0 880.6 1106.7 881.1 1106.4 881.6 1106.0 882.1 1106.0 882.6 1105.6 883.1 1106.0 883.6 1105.6 884.1 1105.2 884.6 1104.5 885.1 1103.8 885.6 1104.5 886.1 1101.9 886.6 1102.8 887.1 1101.8 887.6 1101.2 888.1 1100.6 888.6 1100.7 889.1 1100.3 889.6 1100.5 890.1 1101.6 890.6 1101.4 891.1 1103.3 891.6 1104.0 892.1 1102.4 892.6 1103.8 893.1 1105.2 893.6 1105.6 894.1 1105.9 894.6 1106.4 895.1 1106.8 895.6 1107.1 896.1 1107.7 896.6 1107.0 897.1 1107.5 897.6 1106.4 898.1 1107.2 898.6 1106.7 899.1 1108.1 899.6 1108.6 900.1 1107.8 900.6 1106.9 901.1 1107.5 901.6 1107.7 902.1 1107.8 902.6 1108.3 903.1 1108.2 903.6 1106.4 904.1 1108.5 904.6 1107.6 905.1 1107.6 905.6 1108.6 906.1 1107.7 906.6 1107.2 907.1 1107.2 907.6 1107.9 908.1 1108.4 908.6 1108.7 909.1 1107.9 909.6 1107.7 910.1 1108.8 910.6 1107.7 911.1 1108.7 911.6 1108.1 912.1 1108.1 912.6 1107.8 913.1 1108.1 913.6 1107.7 914.1 1107.6 914.6 1107.8 915.1 1107.6 915.6 1108.0 916.1 1107.9 916.6 1107.7 917.1 1107.7 917.6 1107.6 918.1 1108.5 918.6 1107.6 919.1 1107.2 919.6 1107.2 920.1 1107.6 920.6 1107.1 921.1 1107.0 921.6 1106.8 922.1 1106.9 922.6 1106.9 923.1 1106.9 923.6 1105.8 924.1 1106.1 924.6 1105.3 925.1 1107.0 925.6 1107.3 926.1 1107.5 926.6 1107.0 927.1 1107.6 927.6 1107.2 928.1 1107.3 928.6 1106.7 929.1 1107.2 929.6 1107.4 930.1 1108.2 930.6 1108.7 931.1 1107.7 931.6 1108.2 932.1 1108.2 932.6 1107.7 933.1 1107.3 933.6 1107.8 934.1 1107.5 934.6 1108.1 935.1 1108.2 935.6 1108.2 936.1 1108.2 936.6 1108.5 937.1 1107.9 937.6 1108.8 938.1 1107.5 938.6 1108.4 939.1 1108.5 939.6 1108.0 940.1 1107.6 940.6 1108.7 941.1 1108.0 941.6 1108.7 942.1 1108.7 942.6 1108.3 943.1 1108.3 943.6 1108.8 944.1 1108.4 944.6 1107.8 945.1 1108.3 945.6 1108.4 946.1 1108.2 946.6 1108.1 947.1 1107.9 947.6 1107.8 948.1 1107.3 948.6 1106.9 949.1 1108.0 949.6 1106.9 950.1 1107.1 950.6 1106.0 951.1 1106.5 951.6 1105.7 952.1 1107.2 952.6 1104.8 953.1 1104.4 953.6 1104.9 954.1 1104.7 954.6 1102.8 955.1 1103.8 955.6 1104.1 956.1 1103.3 956.6 1104.5 957.1 1104.2 957.6 1104.4 958.1 1105.1 958.6 1105.5 959.1 1105.4 959.6 1107.5 960.1 1106.5 960.6 1106.6 961.1 1107.6 961.6 1107.3 962.1 1108.1 962.6 1107.4 963.1 1107.8 963.6 1107.7 964.1 1107.8 964.6 1107.7 965.1 1107.7 965.6 1108.6 966.1 1107.4 966.6 1107.5 967.1 1107.5 967.6 1107.9 968.1 1107.8 968.6 1107.9 969.1 1106.7 969.6 1107.4 970.1 1107.0 970.6 1106.8 971.1 1106.9 971.6 1105.6 972.1 1106.4 972.6 1106.1 973.1 1105.0 973.6 1105.3 974.1 1105.7 974.6 1104.3 975.1 1104.3 975.6 1103.4 976.1 1102.6 976.6 1102.1 977.1 1101.8 977.6 1102.2 978.1 1101.5 978.6 1100.4 979.1 1100.8 979.6 1099.9 980.1 1099.2 980.6 1099.4 981.1 1098.1 981.6 1097.1 982.1 1097.6 982.6 1094.8 983.1 1094.3 983.6 1091.1 984.1 1089.1 984.6 1085.3 985.1 1080.4 985.6 1073.5 986.1 1066.9 986.6 1057.7 987.1 1047.0 987.6 1037.3 988.1 1029.8 988.6 1025.1 989.1 1027.4 989.6 1033.4 990.1 1043.9 990.6 1054.5 991.1 1065.3 991.6 1072.9 992.1 1079.6 992.6 1085.5 993.1 1088.6 993.6 1093.0 994.1 1094.9 994.6 1097.0 995.1 1099.5 995.6 1100.4 996.1 1102.1 996.6 1101.6 997.1 1103.2 997.6 1103.3 998.1 1103.9 998.6 1103.5 999.1 1105.2 999.6 1105.0 1000.1 1104.5 1000.6 1104.4 1001.1 1104.6 1001.6 1105.6 1002.1 1104.7 1002.6 1104.3 1003.1 1104.3 1003.6 1103.6 1004.1 1103.1 1004.6 1102.5 1005.1 1101.4 1005.6 1100.6 1006.1 1098.4 1006.6 1097.6 1007.1 1096.0 1007.6 1094.9 1008.1 1093.6 1008.6 1092.4 1009.1 1092.0 1009.6 1092.6 1010.1 1092.2 1010.6 1092.7 1011.1 1094.7 1011.6 1096.1 1012.1 1096.8 1012.6 1098.2 1013.1 1098.9 1013.6 1100.1 1014.1 1101.5 1014.6 1101.9 1015.1 1101.9 1015.6 1101.8 1016.1 1101.0 1016.6 1101.7 1017.1 1101.1 1017.6 1100.6 1018.1 1099.9 1018.6 1097.7 1019.1 1096.2 1019.6 1093.3 1020.1 1092.4 1020.6 1090.4 1021.1 1089.1 1021.6 1087.8 1022.1 1087.6 1022.6 1088.7 1023.1 1089.1 1023.6 1091.6 1024.1 1094.0 1024.6 1095.3 1025.1 1097.2 1025.6 1099.8 1026.1 1101.3 1026.6 1102.9 1027.1 1104.0 1027.6 1104.3 1028.1 1105.6 1028.6 1106.6 1029.1 1106.4 1029.6 1106.9 1030.1 1106.9 1030.6 1108.1 1031.1 1108.9 1031.6 1107.5 1032.1 1108.7 1032.6 1109.0 1033.1 1108.4 1033.6 1108.6 1034.1 1108.4 1034.6 1108.6 1035.1 1109.1 1035.6 1109.4 1036.1 1109.2 1036.6 1109.6 1037.1 1109.4 1037.6 1108.7 1038.1 1110.0 1038.6 1109.9 1039.1 1109.0 1039.6 1110.3 1040.1 1109.6 1040.6 1109.5 1041.1 1110.4 1041.6 1108.2 1042.1 1108.7 1042.6 1109.8 1043.1 1109.3 1043.6 1109.0 1044.1 1110.1 1044.6 1109.6 1045.1 1108.7 1045.6 1109.0 1046.1 1109.7 1046.6 1110.1 1047.1 1108.2 1047.6 1109.2 1048.1 1108.8 1048.6 1108.1 1049.1 1108.8 1049.6 1108.0 1050.1 1108.3 1050.6 1109.3 1051.1 1108.5 1051.6 1108.5 1052.1 1108.2 1052.6 1107.8 1053.1 1107.9 1053.6 1106.5 1054.1 1106.6 1054.6 1106.9 1055.1 1105.7 1055.6 1105.5 1056.1 1105.9 1056.6 1105.7 1057.1 1104.3 1057.6 1103.9 1058.1 1104.4 1058.6 1104.0 1059.1 1103.4 1059.6 1104.0 1060.1 1104.0 1060.6 1103.9 1061.1 1105.6 1061.6 1105.1 1062.1 1105.1 1062.6 1105.6 1063.1 1106.9 1063.6 1106.4 1064.1 1105.9 1064.6 1106.8 1065.1 1107.0 1065.6 1107.1 1066.1 1107.8 1066.6 1108.1 1067.1 1108.2 1067.6 1108.2 1068.1 1109.0 1068.6 1108.0 1069.1 1109.4 1069.6 1109.1 1070.1 1109.4 1070.6 1108.2 1071.1 1110.3 1071.6 1108.7 1072.1 1109.2 1072.6 1110.1 1073.1 1109.5 1073.6 1109.7 1074.1 1108.8 1074.6 1109.8 1075.1 1110.1 1075.6 1110.4 1076.1 1110.0 1076.6 1110.3 1077.1 1110.4 1077.6 1109.9 1078.1 1109.9 1078.6 1111.2 1079.1 1109.9 1079.6 1110.9 1080.1 1110.4 1080.6 1111.1 1081.1 1110.1 1081.6 1110.7 1082.1 1110.6 1082.6 1110.3 1083.1 1110.6 1083.6 1110.1 1084.1 1110.5 1084.6 1110.3 1085.1 1110.9 1085.6 1110.5 1086.1 1109.9 1086.6 1110.4 1087.1 1110.5 1087.6 1110.1 1088.1 1111.2 1088.6 1110.8 1089.1 1111.0 1089.6 1110.2 1090.1 1110.4 1090.6 1111.1 1091.1 1109.9 1091.6 1110.8 1092.1 1110.7 1092.6 1110.4 1093.1 1110.7 1093.6 1110.1 1094.1 1110.8 1094.6 1110.1 1095.1 1110.1 1095.6 1111.4 1096.1 1110.3 1096.6 1109.7 1097.1 1111.2 1097.6 1110.3 1098.1 1109.0 1098.6 1110.7 1099.1 1111.1 1099.6 1110.9 1100.1 1111.5 1100.6 1110.6 1101.1 1111.0 1101.6 1110.2 1102.1 1110.7 1102.6 1111.4 1103.1 1110.9 1103.6 1110.7 1104.1 1109.7 1104.6 1110.4 1105.1 1110.0 1105.6 1111.0 1106.1 1110.2 1106.6 1110.7 1107.1 1110.0 1107.6 1111.4 1108.1 1109.9 1108.6 1110.5 1109.1 1111.7 1109.6 1110.4 1110.1 1109.8 1110.6 1110.5 1111.1 1110.6 1111.6 1110.5 1112.1 1109.0 1112.6 1110.0 1113.1 1108.7 1113.6 1110.5 1114.1 1109.5 1114.6 1109.1 1115.1 1109.4 1115.6 1109.1 1116.1 1108.1 1116.6 1109.2 1117.1 1108.0 1117.6 1107.0 1118.1 1108.2 1118.6 1108.0 1119.1 1107.5 1119.6 1106.9 1120.1 1105.9 1120.6 1106.5 1121.1 1106.8 1121.6 1106.1 1122.1 1106.4 1122.6 1105.2 1123.1 1106.2 1123.6 1106.3 1124.1 1105.3 1124.6 1105.5 1125.1 1106.2 1125.6 1106.9 1126.1 1107.4 1126.6 1107.4 1127.1 1107.8 1127.6 1108.1 1128.1 1108.5 1128.6 1109.0 1129.1 1109.2 1129.6 1109.1 1130.1 1109.5 1130.6 1109.3 1131.1 1110.1 1131.6 1109.6 1132.1 1110.8 1132.6 1110.1 1133.1 1110.3 1133.6 1109.9 1134.1 1110.2 1134.6 1110.5 1135.1 1110.5 1135.6 1110.2 1136.1 1110.0 1136.6 1110.7 1137.1 1110.8 1137.6 1111.0 1138.1 1111.4 1138.6 1110.6 1139.1 1109.8 1139.6 1110.7 1140.1 1109.9 1140.6 1110.2 1141.1 1111.4 1141.6 1111.2 1142.1 1110.6 1142.6 1110.6 1143.1 1110.9 1143.6 1110.1 1144.1 1111.2 1144.6 1110.8 1145.1 1111.9 1145.6 1110.4 1146.1 1111.4 1146.6 1110.6 1147.1 1111.5 1147.6 1110.5 1148.1 1111.3 1148.6 1110.7 1149.1 1110.5 1149.6 1110.9 1150.1 1111.2 1150.6 1111.1 1151.1 1111.7 1151.6 1111.3 1152.1 1109.6 1152.6 1110.7 1153.1 1109.9 1153.6 1110.7 1154.1 1111.2 1154.6 1110.2 1155.1 1110.2 1155.6 1110.9 1156.1 1110.6 1156.6 1111.5 1157.1 1110.9 1157.6 1111.0 1158.1 1111.5 1158.6 1110.4 1159.1 1110.6 1159.6 1110.1 1160.1 1110.7 1160.6 1111.0 1161.1 1111.2 1161.6 1110.4 1162.1 1110.0 1162.6 1110.0 1163.1 1109.6 1163.6 1110.3 1164.1 1110.9 1164.6 1108.9 1165.1 1109.0 1165.6 1110.7 1166.1 1109.1 1166.6 1110.0 1167.1 1109.1 1167.6 1110.0 1168.1 1109.9 1168.6 1109.5 1169.1 1109.7 1169.6 1109.2 1170.1 1109.3 1170.6 1109.8 1171.1 1109.3 1171.6 1108.2 1172.1 1107.9 1172.6 1108.0 1173.1 1107.8 1173.6 1107.6 1174.1 1107.0 1174.6 1107.3 1175.1 1106.6 1175.6 1106.4 1176.1 1105.7 1176.6 1105.5 1177.1 1104.0 1177.6 1104.7 1178.1 1103.3 1178.6 1102.4 1179.1 1101.5 1179.6 1100.5 1180.1 1098.9 1180.6 1096.9 1181.1 1094.7 1181.6 1091.5 1182.1 1089.5 1182.6 1085.6 1183.1 1081.1 1183.6 1077.1 1184.1 1068.6 1184.6 1062.3 1185.1 1055.6 1185.6 1049.5 1186.1 1046.5 1186.6 1046.1 1187.1 1050.4 1187.6 1057.4 1188.1 1063.4 1188.6 1070.2 1189.1 1074.3 1189.6 1078.0 1190.1 1080.8 1190.6 1082.3 1191.1 1083.6 1191.6 1083.5 1192.1 1083.6 1192.6 1082.3 1193.1 1081.0 1193.6 1077.6 1194.1 1074.1 1194.6 1070.4 1195.1 1064.4 1195.6 1056.5 1196.1 1048.4 1196.6 1039.1 1197.1 1033.0 1197.6 1027.0 1198.1 1029.4 1198.6 1033.9 1199.1 1043.2 1199.6 1052.4 1200.1 1061.4 1200.6 1069.8 1201.1 1076.2 1201.6 1081.0 1202.1 1085.0 1202.6 1090.0 1203.1 1092.5 1203.6 1094.3 1204.1 1096.1 1204.6 1098.1 1205.1 1099.4 1205.6 1101.2 1206.1 1101.2 1206.6 1102.6 1207.1 1103.0 1207.6 1104.8 1208.1 1105.6 1208.6 1105.2 1209.1 1106.0 1209.6 1106.9 1210.1 1106.4 1210.6 1106.4 1211.1 1107.7 1211.6 1107.7 1212.1 1107.5 1212.6 1108.6 1213.1 1108.1 1213.6 1107.3 1214.1 1108.4 1214.6 1108.3 1215.1 1109.4 1215.6 1108.5 1216.1 1108.4 1216.6 1108.7 1217.1 1108.5 1217.6 1107.6 1218.1 1108.3 1218.6 1107.9 1219.1 1108.5 1219.6 1108.7 1220.1 1106.5 1220.6 1106.0 1221.1 1105.3 1221.6 1104.5 1222.1 1103.2 1222.6 1102.1 1223.1 1100.6 1223.6 1097.2 1224.1 1094.7 1224.6 1092.4 1225.1 1092.5 1225.6 1092.5 1226.1 1092.3 1226.6 1094.3 1227.1 1097.6 1227.6 1100.4 1228.1 1102.4 1228.6 1103.7 1229.1 1105.3 1229.6 1106.1 1230.1 1106.5 1230.6 1108.4 1231.1 1107.9 1231.6 1107.8 1232.1 1108.4 1232.6 1108.1 1233.1 1109.1 1233.6 1109.8 1234.1 1108.7 1234.6 1110.0 1235.1 1110.5 1235.6 1109.7 1236.1 1108.9 1236.6 1109.0 1237.1 1109.3 1237.6 1108.7 1238.1 1108.6 1238.6 1109.0 1239.1 1108.8 1239.6 1109.0 1240.1 1107.8 1240.6 1109.0 1241.1 1108.2 1241.6 1107.6 1242.1 1106.2 1242.6 1106.6 1243.1 1104.5 1243.6 1104.2 1244.1 1102.1 1244.6 1099.0 1245.1 1096.5 1245.6 1094.4 1246.1 1090.3 1246.6 1086.0 1247.1 1083.2 1247.6 1081.8 1248.1 1081.9 1248.6 1084.6 1249.1 1087.8 1249.6 1091.6 1250.1 1095.4 1250.6 1097.6 1251.1 1100.8 1251.6 1102.3 1252.1 1104.0 1252.6 1105.1 1253.1 1106.1 1253.6 1106.4 1254.1 1106.8 1254.6 1106.7 1255.1 1107.3 1255.6 1106.6 1256.1 1107.0 1256.6 1107.4 1257.1 1106.8 1257.6 1106.8 1258.1 1105.6 1258.6 1106.2 1259.1 1104.5 1259.6 1104.0 1260.1 1102.6 1260.6 1101.5 1261.1 1099.0 1261.6 1096.7 1262.1 1094.4 1262.6 1093.9 1263.1 1093.2 1263.6 1094.8 1264.1 1096.6 1264.6 1096.3 1265.1 1098.2 1265.6 1100.0 1266.1 1101.1 1266.6 1100.9 1267.1 1100.7 1267.6 1100.1 1268.1 1099.0 1268.6 1097.9 1269.1 1095.3 1269.6 1092.0 1270.1 1090.0 1270.6 1088.7 1271.1 1087.9 1271.6 1089.4 1272.1 1091.6 1272.6 1094.3 1273.1 1097.7 1273.6 1099.5 1274.1 1101.1 1274.6 1102.9 1275.1 1104.5 1275.6 1106.5 1276.1 1106.4 1276.6 1107.6 1277.1 1107.7 1277.6 1106.8 1278.1 1108.4 1278.6 1108.1 1279.1 1108.1 1279.6 1108.4 1280.1 1110.1 1280.6 1108.5 1281.1 1109.1 1281.6 1110.2 1282.1 1110.0 1282.6 1108.9 1283.1 1109.8 1283.6 1109.6 1284.1 1109.9 1284.6 1110.4 1285.1 1109.7 1285.6 1109.9 1286.1 1110.8 1286.6 1109.2 1287.1 1109.9 1287.6 1110.4 1288.1 1109.5 1288.6 1109.8 1289.1 1109.5 1289.6 1110.2 1290.1 1109.8 1290.6 1110.5 1291.1 1110.6 1291.6 1110.0 1292.1 1109.7 1292.6 1110.0 1293.1 1109.8 1293.6 1109.0 1294.1 1110.0 1294.6 1109.5 1295.1 1109.6 1295.6 1108.4 1296.1 1109.5 1296.6 1110.1 1297.1 1109.4 1297.6 1108.5 1298.1 1109.4 1298.6 1109.5 1299.1 1109.8 1299.6 1109.7 1300.1 1110.1 1300.6 1109.7 1301.1 1110.2 1301.6 1109.8 1302.1 1110.2 1302.6 1110.7 1303.1 1110.0 1303.6 1110.6 1304.1 1109.8 1304.6 1110.1 1305.1 1110.2 1305.6 1110.9 1306.1 1109.9 1306.6 1110.9 1307.1 1109.6 1307.6 1110.2 1308.1 1110.8 1308.6 1110.7 1309.1 1109.8 1309.6 1109.7 1310.1 1110.7 1310.6 1109.7 1311.1 1110.6 1311.6 1110.0 1312.1 1110.3 1312.6 1111.4 1313.1 1111.0 1313.6 1110.7 1314.1 1109.5 1314.6 1110.4 1315.1 1110.2 1315.6 1110.1 1316.1 1110.8 1316.6 1109.2 1317.1 1110.2 1317.6 1110.0 1318.1 1109.5 1318.6 1110.7 1319.1 1109.1 1319.6 1109.7 1320.1 1109.6 1320.6 1108.3 1321.1 1108.6 1321.6 1108.7 1322.1 1109.5 1322.6 1109.5 1323.1 1109.4 1323.6 1109.2 1324.1 1108.1 1324.6 1109.4 1325.1 1109.2 1325.6 1110.1 1326.1 1110.3 1326.6 1110.8 1327.1 1110.1 1327.6 1110.2 1328.1 1109.3 1328.6 1109.9 1329.1 1109.3 1329.6 1110.4 1330.1 1109.3 1330.6 1109.8 1331.1 1109.5 1331.6 1109.7 1332.1 1110.2 1332.6 1109.7 1333.1 1110.1 1333.6 1109.5 1334.1 1110.7 1334.6 1109.6 1335.1 1110.5 1335.6 1111.0 1336.1 1108.7 1336.6 1109.4 1337.1 1109.8 1337.6 1110.5 1338.1 1109.7 1338.6 1110.1 1339.1 1109.5 1339.6 1110.1 1340.1 1109.2 1340.6 1110.2 1341.1 1108.3 1341.6 1108.8 1342.1 1110.7 1342.6 1109.8 1343.1 1109.2 1343.6 1110.8 1344.1 1110.2 1344.6 1110.2 1345.1 1109.3 1345.6 1109.8 1346.1 1109.7 1346.6 1108.5 1347.1 1109.6 1347.6 1109.1 1348.1 1109.8 1348.6 1109.7 1349.1 1108.5 1349.6 1108.4 1350.1 1108.6 1350.6 1108.6 1351.1 1107.8 1351.6 1107.6 1352.1 1107.5 1352.6 1106.9 1353.1 1106.6 1353.6 1105.5 1354.1 1104.3 1354.6 1103.3 1355.1 1104.4 1355.6 1103.9 1356.1 1104.3 1356.6 1104.9 1357.1 1104.9 1357.6 1106.1 1358.1 1105.5 1358.6 1107.1 1359.1 1107.2 1359.6 1108.9 1360.1 1108.4 1360.6 1108.3 1361.1 1108.6 1361.6 1109.0 1362.1 1108.4 1362.6 1108.7 1363.1 1108.7 1363.6 1110.2 1364.1 1109.0 1364.6 1108.0 1365.1 1109.4 1365.6 1110.3 1366.1 1108.5 1366.6 1110.8 1367.1 1108.9 1367.6 1109.5 1368.1 1108.6 1368.6 1108.7 1369.1 1108.1 1369.6 1108.1 1370.1 1107.5 1370.6 1109.0 1371.1 1107.7 1371.6 1108.2 1372.1 1108.0 1372.6 1107.3 1373.1 1107.4 1373.6 1107.1 1374.1 1106.8 1374.6 1107.1 1375.1 1107.2 1375.6 1106.8 1376.1 1106.9 1376.6 1107.3 1377.1 1108.1 1377.6 1108.9 1378.1 1109.1 1378.6 1108.7 1379.1 1109.1 1379.6 1108.8 1380.1 1109.4 1380.6 1108.9 1381.1 1109.1 1381.6 1108.8 1382.1 1109.0 1382.6 1110.0 1383.1 1108.4 1383.6 1109.1 1384.1 1108.8 1384.6 1109.6 1385.1 1110.0 1385.6 1109.0 1386.1 1107.7 1386.6 1109.4 1387.1 1109.4 1387.6 1108.3 1388.1 1109.0 1388.6 1109.1 1389.1 1107.9 1389.6 1109.5 1390.1 1109.4 1390.6 1109.3 1391.1 1108.6 1391.6 1108.8 1392.1 1108.8 1392.6 1109.4 1393.1 1108.6 1393.6 1109.9 1394.1 1109.3 1394.6 1108.0 1395.1 1110.0 1395.6 1109.2 1396.1 1108.8 1396.6 1109.1 1397.1 1108.1 1397.6 1109.2 1398.1 1107.8 1398.6 1108.5 1399.1 1109.7 1399.6 1109.7 1400.1 1108.8 1400.6 1108.5 1401.1 1109.5 1401.6 1109.0 1402.1 1109.1 1402.6 1109.3 1403.1 1108.4 1403.6 1109.4 1404.1 1107.9 1404.6 1109.7 1405.1 1108.2 1405.6 1108.6 1406.1 1108.6 1406.6 1109.3 1407.1 1109.3 1407.6 1109.1 1408.1 1109.2 1408.6 1109.2 1409.1 1108.9 1409.6 1107.9 1410.1 1107.7 1410.6 1107.7 1411.1 1108.9 1411.6 1108.8 1412.1 1108.8 1412.6 1109.0 1413.1 1108.7 1413.6 1108.3 1414.1 1108.1 1414.6 1107.9 1415.1 1109.5 1415.6 1109.3 1416.1 1108.1 1416.6 1108.7 1417.1 1109.0 1417.6 1109.6 1418.1 1108.5 1418.6 1108.9 1419.1 1109.4 1419.6 1107.9 1420.1 1108.4 1420.6 1108.7 1421.1 1108.4 1421.6 1109.8 1422.1 1109.2 1422.6 1108.8 1423.1 1108.2 1423.6 1109.2 1424.1 1109.0 1424.6 1108.4 1425.1 1108.4 1425.6 1107.9 1426.1 1108.6 1426.6 1109.1 1427.1 1109.1 1427.6 1108.9 1428.1 1109.0 1428.6 1108.3 1429.1 1108.3 1429.6 1109.2 1430.1 1108.8 1430.6 1108.1 1431.1 1108.7 1431.6 1108.9 1432.1 1108.8 1432.6 1108.5 1433.1 1108.1 1433.6 1108.6 1434.1 1109.2 1434.6 1108.4 1435.1 1107.9 1435.6 1108.4 1436.1 1107.5 1436.6 1108.2 1437.1 1107.9 1437.6 1108.5 1438.1 1107.9 1438.6 1108.3 1439.1 1108.9 1439.6 1107.4 1440.1 1107.0 1440.6 1107.5 1441.1 1107.0 1441.6 1106.9 1442.1 1106.2 1442.6 1106.4 1443.1 1105.7 1443.6 1104.0 1444.1 1104.2 1444.6 1103.6 1445.1 1102.9 1445.6 1100.7 1446.1 1099.1 1446.6 1098.7 1447.1 1096.8 1447.6 1096.9 1448.1 1097.7 1448.6 1099.0 1449.1 1100.1 1449.6 1100.9 1450.1 1103.3 1450.6 1103.5 1451.1 1104.3 1451.6 1106.3 1452.1 1106.2 1452.6 1105.6 1453.1 1106.2 1453.6 1106.6 1454.1 1106.5 1454.6 1106.1 1455.1 1107.7 1455.6 1107.8 1456.1 1107.6 1456.6 1107.3 1457.1 1107.7 1457.6 1108.0 1458.1 1107.2 1458.6 1107.6 1459.1 1107.5 1459.6 1108.2 1460.1 1108.0 1460.6 1107.2 1461.1 1107.5 1461.6 1108.8 1462.1 1107.4 1462.6 1108.0 1463.1 1107.6 1463.6 1108.5 1464.1 1107.8 1464.6 1107.6 1465.1 1107.2 1465.6 1107.7 1466.1 1108.2 1466.6 1108.1 1467.1 1107.1 1467.6 1108.5 1468.1 1107.5 1468.6 1107.1 1469.1 1107.6 1469.6 1107.2 1470.1 1107.1 1470.6 1107.0 1471.1 1107.2 1471.6 1106.9 1472.1 1106.2 1472.6 1107.2 1473.1 1106.6 1473.6 1107.3 1474.1 1106.8 1474.6 1106.7 1475.1 1106.2 1475.6 1106.6 1476.1 1105.5 1476.6 1105.0 1477.1 1105.4 1477.6 1103.6 1478.1 1104.5 1478.6 1104.6 1479.1 1104.1 1479.6 1104.8 1480.1 1104.4 1480.6 1104.0 1481.1 1103.7 1481.6 1104.5 1482.1 1103.7 1482.6 1103.9 1483.1 1104.7 1483.6 1104.8 1484.1 1105.8 1484.6 1104.9 1485.1 1104.3 1485.6 1105.8 1486.1 1106.4 1486.6 1105.8 1487.1 1106.9 1487.6 1107.2 1488.1 1106.1 1488.6 1106.4 1489.1 1106.1 1489.6 1107.1 1490.1 1107.3 1490.6 1107.4 1491.1 1106.5 1491.6 1106.8 1492.1 1106.5 1492.6 1106.5 1493.1 1106.7 1493.6 1106.6 1494.1 1107.4 1494.6 1107.7 1495.1 1107.8 1495.6 1107.5 1496.1 1107.2 1496.6 1107.6 1497.1 1107.9 1497.6 1107.4 1498.1 1107.6 1498.6 1107.5 1499.1 1107.4 1499.6 1107.7 1500.1 1107.1 1500.6 1108.2 1501.1 1106.8 1501.6 1107.9 1502.1 1106.9 1502.6 1108.4 1503.1 1108.1 1503.6 1107.2 1504.1 1107.4 1504.6 1107.1 1505.1 1107.6 1505.6 1107.8 1506.1 1108.9 1506.6 1106.9 1507.1 1108.2 1507.6 1107.3 1508.1 1107.7 1508.6 1108.0 1509.1 1107.8 1509.6 1107.8 1510.1 1107.4 1510.6 1107.5 1511.1 1107.6 1511.6 1108.1 1512.1 1106.7 1512.6 1107.2 1513.1 1106.8 1513.6 1106.9 1514.1 1106.9 1514.6 1107.9 1515.1 1108.4 1515.6 1107.9 1516.1 1106.6 1516.6 1107.2 1517.1 1106.5 1517.6 1107.2 1518.1 1107.5 1518.6 1107.1 1519.1 1107.1 1519.6 1106.4 1520.1 1105.3 1520.6 1105.1 1521.1 1105.9 1521.6 1105.9 1522.1 1105.9 1522.6 1104.6 1523.1 1104.3 1523.6 1103.6 1524.1 1103.1 1524.6 1101.5 1525.1 1099.7 1525.6 1099.7 1526.1 1098.4 1526.6 1098.0 1527.1 1097.5 1527.6 1099.1 1528.1 1099.4 1528.6 1100.4 1529.1 1102.4 1529.6 1103.2 1530.1 1104.4 1530.6 1105.4 1531.1 1105.1 1531.6 1106.4 1532.1 1105.4 1532.6 1106.3 1533.1 1105.5 1533.6 1106.3 1534.1 1106.2 1534.6 1106.4 1535.1 1106.8 1535.6 1105.6 1536.1 1106.7 1536.6 1106.3 1537.1 1106.8 1537.6 1106.9 1538.1 1106.6 1538.6 1106.6 1539.1 1106.1 1539.6 1107.0 1540.1 1106.4 1540.6 1106.9 1541.1 1105.9 1541.6 1107.3 1542.1 1106.0 1542.6 1107.1 1543.1 1106.2 1543.6 1106.6 1544.1 1106.2 1544.6 1106.5 1545.1 1106.0 1545.6 1106.5 1546.1 1106.0 1546.6 1105.8 1547.1 1106.0 1547.6 1104.5 1548.1 1105.1 1548.6 1104.0 1549.1 1102.6 1549.6 1102.9 1550.1 1101.6 1550.6 1101.5 1551.1 1099.1 1551.6 1098.1 1552.1 1097.0 1552.6 1095.0 1553.1 1096.1 1553.6 1095.8 1554.1 1098.0 1554.6 1099.4 1555.1 1099.8 1555.6 1100.2 1556.1 1102.1 1556.6 1103.0 1557.1 1103.9 1557.6 1104.0 1558.1 1104.0 1558.6 1104.9 1559.1 1104.7 1559.6 1106.4 1560.1 1105.3 1560.6 1105.5 1561.1 1106.0 1561.6 1105.5 1562.1 1106.0 1562.6 1106.2 1563.1 1106.1 1563.6 1106.3 1564.1 1107.1 1564.6 1106.8 1565.1 1105.9 1565.6 1106.4 1566.1 1107.1 1566.6 1106.4 1567.1 1106.8 1567.6 1106.7 1568.1 1107.0 1568.6 1106.7 1569.1 1106.7 1569.6 1106.4 1570.1 1107.0 1570.6 1106.3 1571.1 1107.7 1571.6 1106.8 1572.1 1106.7 1572.6 1107.2 1573.1 1106.8 1573.6 1106.9 1574.1 1106.8 1574.6 1106.5 1575.1 1106.4 1575.6 1106.5 1576.1 1107.4 1576.6 1106.5 1577.1 1106.6 1577.6 1106.6 1578.1 1107.2 1578.6 1107.9 1579.1 1106.4 1579.6 1107.1 1580.1 1106.9 1580.6 1106.7 1581.1 1107.1 1581.6 1106.2 1582.1 1107.2 1582.6 1106.9 1583.1 1106.3 1583.6 1107.6 1584.1 1107.2 1584.6 1107.4 1585.1 1106.0 1585.6 1106.6 1586.1 1106.5 1586.6 1107.0 1587.1 1107.4 1587.6 1105.7 1588.1 1106.7 1588.6 1106.6 1589.1 1107.2 1589.6 1106.6 1590.1 1106.0 1590.6 1106.5 1591.1 1106.1 1591.6 1106.2 1592.1 1106.6 1592.6 1106.3 1593.1 1106.7 1593.6 1105.7 1594.1 1107.7 1594.6 1107.1 1595.1 1106.8 1595.6 1105.7 1596.1 1105.2 1596.6 1105.9 1597.1 1106.1 1597.6 1107.4 1598.1 1106.8 1598.6 1105.8 1599.1 1106.7 1599.6 1106.6 1600.1 1105.9 1600.6 1106.4 1601.1 1105.9 1601.6 1105.3 1602.1 1104.9 1602.6 1105.4 1603.1 1105.8 1603.6 1104.4 1604.1 1104.1 1604.6 1105.1 1605.1 1103.2 1605.6 1105.3 1606.1 1103.9 1606.6 1104.3 1607.1 1104.6 1607.6 1102.7 1608.1 1102.7 1608.6 1104.1 1609.1 1102.7 1609.6 1102.6 1610.1 1102.7 1610.6 1103.1 1611.1 1103.3 1611.6 1102.8 1612.1 1102.7 1612.6 1103.0 1613.1 1103.4 1613.6 1104.2 1614.1 1103.8 1614.6 1105.0 1615.1 1103.8 1615.6 1104.8 1616.1 1105.7 1616.6 1105.6 1617.1 1105.3 1617.6 1104.9 1618.1 1105.1 1618.6 1105.6 1619.1 1105.9 1619.6 1105.8 1620.1 1105.2 1620.6 1105.7 1621.1 1106.4 1621.6 1106.6 1622.1 1105.5 1622.6 1106.1 1623.1 1105.5 1623.6 1106.0 1624.1 1108.1 1624.6 1106.4 1625.1 1106.1 1625.6 1106.0 1626.1 1105.7 1626.6 1105.3 1627.1 1106.1 1627.6 1105.9 1628.1 1106.7 1628.6 1105.0 1629.1 1106.0 1629.6 1106.3 1630.1 1104.4 1630.6 1105.5 1631.1 1104.0 1631.6 1104.8 1632.1 1104.8 1632.6 1103.5 1633.1 1103.0 1633.6 1101.7 1634.1 1101.2 1634.6 1100.4 1635.1 1098.2 1635.6 1096.4 1636.1 1094.7 1636.6 1092.9 1637.1 1090.0 1637.6 1089.9 1638.1 1089.7 1638.6 1091.4 1639.1 1093.5 1639.6 1095.2 1640.1 1097.7 1640.6 1098.3 1641.1 1100.1 1641.6 1101.0 1642.1 1102.6 1642.6 1103.4 1643.1 1103.9 1643.6 1103.9 1644.1 1105.0 1644.6 1105.2 1645.1 1106.0 1645.6 1105.8 1646.1 1106.8 1646.6 1106.5 1647.1 1105.6 1647.6 1106.7 1648.1 1106.1 1648.6 1107.5 1649.1 1107.8 1649.6 1107.2 1650.1 1107.5 1650.6 1106.6 1651.1 1106.3 1651.6 1107.2 1652.1 1107.4 1652.6 1106.8 1653.1 1107.7 1653.6 1107.9 1654.1 1108.1 1654.6 1108.6 1655.1 1108.2 1655.6 1107.7 1656.1 1107.9 1656.6 1108.2 1657.1 1107.4 1657.6 1108.7 1658.1 1108.5 1658.6 1107.9 1659.1 1107.7 1659.6 1110.0 1660.1 1108.5 1660.6 1108.6 1661.1 1109.0 1661.6 1108.6 1662.1 1108.3 1662.6 1108.5 1663.1 1107.7 1663.6 1108.6 1664.1 1107.4 1664.6 1108.5 1665.1 1108.5 1665.6 1107.5 1666.1 1109.3 1666.6 1107.7 1667.1 1108.8 1667.6 1108.0 1668.1 1108.5 1668.6 1108.0 1669.1 1109.6 1669.6 1108.9 1670.1 1109.3 1670.6 1108.7 1671.1 1108.7 1671.6 1108.4 1672.1 1108.2 1672.6 1108.6 1673.1 1108.4 1673.6 1108.2 1674.1 1107.6 1674.6 1108.1 1675.1 1108.6 1675.6 1108.0 1676.1 1108.4 1676.6 1108.1 1677.1 1107.6 1677.6 1107.7 1678.1 1107.7 1678.6 1107.9 1679.1 1107.8 1679.6 1108.5 1680.1 1107.3 1680.6 1106.7 1681.1 1108.0 1681.6 1107.3 1682.1 1107.3 1682.6 1108.5 1683.1 1107.8 1683.6 1107.1 1684.1 1107.0 1684.6 1106.2 1685.1 1106.3 1685.6 1105.0 1686.1 1104.4 1686.6 1103.8 1687.1 1104.0 1687.6 1103.0 1688.1 1100.6 1688.6 1099.9 1689.1 1097.3 1689.6 1095.7 1690.1 1092.4 1690.6 1090.5 1691.1 1087.8 1691.6 1086.6 1692.1 1086.9 1692.6 1088.4 1693.1 1090.3 1693.6 1092.5 1694.1 1096.6 1694.6 1097.8 1695.1 1098.9 1695.6 1100.2 1696.1 1101.2 1696.6 1103.4 1697.1 1105.2 1697.6 1104.4 1698.1 1105.6 1698.6 1105.3 1699.1 1107.2 1699.6 1107.2 1700.1 1107.4 1700.6 1108.2 1701.1 1108.6 1701.6 1108.5 1702.1 1107.8 1702.6 1107.6 1703.1 1107.8 1703.6 1107.6 1704.1 1109.5 1704.6 1108.6 1705.1 1108.8 1705.6 1108.9 1706.1 1109.9 1706.6 1108.7 1707.1 1109.6 1707.6 1109.2 1708.1 1109.0 1708.6 1108.1 1709.1 1109.6 1709.6 1108.8 1710.1 1109.0 1710.6 1109.3 1711.1 1109.3 1711.6 1109.8 1712.1 1108.9 1712.6 1109.3 1713.1 1109.4 1713.6 1109.3 1714.1 1109.6 1714.6 1109.1 1715.1 1109.8 1715.6 1108.8 1716.1 1108.4 1716.6 1109.0 1717.1 1109.6 1717.6 1108.6 1718.1 1108.4 1718.6 1108.4 1719.1 1108.4 1719.6 1108.0 1720.1 1108.0 1720.6 1106.6 1721.1 1107.9 1721.6 1107.0 1722.1 1105.8 1722.6 1106.7 1723.1 1106.1 1723.6 1106.6 1724.1 1105.5 1724.6 1107.3 1725.1 1106.9 1725.6 1106.3 1726.1 1108.1 1726.6 1108.0 1727.1 1107.9 1727.6 1108.6 1728.1 1107.9 1728.6 1109.4 1729.1 1109.2 1729.6 1109.3 1730.1 1110.3 1730.6 1109.7 1731.1 1109.4 1731.6 1109.3 1732.1 1109.9 1732.6 1110.5 1733.1 1109.7 1733.6 1109.5 1734.1 1110.6 1734.6 1110.2 1735.1 1110.2 1735.6 1111.3 1736.1 1109.7 1736.6 1110.4 1737.1 1109.4 1737.6 1110.2 1738.1 1110.7 1738.6 1111.0 1739.1 1109.8 1739.6 1110.9 1740.1 1110.9 1740.6 1110.5 1741.1 1111.8 1741.6 1110.6 1742.1 1110.1 1742.6 1110.8 1743.1 1109.7 1743.6 1111.5 1744.1 1111.2 1744.6 1110.5 1745.1 1111.0 1745.6 1111.0 1746.1 1111.7 1746.6 1110.4 1747.1 1110.1 1747.6 1109.8 1748.1 1110.7 1748.6 1110.0 1749.1 1110.8 1749.6 1111.1 1750.1 1110.7 1750.6 1110.4 1751.1 1111.5 1751.6 1110.8 1752.1 1111.1 1752.6 1111.5 1753.1 1110.3 1753.6 1110.5 1754.1 1112.3 1754.6 1110.9 1755.1 1110.5 1755.6 1110.9 1756.1 1110.8 1756.6 1110.5 1757.1 1110.9 1757.6 1111.1 1758.1 1111.1 1758.6 1111.4 1759.1 1110.3 1759.6 1110.4 1760.1 1111.6 1760.6 1111.0 1761.1 1111.8 1761.6 1111.4 1762.1 1110.5 1762.6 1111.5 1763.1 1110.8 1763.6 1111.4 1764.1 1111.9 1764.6 1112.4 1765.1 1111.3 1765.6 1111.7 1766.1 1111.5 1766.6 1111.8 1767.1 1110.1 1767.6 1111.2 1768.1 1111.6 1768.6 1111.7 1769.1 1111.1 1769.6 1111.9 1770.1 1112.1 1770.6 1111.5 1771.1 1111.4 1771.6 1111.3 1772.1 1111.6 1772.6 1112.2 1773.1 1112.3 1773.6 1111.3 1774.1 1111.1 1774.6 1111.2 1775.1 1112.1 1775.6 1111.8 1776.1 1111.8 1776.6 1111.9 1777.1 1111.9 1777.6 1111.6 1778.1 1111.2 1778.6 1111.4 1779.1 1111.8 1779.6 1112.0 1780.1 1111.6 1780.6 1111.6 1781.1 1112.5 1781.6 1111.6 1782.1 1111.9 1782.6 1111.7 1783.1 1111.4 1783.6 1111.1 1784.1 1111.6 1784.6 1111.5 1785.1 1112.3 1785.6 1111.3 1786.1 1111.7 1786.6 1112.3 1787.1 1111.9 1787.6 1112.2 1788.1 1112.4 1788.6 1111.2 1789.1 1111.8 1789.6 1111.5 1790.1 1112.7 1790.6 1112.0 1791.1 1112.3 1791.6 1113.0 1792.1 1111.9 1792.6 1112.2 1793.1 1112.3 1793.6 1112.0 1794.1 1112.8 1794.6 1112.6 1795.1 1112.7 1795.6 1112.2 1796.1 1112.0 1796.6 1112.0 1797.1 1112.1 1797.6 1111.4 1798.1 1112.5 1798.6 1112.7 1799.1 1112.3 1799.6 1112.1 1800.1 1112.3 1800.6 1112.4 1801.1 1112.5 1801.6 1113.2 1802.1 1111.9 1802.6 1112.5 1803.1 1112.6 1803.6 1112.3 1804.1 1112.2 1804.6 1111.8 1805.1 1112.0 1805.6 1112.6 1806.1 1113.0 1806.6 1111.9 1807.1 1112.5 1807.6 1112.5 1808.1 1112.7 1808.6 1112.4 1809.1 1112.5 1809.6 1112.7 1810.1 1111.6 1810.6 1112.2 1811.1 1111.3 1811.6 1111.2 1812.1 1111.8 1812.6 1111.4 1813.1 1112.4 1813.6 1112.7 1814.1 1112.0 1814.6 1112.1 1815.1 1112.0 1815.6 1112.0 1816.1 1112.2 1816.6 1112.3 1817.1 1111.9 1817.6 1111.7 1818.1 1111.9 1818.6 1112.5 1819.1 1111.9 1819.6 1112.8 1820.1 1112.0 1820.6 1112.8 1821.1 1111.5 1821.6 1111.7 1822.1 1112.3 1822.6 1112.3 1823.1 1112.0 1823.6 1113.1 1824.1 1112.1 1824.6 1112.2 1825.1 1111.8 1825.6 1112.9 1826.1 1112.5 1826.6 1112.2 1827.1 1111.2 1827.6 1112.2 1828.1 1111.8 1828.6 1112.2 1829.1 1112.5 1829.6 1111.6 1830.1 1112.1 1830.6 1112.4 1831.1 1112.1 1831.6 1111.8 1832.1 1111.4 1832.6 1111.6 1833.1 1111.3 1833.6 1112.4 1834.1 1112.0 1834.6 1111.3 1835.1 1111.9 1835.6 1111.3 1836.1 1110.3 1836.6 1112.5 1837.1 1112.5 1837.6 1111.2 1838.1 1111.5 1838.6 1112.0 1839.1 1111.7 1839.6 1111.4 1840.1 1111.6 1840.6 1111.7 1841.1 1111.6 1841.6 1111.9 1842.1 1111.7 1842.6 1111.4 1843.1 1111.8 1843.6 1111.0 1844.1 1112.5 1844.6 1110.9 1845.1 1111.7 1845.6 1111.9 1846.1 1112.0 1846.6 1111.9 1847.1 1112.4 1847.6 1111.2 1848.1 1111.7 1848.6 1111.8 1849.1 1111.5 1849.6 1111.4 1850.1 1112.3 1850.6 1111.3 1851.1 1111.4 1851.6 1111.5 1852.1 1111.5 1852.6 1111.7 1853.1 1111.5 1853.6 1111.8 1854.1 1111.6 1854.6 1111.8 1855.1 1112.2 1855.6 1111.1 1856.1 1112.3 1856.6 1111.3 1857.1 1111.8 1857.6 1111.5 1858.1 1111.3 1858.6 1110.4 1859.1 1112.1 1859.6 1110.9 1860.1 1110.9 1860.6 1111.8 1861.1 1111.2 1861.6 1112.1 1862.1 1111.9 1862.6 1111.4 1863.1 1111.1 1863.6 1111.3 1864.1 1110.2 1864.6 1110.8 1865.1 1110.7 1865.6 1110.3 1866.1 1110.5 1866.6 1109.5 1867.1 1110.5 1867.6 1110.5 1868.1 1109.0 1868.6 1109.4 1869.1 1109.8 1869.6 1108.8 1870.1 1107.6 1870.6 1107.1 1871.1 1107.3 1871.6 1107.0 1872.1 1104.7 1872.6 1104.4 1873.1 1103.2 1873.6 1102.8 1874.1 1102.8 1874.6 1102.7 1875.1 1102.9 1875.6 1105.0 1876.1 1104.7 1876.6 1105.5 1877.1 1106.9 1877.6 1107.1 1878.1 1107.5 1878.6 1108.6 1879.1 1108.0 1879.6 1109.2 1880.1 1109.5 1880.6 1109.6 1881.1 1109.3 1881.6 1109.5 1882.1 1108.7 1882.6 1109.6 1883.1 1109.8 1883.6 1110.1 1884.1 1109.7 1884.6 1109.5 1885.1 1109.2 1885.6 1109.5 1886.1 1109.5 1886.6 1109.9 1887.1 1109.1 1887.6 1108.7 1888.1 1108.6 1888.6 1108.2 1889.1 1108.0 1889.6 1106.6 1890.1 1106.4 1890.6 1106.0 1891.1 1106.0 1891.6 1104.9 1892.1 1103.9 1892.6 1103.2 1893.1 1100.7 1893.6 1100.3 1894.1 1098.5 1894.6 1096.7 1895.1 1097.1 1895.6 1095.6 1896.1 1096.3 1896.6 1097.9 1897.1 1099.7 1897.6 1100.9 1898.1 1101.3 1898.6 1103.5 1899.1 1104.7 1899.6 1107.0 1900.1 1107.2 1900.6 1107.2 1901.1 1107.1 1901.6 1108.3 1902.1 1107.9 1902.6 1108.9 1903.1 1109.3 1903.6 1109.1 1904.1 1109.6 1904.6 1109.5 1905.1 1109.5 1905.6 1110.7 1906.1 1110.3 1906.6 1110.0 1907.1 1109.9 1907.6 1110.4 1908.1 1110.7 1908.6 1110.9 1909.1 1111.2 1909.6 1110.8 1910.1 1110.0 1910.6 1111.6 1911.1 1111.2 1911.6 1111.1 1912.1 1111.4 1912.6 1110.0 1913.1 1110.6 1913.6 1110.5 1914.1 1111.4 1914.6 1110.2 1915.1 1110.7 1915.6 1111.6 1916.1 1111.2 1916.6 1110.7 1917.1 1111.8 1917.6 1110.2 1918.1 1111.1 1918.6 1110.8 1919.1 1111.1 1919.6 1110.7 1920.1 1110.5 1920.6 1111.0 1921.1 1110.2 1921.6 1111.1 1922.1 1110.7 1922.6 1111.3 1923.1 1110.7 1923.6 1110.5 1924.1 1111.1 1924.6 1111.5 1925.1 1109.8 1925.6 1110.9 1926.1 1111.1 1926.6 1110.1 1927.1 1110.3 1927.6 1111.1 1928.1 1110.3 1928.6 1110.4 1929.1 1111.5 1929.6 1110.2 1930.1 1110.2 1930.6 1109.4 1931.1 1109.9 1931.6 1109.8 1932.1 1111.2 1932.6 1110.9 1933.1 1109.6 1933.6 1111.1 1934.1 1110.5 1934.6 1110.0 1935.1 1110.4 1935.6 1110.2 1936.1 1109.6 1936.6 1109.2 1937.1 1109.6 1937.6 1110.1 1938.1 1110.0 1938.6 1109.8 1939.1 1110.7 1939.6 1109.8 1940.1 1110.8 1940.6 1110.2 1941.1 1110.5 1941.6 1110.0 1942.1 1110.6 1942.6 1110.2 1943.1 1109.8 1943.6 1110.6 1944.1 1110.6 1944.6 1111.1 1945.1 1110.8 1945.6 1110.2 1946.1 1110.4 1946.6 1109.5 1947.1 1110.2 1947.6 1111.4 1948.1 1111.5 1948.6 1111.1 1949.1 1110.9 1949.6 1111.0 1950.1 1111.0 1950.6 1109.9 1951.1 1110.3 1951.6 1111.3 1952.1 1111.3 1952.6 1110.9 1953.1 1110.6 1953.6 1110.6 1954.1 1110.5 1954.6 1110.3 1955.1 1109.8 1955.6 1110.8 1956.1 1110.5 1956.6 1110.6 1957.1 1111.6 1957.6 1111.0 1958.1 1110.4 1958.6 1111.0 1959.1 1110.0 1959.6 1111.2 1960.1 1110.8 1960.6 1110.6 1961.1 1111.0 1961.6 1111.4 1962.1 1110.5 1962.6 1110.2 1963.1 1111.7 1963.6 1110.7 1964.1 1111.4 1964.6 1110.3 1965.1 1110.8 1965.6 1110.3 1966.1 1111.0 1966.6 1110.5 1967.1 1110.3 1967.6 1111.4 1968.1 1110.8 1968.6 1109.6 1969.1 1110.5 1969.6 1110.2 1970.1 1110.0 1970.6 1110.3 1971.1 1110.4 1971.6 1110.6 1972.1 1110.2 1972.6 1109.7 1973.1 1110.3 1973.6 1111.0 1974.1 1109.9 1974.6 1110.9 1975.1 1110.8 1975.6 1110.3 1976.1 1110.7 1976.6 1110.2 1977.1 1110.3 1977.6 1110.0 1978.1 1110.8 1978.6 1111.2 1979.1 1110.2 1979.6 1111.1 1980.1 1109.4 1980.6 1110.1 1981.1 1110.0 1981.6 1111.3 1982.1 1110.2 1982.6 1110.8 1983.1 1109.4 1983.6 1110.5 1984.1 1110.7 1984.6 1110.4 1985.1 1109.1 1985.6 1110.5 1986.1 1110.8 1986.6 1111.1 1987.1 1110.6 1987.6 1109.5 1988.1 1110.3 1988.6 1110.8 1989.1 1109.9 1989.6 1110.6 1990.1 1110.1 1990.6 1110.3 1991.1 1110.7 1991.6 1109.9 1992.1 1111.7 1992.6 1110.3 1993.1 1110.4 1993.6 1109.8 1994.1 1110.2 1994.6 1110.0 1995.1 1109.3 1995.6 1109.3 1996.1 1110.1 1996.6 1109.9 1997.1 1108.6 1997.6 1108.7 1998.1 1109.6 1998.6 1109.6 1999.1 1109.9 1999.6 1108.8 2000.1 1109.6 2000.6 1109.0 2001.1 1108.8 2001.6 1108.8 2002.1 1109.2 2002.6 1108.7 2003.1 1108.7 2003.6 1107.6 2004.1 1107.6 2004.6 1106.9 2005.1 1107.0 2005.6 1106.9 2006.1 1106.7 2006.6 1107.2 2007.1 1107.0 2007.6 1107.2 2008.1 1107.0 2008.6 1107.6 2009.1 1107.4 2009.6 1108.0 2010.1 1108.0 2010.6 1108.4 2011.1 1108.2 2011.6 1107.8 2012.1 1107.9 2012.6 1109.8 2013.1 1109.2 2013.6 1109.4 2014.1 1109.2 2014.6 1109.1 2015.1 1110.9 2015.6 1109.0 2016.1 1109.6 2016.6 1109.6 2017.1 1109.1 2017.6 1109.1 2018.1 1109.4 2018.6 1109.7 2019.1 1109.6 2019.6 1110.3 2020.1 1109.3 2020.6 1110.1 2021.1 1110.7 2021.6 1110.4 2022.1 1109.4 2022.6 1108.5 2023.1 1110.4 2023.6 1110.2 2024.1 1109.7 2024.6 1110.6 2025.1 1109.8"/>
<path class="c" stroke="#000000" d="M157.1 1358.5L157.6 1357.9 158.1 1358.6 158.6 1358.3 159.1 1358.2 159.6 1359.0 160.1 1358.6 160.6 1357.8 161.1 1358.9 161.6 1359.0 162.1 1358.2 162.6 1358.4 163.1 1358.6 163.6 1358.5 164.1 1358.7 164.6 1359.0 165.1 1358.4 165.6 1359.7 166.1 1358.3 166.6 1358.4 167.1 1359.7 167.6 1359.9 168.1 1358.8 168.6 1358.7 169.1 1358.3 169.6 1359.4 170.1 1358.9 170.6 1358.4 171.1 1359.1 171.6 1359.6 172.1 1359.2 172.6 1360.0 173.1 1359.5 173.6 1359.1 174.1 1358.9 174.6 1359.2 175.1 1359.6 175.6 1359.4 176.1 1359.5 176.6 1359.1 177.1 1359.4 177.6 1359.7 178.1 1359.0 178.6 1358.4 179.1 1360.0 179.6 1359.4 180.1 1358.9 180.6 1359.3 181.1 1359.0 181.6 1358.3 182.1 1359.1 182.6 1358.5 183.1 1359.3 183.6 1359.2 184.1 1359.8 184.6 1359.2 185.1 1359.5 185.6 1359.1 186.1 1359.1 186.6 1358.6 187.1 1359.8 187.6 1359.4 188.1 1359.1 188.6 1359.5 189.1 1359.2 189.6 1359.0 190.1 1359.5 190.6 1360.0 191.1 1359.3 191.6 1358.8 192.1 1359.2 192.6 1360.4 193.1 1359.1 193.6 1360.1 194.1 1359.4 194.6 1359.9 195.1 1359.5 195.6 1358.8 196.1 1359.4 196.6 1360.7 197.1 1359.6 197.6 1359.9 198.1 1359.5 198.6 1359.6 199.1 1359.9 199.6 1359.9 200.1 1360.8 200.6 1359.7 201.1 1359.7 201.6 1359.4 202.1 1359.1 202.6 1359.0 203.1 1360.1 203.6 1358.9 204.1 1360.5 204.6 1360.3 205.1 1359.7 205.6 1359.3 206.1 1359.9 206.6 1359.9 207.1 1360.5 207.6 1359.6 208.1 1359.8 208.6 1359.9 209.1 1359.8 209.6 1359.7 210.1 1359.2 210.6 1359.2 211.1 1359.7 211.6 1359.9 212.1 1360.6 212.6 1361.2 213.1 1361.0 213.6 1360.3 214.1 1361.1 214.6 1360.1 215.1 1359.9 215.6 1361.3 216.1 1359.7 216.6 1360.0 217.1 1360.1 217.6 1361.0 218.1 1359.9 218.6 1360.6 219.1 1360.1 219.6 1359.7 220.1 1360.4 220.6 1360.4 221.1 1359.7 221.6 1359.9 222.1 1360.0 222.6 1360.9 223.1 1360.6 223.6 1360.5 224.1 1360.7 224.6 1360.2 225.1 1360.7 225.6 1360.1 226.1 1359.8 226.6 1360.1 227.1 1360.6 227.6 1360.6 228.1 1361.0 228.6 1359.7 229.1 1360.4 229.6 1360.8 230.1 1360.1 230.6 1360.7 231.1 1360.4 231.6 1360.0 232.1 1361.2 232.6 1359.9 233.1 1361.2 233.6 1360.5 234.1 1360.2 234.6 1360.2 235.1 1360.3 235.6 1360.3 236.1 1360.9 236.6 1359.8 237.1 1361.4 237.6 1361.2 238.1 1361.5 238.6 1360.3 239.1 1359.6 239.6 1360.5 240.1 1360.7 240.6 1361.0 241.1 1360.6 241.6 1360.8 242.1 1360.9 242.6 1360.1 243.1 1361.8 243.6 1360.3 244.1 1361.0 244.6 1361.5 245.1 1360.5 245.6 1360.9 246.1 1361.8 246.6 1360.8 247.1 1361.5 247.6 1361.1 248.1 1361.1 248.6 1361.4 249.1 1360.9 249.6 1360.9 250.1 1361.5 250.6 1361.2 251.1 1361.3 251.6 1360.4 252.1 1361.1 252.6 1361.7 253.1 1361.5 253.6 1361.2 254.1 1360.8 254.6 1360.8 255.1 1361.3 255.6 1361.8 256.1 1361.1 256.6 1361.7 257.1 1360.9 257.6 1361.6 258.1 1360.5 258.6 1361.1 259.1 1360.5 259.6 1361.3 260.1 1361.3 260.6 1360.5 261.1 1360.6 261.6 1360.7 262.1 1360.2 262.6 1360.4 263.1 1360.4 263.6 1361.2 264.1 1361.4 264.6 1360.5 265.1 1360.5 265.6 1360.7 266.1 1360.3 266.6 1360.3 267.1 1360.8 267.6 1360.4 268.1 1360.1 268.6 1359.7 269.1 1360.6 269.6 1359.4 270.1 1359.5 270.6 1358.7 271.1 1358.7 271.6 1358.8 272.1 1358.2 272.6 1358.3 273.1 1357.6 273.6 1356.4 274.1 1355.4 274.6 1356.4 275.1 1354.9 275.6 1355.2 276.1 1353.6 276.6 1352.4 277.1 1352.2 277.6 1350.9 278.1 1350.2 278.6 1348.9 279.1 1349.0 279.6 1348.7 280.1 1347.5 280.6 1348.4 281.1 1347.1 281.6 1347.4 282.1 1346.4 282.6 1346.1 283.1 1347.9 283.6 1347.3 284.1 1346.8 284.6 1344.9 285.1 1345.3 285.6 1344.8 286.1 1344.1 286.6 1343.8 287.1 1342.9 287.6 1343.2 288.1 1342.9 288.6 1343.8 289.1 1344.9 289.6 1345.2 290.1 1346.6 290.6 1347.8 291.1 1349.3 291.6 1351.0 292.1 1351.8 292.6 1353.1 293.1 1353.2 293.6 1354.7 294.1 1356.1 294.6 1356.1 295.1 1356.9 295.6 1357.3 296.1 1358.9 296.6 1358.5 297.1 1358.8 297.6 1359.8 298.1 1360.3 298.6 1360.3 299.1 1360.8 299.6 1360.7 300.1 1360.7 300.6 1360.7 301.1 1360.8 301.6 1360.9 302.1 1361.5 302.6 1361.3 303.1 1361.5 303.6 1361.8 304.1 1361.6 304.6 1361.0 305.1 1361.3 305.6 1361.2 306.1 1360.9 306.6 1361.9 307.1 1361.3 307.6 1361.3 308.1 1361.5 308.6 1362.5 309.1 1361.9 309.6 1362.6 310.1 1362.1 310.6 1361.9 311.1 1362.4 311.6 1362.5 312.1 1362.2 312.6 1361.7 313.1 1362.0 313.6 1361.6 314.1 1362.1 314.6 1362.3 315.1 1363.0 315.6 1363.0 316.1 1362.6 316.6 1362.7 317.1 1362.4 317.6 1363.7 318.1 1363.0 318.6 1363.6 319.1 1362.5 319.6 1362.5 320.1 1362.8 320.6 1362.4 321.1 1362.5 321.6 1361.8 322.1 1362.8 322.6 1362.4 323.1 1362.7 323.6 1362.2 324.1 1361.4 324.6 1362.5 325.1 1362.9 325.6 1361.7 326.1 1361.8 326.6 1362.1 327.1 1362.2 327.6 1361.4 328.1 1363.2 328.6 1362.8 329.1 1362.0 329.6 1361.4 330.1 1362.5 330.6 1363.3 331.1 1362.7 331.6 1362.8 332.1 1361.8 332.6 1362.4 333.1 1361.5 333.6 1363.2 334.1 1362.5 334.6 1361.2 335.1 1361.3 335.6 1362.5 336.1 1362.3 336.6 1362.1 337.1 1362.5 337.6 1363.2 338.1 1362.4 338.6 1361.3 339.1 1362.1 339.6 1361.5 340.1 1361.8 340.6 1362.3 341.1 1362.1 341.6 1361.6 342.1 1362.1 342.6 1361.7 343.1 1362.4 343.6 1362.0 344.1 1362.3 344.6 1362.0 345.1 1362.5 345.6 1362.0 346.1 1362.1 346.6 1361.8 347.1 1362.1 347.6 1361.2 348.1 1363.4 348.6 1361.7 349.1 1362.1 349.6 1361.8 350.1 1361.7 350.6 1362.2 351.1 1361.7 351.6 1361.7 352.1 1361.2 352.6 1361.5 353.1 1361.3 353.6 1362.8 354.1 1361.2 354.6 1361.3 355.1 1361.9 355.6 1362.5 356.1 1360.9 356.6 1361.0 357.1 1361.8 357.6 1361.9 358.1 1361.0 358.6 1360.7 359.1 1361.1 359.6 1361.9 360.1 1361.5 360.6 1361.9 361.1 1361.4 361.6 1361.4 362.1 1361.6 362.6 1361.2 363.1 1361.3 363.6 1360.7 364.1 1360.7 364.6 1361.1 365.1 1360.7 365.6 1360.3 366.1 1360.8 366.6 1360.6 367.1 1360.1 367.6 1359.5 368.1 1360.1 368.6 1360.5 369.1 1358.5 369.6 1357.7 370.1 1357.5 370.6 1356.7 371.1 1355.8 371.6 1354.8 372.1 1354.6 372.6 1353.0 373.1 1351.3 373.6 1348.4 374.1 1344.6 374.6 1341.5 375.1 1336.2 375.6 1331.6 376.1 1326.9 376.6 1325.5 377.1 1325.1 377.6 1326.6 378.1 1330.6 378.6 1335.5 379.1 1340.1 379.6 1344.5 380.1 1347.4 380.6 1350.2 381.1 1351.3 381.6 1353.6 382.1 1354.1 382.6 1357.0 383.1 1357.6 383.6 1358.0 384.1 1358.7 384.6 1359.6 385.1 1359.5 385.6 1358.5 386.1 1359.5 386.6 1358.7 387.1 1359.6 387.6 1359.6 388.1 1360.4 388.6 1360.7 389.1 1360.1 389.6 1360.5 390.1 1360.9 390.6 1360.8 391.1 1360.8 391.6 1359.8 392.1 1360.8 392.6 1361.4 393.1 1361.2 393.6 1360.4 394.1 1361.0 394.6 1361.3 395.1 1360.7 395.6 1361.6 396.1 1360.8 396.6 1361.1 397.1 1361.2 397.6 1362.4 398.1 1361.1 398.6 1361.0 399.1 1361.7 399.6 1361.1 400.1 1361.4 400.6 1360.2 401.1 1361.5 401.6 1361.3 402.1 1360.7 402.6 1362.0 403.1 1361.2 403.6 1361.2 404.1 1360.7 404.6 1360.5 405.1 1361.0 405.6 1360.6 406.1 1361.6 406.6 1361.8 407.1 1361.0 407.6 1360.5 408.1 1361.1 408.6 1360.8 409.1 1361.4 409.6 1361.4 410.1 1361.1 410.6 1361.3 411.1 1361.8 411.6 1362.1 412.1 1361.0 412.6 1361.6 413.1 1361.1 413.6 1360.7 414.1 1361.9 414.6 1361.4 415.1 1361.3 415.6 1361.4 416.1 1361.1 416.6 1360.7 417.1 1362.1 417.6 1361.6 418.1 1361.3 418.6 1361.6 419.1 1361.8 419.6 1361.0 420.1 1361.4 420.6 1361.0 421.1 1361.4 421.6 1361.0 422.1 1362.3 422.6 1360.9 423.1 1361.3 423.6 1361.3 424.1 1360.9 424.6 1361.5 425.1 1361.0 425.6 1360.8 426.1 1361.0 426.6 1360.6 427.1 1361.5 427.6 1361.2 428.1 1361.4 428.6 1360.2 429.1 1361.0 429.6 1360.5 430.1 1360.9 430.6 1361.5 431.1 1360.9 431.6 1360.7 432.1 1361.3 432.6 1361.2 433.1 1361.6 433.6 1359.8 434.1 1360.8 434.6 1360.4 435.1 1360.2 435.6 1360.6 436.1 1360.0 436.6 1359.4 437.1 1360.0 437.6 1360.3 438.1 1361.4 438.6 1360.0 439.1 1359.8 439.6 1359.3 440.1 1360.1 440.6 1360.1 441.1 1360.2 441.6 1359.4 442.1 1359.7 442.6 1358.9 443.1 1360.0 443.6 1359.1 444.1 1358.5 444.6 1360.3 445.1 1359.9 445.6 1359.8 446.1 1359.7 446.6 1358.9 447.1 1359.9 447.6 1358.7 448.1 1360.0 448.6 1359.0 449.1 1357.9 449.6 1359.0 450.1 1359.4 450.6 1358.1 451.1 1358.5 451.6 1357.6 452.1 1357.0 452.6 1355.7 453.1 1357.2 453.6 1356.0 454.1 1355.9 454.6 1354.5 455.1 1354.0 455.6 1354.3 456.1 1352.7 456.6 1351.8 457.1 1350.2 457.6 1349.7 458.1 1348.6 458.6 1346.3 459.1 1344.5 459.6 1341.8 460.1 1340.4 460.6 1336.3 461.1 1332.8 461.6 1329.3 462.1 1323.0 462.6 1315.8 463.1 1308.4 463.6 1299.6 464.1 1290.2 464.6 1278.0 465.1 1266.4 465.6 1257.0 466.1 1250.5 466.6 1247.3 467.1 1250.8 467.6 1256.4 468.1 1263.9 468.6 1270.4 469.1 1278.7 469.6 1285.0 470.1 1288.4 470.6 1292.4 471.1 1292.6 471.6 1292.2 472.1 1292.0 472.6 1289.8 473.1 1286.9 473.6 1282.0 474.1 1277.4 474.6 1270.0 475.1 1263.2 475.6 1255.3 476.1 1249.4 476.6 1246.0 477.1 1244.7 477.6 1247.2 478.1 1252.1 478.6 1258.5 479.1 1265.1 479.6 1270.8 480.1 1275.8 480.6 1279.2 481.1 1281.6 481.6 1282.8 482.1 1284.3 482.6 1284.0 483.1 1282.5 483.6 1282.5 484.1 1278.2 484.6 1276.2 485.1 1273.0 485.6 1269.4 486.1 1268.5 486.6 1266.3 487.1 1266.9 487.6 1271.2 488.1 1274.8 488.6 1280.8 489.1 1288.2 489.6 1295.7 490.1 1303.2 490.6 1310.0 491.1 1315.1 491.6 1321.3 492.1 1326.9 492.6 1329.5 493.1 1333.3 493.6 1336.8 494.1 1339.7 494.6 1341.1 495.1 1343.0 495.6 1344.9 496.1 1347.5 496.6 1348.9 497.1 1348.6 497.6 1349.8 498.1 1351.3 498.6 1352.1 499.1 1353.9 499.6 1354.5 500.1 1356.1 500.6 1356.1 501.1 1356.3 501.6 1357.3 502.1 1356.6 502.6 1356.8 503.1 1357.8 503.6 1358.6 504.1 1357.5 504.6 1359.0 505.1 1359.2 505.6 1358.7 506.1 1359.2 506.6 1359.1 507.1 1359.5 507.6 1359.9 508.1 1359.2 508.6 1360.2 509.1 1360.2 509.6 1360.3 510.1 1358.9 510.6 1359.0 511.1 1360.4 511.6 1359.8 512.1 1359.8 512.6 1359.8 513.1 1359.5 513.6 1360.1 514.1 1359.9 514.6 1359.9 515.1 1360.5 515.6 1359.7 516.1 1360.9 516.6 1359.2 517.1 1361.6 517.6 1359.7 518.1 1360.7 518.6 1360.9 519.1 1360.4 519.6 1360.8 520.1 1360.4 520.6 1359.5 521.1 1360.6 521.6 1361.0 522.1 1360.2 522.6 1359.6 523.1 1360.1 523.6 1360.6 524.1 1360.6 524.6 1361.0 525.1 1360.7 525.6 1360.7 526.1 1359.4 526.6 1361.5 527.1 1360.4 527.6 1360.8 528.1 1360.2 528.6 1360.3 529.1 1360.4 529.6 1361.1 530.1 1361.1 530.6 1360.6 531.1 1361.3 531.6 1360.1 532.1 1360.5 532.6 1360.0 533.1 1360.9 533.6 1360.2 534.1 1360.7 534.6 1361.0 535.1 1359.0 535.6 1361.2 536.1 1360.2 536.6 1359.8 537.1 1359.0 537.6 1359.7 538.1 1358.7 538.6 1359.9 539.1 1359.7 539.6 1360.6 540.1 1359.5 540.6 1360.1 541.1 1360.1 541.6 1360.5 542.1 1359.2 542.6 1359.7 543.1 1358.4 543.6 1358.5 544.1 1358.8 544.6 1358.9 545.1 1358.1 545.6 1358.4 546.1 1358.8 546.6 1358.1 547.1 1358.1 547.6 1357.5 548.1 1358.5 548.6 1358.5 549.1 1357.4 549.6 1357.0 550.1 1357.6 550.6 1356.6 551.1 1355.7 551.6 1354.9 552.1 1354.8 552.6 1355.7 553.1 1353.7 553.6 1354.8 554.1 1352.5 554.6 1351.5 555.1 1351.3 555.6 1349.3 556.1 1348.3 556.6 1346.0 557.1 1344.0 557.6 1342.1 558.1 1340.0 558.6 1336.5 559.1 1332.1 559.6 1328.8 560.1 1322.9 560.6 1315.9 561.1 1307.0 561.6 1295.2 562.1 1283.3 562.6 1264.9 563.1 1244.3 563.6 1220.3 564.1 1194.3 564.6 1170.7 565.1 1155.7 565.6 1153.6 566.1 1164.7 566.6 1184.6 567.1 1207.8 567.6 1231.0 568.1 1250.4 568.6 1266.0 569.1 1277.1 569.6 1285.4 570.1 1289.5 570.6 1291.7 571.1 1290.5 571.6 1286.6 572.1 1279.9 572.6 1270.4 573.1 1257.1 573.6 1239.7 574.1 1217.9 574.6 1195.0 575.1 1174.8 575.6 1163.3 576.1 1162.3 576.6 1174.1 577.1 1195.8 577.6 1219.3 578.1 1244.0 578.6 1264.8 579.1 1282.1 579.6 1295.5 580.1 1307.6 580.6 1316.7 581.1 1322.1 581.6 1328.4 582.1 1333.2 582.6 1337.7 583.1 1339.4 583.6 1341.7 584.1 1344.3 584.6 1347.1 585.1 1347.7 585.6 1349.1 586.1 1351.0 586.6 1350.0 587.1 1350.9 587.6 1353.2 588.1 1353.8 588.6 1353.3 589.1 1354.7 589.6 1354.9 590.1 1355.4 590.6 1355.3 591.1 1355.8 591.6 1355.8 592.1 1356.6 592.6 1356.7 593.1 1357.9 593.6 1357.5 594.1 1356.6 594.6 1357.7 595.1 1358.4 595.6 1358.0 596.1 1358.5 596.6 1358.0 597.1 1358.5 597.6 1357.8 598.1 1358.7 598.6 1357.7 599.1 1359.2 599.6 1357.8 600.1 1357.6 600.6 1359.0 601.1 1358.7 601.6 1358.9 602.1 1359.1 602.6 1358.9 603.1 1358.5 603.6 1359.1 604.1 1359.2 604.6 1359.3 605.1 1360.1 605.6 1358.8 606.1 1359.2 606.6 1359.5 607.1 1359.0 607.6 1358.6 608.1 1359.0 608.6 1359.8 609.1 1359.2 609.6 1359.6 610.1 1359.0 610.6 1359.6 611.1 1359.0 611.6 1358.9 612.1 1359.4 612.6 1359.4 613.1 1360.2 613.6 1358.6 614.1 1359.7 614.6 1360.3 615.1 1360.1 615.6 1359.2 616.1 1359.1 616.6 1359.2 617.1 1359.6 617.6 1359.5 618.1 1359.6 618.6 1359.8 619.1 1358.9 619.6 1358.9 620.1 1358.8 620.6 1358.8 621.1 1359.4 621.6 1359.6 622.1 1360.7 622.6 1359.7 623.1 1359.5 623.6 1360.2 624.1 1359.1 624.6 1359.6 625.1 1359.9 625.6 1359.8 626.1 1359.6 626.6 1359.2 627.1 1358.8 627.6 1359.3 628.1 1359.1 628.6 1359.7 629.1 1359.3 629.6 1359.7 630.1 1358.5 630.6 1359.8 631.1 1358.9 631.6 1358.5 632.1 1358.6 632.6 1359.0 633.1 1359.9 633.6 1359.6 634.1 1358.7 634.6 1359.3 635.1 1359.2 635.6 1358.4 636.1 1358.7 636.6 1358.1 637.1 1358.7 637.6 1357.8 638.1 1358.7 638.6 1358.6 639.1 1358.7 639.6 1358.7 640.1 1359.7 640.6 1358.9 641.1 1359.1 641.6 1359.4 642.1 1359.4 642.6 1359.3 643.1 1358.6 643.6 1358.3 644.1 1358.4 644.6 1358.6 645.1 1358.8 645.6 1358.7 646.1 1359.3 646.6 1358.6 647.1 1359.5 647.6 1359.1 648.1 1358.3 648.6 1358.9 649.1 1356.9 649.6 1359.0 650.1 1358.5 650.6 1358.4 651.1 1357.2 651.6 1359.3 652.1 1357.8 652.6 1357.7 653.1 1358.3 653.6 1357.4 654.1 1357.0 654.6 1357.6 655.1 1356.5 655.6 1357.2 656.1 1356.7 656.6 1356.9 657.1 1355.4 657.6 1356.3 658.1 1355.4 658.6 1355.7 659.1 1353.8 659.6 1354.4 660.1 1353.0 660.6 1352.2 661.1 1350.3 661.6 1349.6 662.1 1348.0 662.6 1345.2 663.1 1342.5 663.6 1339.5 664.1 1336.7 664.6 1330.9 665.1 1324.8 665.6 1316.3 666.1 1306.4 666.6 1295.3 667.1 1283.7 667.6 1275.5 668.1 1270.6 668.6 1272.5 669.1 1279.2 669.6 1290.7 670.1 1301.6 670.6 1312.1 671.1 1321.7 671.6 1327.7 672.1 1333.8 672.6 1338.6 673.1 1342.3 673.6 1344.2 674.1 1346.8 674.6 1348.6 675.1 1349.3 675.6 1349.9 676.1 1351.0 676.6 1353.2 677.1 1353.6 677.6 1353.4 678.1 1354.3 678.6 1354.9 679.1 1355.2 679.6 1355.7 680.1 1357.1 680.6 1355.9 681.1 1356.5 681.6 1356.2 682.1 1356.5 682.6 1356.5 683.1 1356.9 683.6 1356.9 684.1 1357.4 684.6 1357.5 685.1 1357.0 685.6 1358.5 686.1 1356.9 686.6 1357.8 687.1 1358.8 687.6 1357.3 688.1 1358.4 688.6 1358.5 689.1 1358.0 689.6 1356.9 690.1 1358.6 690.6 1357.9 691.1 1357.6 691.6 1358.6 692.1 1357.5 692.6 1358.5 693.1 1357.7 693.6 1358.2 694.1 1357.4 694.6 1357.8 695.1 1357.5 695.6 1357.6 696.1 1358.1 696.6 1357.9 697.1 1358.1 697.6 1358.6 698.1 1357.9 698.6 1357.0 699.1 1357.8 699.6 1358.0 700.1 1358.5 700.6 1358.5 701.1 1358.5 701.6 1357.9 702.1 1358.3 702.6 1357.2 703.1 1358.6 703.6 1358.2 704.1 1358.2 704.6 1357.8 705.1 1358.0 705.6 1357.6 706.1 1358.2 706.6 1357.2 707.1 1358.4 707.6 1358.2 708.1 1358.9 708.6 1357.9 709.1 1357.8 709.6 1358.0 710.1 1357.9 710.6 1357.8 711.1 1357.3 711.6 1357.3 712.1 1357.5 712.6 1357.7 713.1 1357.2 713.6 1357.2 714.1 1357.6 714.6 1358.1 715.1 1357.6 715.6 1358.1 716.1 1358.2 716.6 1358.1 717.1 1357.5 717.6 1357.5 718.1 1356.7 718.6 1357.3 719.1 1357.9 719.6 1357.0 720.1 1358.3 720.6 1358.3 721.1 1357.4 721.6 1358.0 722.1 1356.8 722.6 1357.0 723.1 1357.3 723.6 1357.5 724.1 1357.3 724.6 1357.0 725.1 1358.4 725.6 1357.5 726.1 1357.5 726.6 1357.7 727.1 1357.4 727.6 1357.1 728.1 1356.9 728.6 1356.4 729.1 1357.9 729.6 1356.7 730.1 1356.3 730.6 1356.7 731.1 1356.2 731.6 1358.0 732.1 1357.2 732.6 1357.6 733.1 1357.6 733.6 1357.1 734.1 1357.1 734.6 1356.4 735.1 1356.6 735.6 1356.3 736.1 1356.6 736.6 1356.2 737.1 1357.1 737.6 1356.8 738.1 1356.2 738.6 1355.4 739.1 1356.5 739.6 1356.5 740.1 1355.9 740.6 1355.2 741.1 1355.9 741.6 1356.1 742.1 1354.4 742.6 1355.6 743.1 1354.2 743.6 1354.9 744.1 1355.6 744.6 1354.5 745.1 1354.4 745.6 1353.7 746.1 1353.5 746.6 1354.2 747.1 1353.3 747.6 1351.9 748.1 1351.2 748.6 1350.7 749.1 1350.9 749.6 1348.9 750.1 1348.2 750.6 1346.1 751.1 1343.9 751.6 1343.2 752.1 1340.0 752.6 1336.6 753.1 1332.8 753.6 1328.0 754.1 1322.0 754.6 1313.7 755.1 1305.3 755.6 1292.6 756.1 1278.2 756.6 1261.2 757.1 1245.6 757.6 1233.4 758.1 1229.4 758.6 1233.7 759.1 1245.5 759.6 1260.9 760.1 1277.0 760.6 1291.8 761.1 1304.1 761.6 1314.0 762.1 1321.4 762.6 1328.9 763.1 1332.9 763.6 1335.5 764.1 1339.0 764.6 1341.3 765.1 1344.1 765.6 1346.2 766.1 1346.5 766.6 1348.4 767.1 1348.9 767.6 1350.4 768.1 1351.2 768.6 1351.2 769.1 1351.8 769.6 1351.8 770.1 1351.9 770.6 1351.7 771.1 1352.6 771.6 1352.4 772.1 1352.2 772.6 1352.3 773.1 1352.0 773.6 1351.3 774.1 1351.2 774.6 1351.5 775.1 1350.3 775.6 1350.7 776.1 1349.1 776.6 1348.8 777.1 1349.6 777.6 1350.3 778.1 1350.1 778.6 1351.3 779.1 1352.1 779.6 1352.8 780.1 1352.7 780.6 1353.2 781.1 1352.8 781.6 1354.0 782.1 1354.3 782.6 1355.1 783.1 1353.9 783.6 1354.3 784.1 1354.3 784.6 1355.3 785.1 1353.6 785.6 1354.4 786.1 1356.0 786.6 1355.4 787.1 1354.4 787.6 1355.0 788.1 1355.5 788.6 1355.3 789.1 1354.9 789.6 1354.6 790.1 1355.4 790.6 1354.9 791.1 1355.3 791.6 1355.0 792.1 1354.5 792.6 1355.4 793.1 1354.3 793.6 1354.7 794.1 1354.1 794.6 1354.1 795.1 1354.0 795.6 1353.6 796.1 1353.9 796.6 1354.2 797.1 1354.3 797.6 1353.8 798.1 1352.6 798.6 1353.1 799.1 1352.1 799.6 1352.2 800.1 1350.1 800.6 1350.7 801.1 1348.8 801.6 1348.7 802.1 1346.7 802.6 1346.0 803.1 1343.8 803.6 1341.3 804.1 1339.9 804.6 1338.3 805.1 1336.7 805.6 1334.0 806.1 1333.4 806.6 1333.0 807.1 1333.3 807.6 1334.1 808.1 1334.8 808.6 1336.0 809.1 1338.6 809.6 1340.1 810.1 1342.5 810.6 1343.4 811.1 1345.4 811.6 1345.9 812.1 1347.6 812.6 1348.4 813.1 1349.3 813.6 1349.2 814.1 1350.2 814.6 1350.2 815.1 1350.9 815.6 1351.5 816.1 1352.9 816.6 1351.6 817.1 1352.1 817.6 1351.8 818.1 1352.4 818.6 1352.1 819.1 1352.3 819.6 1352.0 820.1 1352.9 820.6 1352.3 821.1 1350.6 821.6 1351.5 822.1 1351.2 822.6 1349.9 823.1 1350.3 823.6 1350.3 824.1 1349.8 824.6 1349.9 825.1 1348.5 825.6 1349.4 826.1 1348.9 826.6 1348.1 827.1 1347.1 827.6 1346.5 828.1 1345.4 828.6 1345.2 829.1 1343.7 829.6 1343.1 830.1 1340.4 830.6 1339.4 831.1 1336.2 831.6 1333.8 832.1 1330.3 832.6 1327.3 833.1 1322.5 833.6 1317.1 834.1 1310.5 834.6 1300.9 835.1 1289.9 835.6 1276.2 836.1 1258.3 836.6 1237.2 837.1 1214.2 837.6 1190.8 838.1 1171.7 838.6 1161.5 839.1 1162.5 839.6 1175.4 840.1 1194.0 840.6 1212.5 841.1 1229.7 841.6 1241.7 842.1 1250.0 842.6 1253.8 843.1 1251.3 843.6 1244.3 844.1 1234.2 844.6 1219.5 845.1 1203.3 845.6 1187.0 846.1 1178.2 846.6 1179.3 847.1 1189.3 847.6 1208.5 848.1 1227.6 848.6 1248.0 849.1 1264.8 849.6 1279.0 850.1 1290.3 850.6 1298.1 851.1 1303.8 851.6 1307.1 852.1 1307.3 852.6 1308.3 853.1 1305.4 853.6 1302.9 854.1 1298.8 854.6 1294.6 855.1 1292.7 855.6 1292.3 856.1 1297.2 856.6 1302.6 857.1 1310.0 857.6 1316.9 858.1 1323.2 858.6 1328.0 859.1 1333.3 859.6 1335.2 860.1 1338.7 860.6 1340.7 861.1 1342.3 861.6 1344.1 862.1 1344.8 862.6 1346.6 863.1 1347.4 863.6 1347.8 864.1 1348.8 864.6 1348.5 865.1 1348.5 865.6 1349.6 866.1 1350.1 866.6 1351.8 867.1 1350.7 867.6 1351.6 868.1 1351.7 868.6 1352.6 869.1 1351.8 869.6 1352.2 870.1 1351.9 870.6 1351.7 871.1 1351.7 871.6 1351.9 872.1 1353.1 872.6 1352.6 873.1 1352.5 873.6 1352.6 874.1 1352.4 874.6 1352.7 875.1 1352.7 875.6 1353.1 876.1 1353.3 876.6 1352.0 877.1 1352.9 877.6 1353.5 878.1 1352.3 878.6 1352.7 879.1 1352.8 879.6 1353.2 880.1 1352.9 880.6 1352.4 881.1 1352.7 881.6 1352.8 882.1 1352.3 882.6 1352.8 883.1 1351.8 883.6 1350.8 884.1 1350.5 884.6 1350.4 885.1 1349.9 885.6 1349.7 886.1 1349.0 886.6 1349.0 887.1 1348.0 887.6 1347.7 888.1 1346.2 888.6 1346.1 889.1 1346.6 889.6 1346.4 890.1 1347.0 890.6 1347.4 891.1 1347.6 891.6 1349.4 892.1 1349.7 892.6 1349.0 893.1 1350.0 893.6 1350.8 894.1 1351.6 894.6 1351.6 895.1 1351.3 895.6 1352.6 896.1 1352.3 896.6 1353.2 897.1 1352.9 897.6 1353.4 898.1 1353.4 898.6 1353.5 899.1 1352.9 899.6 1353.8 900.1 1353.4 900.6 1352.8 901.1 1353.3 901.6 1353.3 902.1 1353.8 902.6 1353.9 903.1 1353.1 903.6 1354.0 904.1 1353.7 904.6 1353.2 905.1 1354.2 905.6 1353.4 906.1 1353.2 906.6 1354.2 907.1 1354.3 907.6 1353.5 908.1 1354.4 908.6 1354.4 909.1 1353.7 909.6 1354.9 910.1 1353.9 910.6 1354.1 911.1 1352.8 911.6 1354.3 912.1 1353.7 912.6 1354.2 913.1 1353.2 913.6 1354.6 914.1 1354.8 914.6 1355.0 915.1 1352.6 915.6 1354.4 916.1 1354.3 916.6 1352.6 917.1 1353.7 917.6 1354.1 918.1 1354.8 918.6 1353.7 919.1 1354.2 919.6 1354.1 920.1 1354.3 920.6 1354.0 921.1 1354.6 921.6 1354.6 922.1 1353.5 922.6 1354.7 923.1 1353.8 923.6 1354.0 924.1 1354.7 924.6 1354.2 925.1 1354.5 925.6 1354.6 926.1 1354.5 926.6 1353.9 927.1 1353.7 927.6 1354.6 928.1 1354.6 928.6 1354.4 929.1 1354.1 929.6 1354.7 930.1 1354.2 930.6 1353.5 931.1 1354.4 931.6 1354.5 932.1 1354.6 932.6 1353.8 933.1 1353.9 933.6 1354.4 934.1 1354.0 934.6 1354.2 935.1 1354.7 935.6 1354.4 936.1 1355.1 936.6 1354.4 937.1 1355.1 937.6 1354.7 938.1 1355.5 938.6 1354.2 939.1 1354.2 939.6 1354.8 940.1 1353.9 940.6 1353.9 941.1 1354.3 941.6 1354.3 942.1 1353.4 942.6 1354.2 943.1 1353.9 943.6 1354.0 944.1 1354.1 944.6 1353.9 945.1 1354.5 945.6 1354.1 946.1 1353.8 946.6 1353.8 947.1 1354.2 947.6 1354.0 948.1 1354.2 948.6 1353.4 949.1 1353.4 949.6 1354.1 950.1 1352.9 950.6 1353.6 951.1 1352.9 951.6 1351.9 952.1 1351.1 952.6 1351.7 953.1 1350.5 953.6 1350.0 954.1 1348.9 954.6 1349.7 955.1 1348.6 955.6 1348.0 956.1 1347.8 956.6 1347.4 957.1 1347.3 957.6 1347.7 958.1 1347.6 958.6 1346.9 959.1 1349.1 959.6 1349.6 960.1 1350.0 960.6 1351.3 961.1 1350.3 961.6 1350.1 962.1 1352.6 962.6 1352.4 963.1 1351.7 963.6 1352.5 964.1 1353.2 964.6 1352.5 965.1 1353.5 965.6 1354.4 966.1 1354.1 966.6 1353.5 967.1 1353.7 967.6 1353.1 968.1 1353.7 968.6 1353.5 969.1 1353.2 969.6 1353.0 970.1 1354.7 970.6 1353.8 971.1 1353.2 971.6 1353.5 972.1 1354.4 972.6 1354.5 973.1 1353.3 973.6 1353.7 974.1 1354.0 974.6 1353.3 975.1 1352.8 975.6 1352.9 976.1 1353.3 976.6 1352.8 977.1 1352.4 977.6 1352.8 978.1 1353.3 978.6 1353.0 979.1 1352.4 979.6 1353.2 980.1 1351.6 980.6 1351.7 981.1 1350.7 981.6 1351.4 982.1 1350.5 982.6 1349.2 983.1 1349.0 983.6 1349.5 984.1 1348.1 984.6 1346.7 985.1 1345.7 985.6 1342.8 986.1 1341.1 986.6 1338.3 987.1 1335.2 987.6 1331.1 988.1 1326.2 988.6 1319.7 989.1 1311.8 989.6 1304.0 990.1 1294.3 990.6 1288.9 991.1 1287.7 991.6 1290.3 992.1 1297.4 992.6 1306.3 993.1 1314.1 993.6 1322.2 994.1 1328.7 994.6 1332.4 995.1 1335.7 995.6 1339.9 996.1 1341.7 996.6 1344.2 997.1 1345.4 997.6 1346.9 998.1 1348.3 998.6 1349.0 999.1 1349.0 999.6 1349.2 1000.1 1349.0 1000.6 1349.5 1001.1 1350.5 1001.6 1351.1 1002.1 1350.9 1002.6 1351.1 1003.1 1350.7 1003.6 1350.7 1004.1 1350.7 1004.6 1351.8 1005.1 1350.4 1005.6 1351.6 1006.1 1350.7 1006.6 1351.1 1007.1 1350.7 1007.6 1350.5 1008.1 1350.3 1008.6 1348.7 1009.1 1347.9 1009.6 1347.3 1010.1 1346.0 1010.6 1345.4 1011.1 1343.5 1011.6 1341.7 1012.1 1339.9 1012.6 1337.2 1013.1 1335.8 1013.6 1332.2 1014.1 1331.5 1014.6 1330.5 1015.1 1329.4 1015.6 1329.6 1016.1 1331.0 1016.6 1331.2 1017.1 1331.1 1017.6 1331.9 1018.1 1333.1 1018.6 1331.7 1019.1 1331.8 1019.6 1330.4 1020.1 1328.0 1020.6 1326.8 1021.1 1324.9 1021.6 1324.6 1022.1 1324.8 1022.6 1326.7 1023.1 1327.8 1023.6 1331.0 1024.1 1333.9 1024.6 1336.9 1025.1 1338.2 1025.6 1340.7 1026.1 1343.1 1026.6 1345.1 1027.1 1346.7 1027.6 1347.9 1028.1 1349.8 1028.6 1349.9 1029.1 1350.6 1029.6 1350.6 1030.1 1351.7 1030.6 1352.0 1031.1 1352.3 1031.6 1352.2 1032.1 1352.9 1032.6 1353.5 1033.1 1352.5 1033.6 1352.0 1034.1 1353.6 1034.6 1353.7 1035.1 1353.3 1035.6 1353.3 1036.1 1355.0 1036.6 1353.5 1037.1 1353.1 1037.6 1353.6 1038.1 1354.1 1038.6 1353.6 1039.1 1353.7 1039.6 1354.1 1040.1 1353.7 1040.6 1354.0 1041.1 1353.9 1041.6 1353.4 1042.1 1354.0 1042.6 1353.4 1043.1 1354.4 1043.6 1353.4 1044.1 1353.7 1044.6 1352.9 1045.1 1353.5 1045.6 1353.1 1046.1 1354.4 1046.6 1353.5 1047.1 1353.7 1047.6 1352.5 1048.1 1352.7 1048.6 1353.1 1049.1 1352.3 1049.6 1353.4 1050.1 1352.5 1050.6 1352.5 1051.1 1352.4 1051.6 1351.9 1052.1 1352.0 1052.6 1351.0 1053.1 1351.1 1053.6 1351.1 1054.1 1350.2 1054.6 1349.7 1055.1 1349.0 1055.6 1348.7 1056.1 1348.5 1056.6 1347.6 1057.1 1346.4 1057.6 1346.9 1058.1 1346.5 1058.6 1346.6 1059.1 1346.2 1059.6 1347.0 1060.1 1345.7 1060.6 1346.0 1061.1 1347.2 1061.6 1346.7 1062.1 1347.8 1062.6 1348.2 1063.1 1347.7 1063.6 1349.5 1064.1 1350.4 1064.6 1350.3 1065.1 1349.9 1065.6 1351.4 1066.1 1350.9 1066.6 1351.7 1067.1 1352.3 1067.6 1352.0 1068.1 1351.8 1068.6 1352.8 1069.1 1353.1 1069.6 1352.8 1070.1 1353.0 1070.6 1353.9 1071.1 1353.7 1071.6 1353.6 1072.1 1353.6 1072.6 1354.1 1073.1 1354.2 1073.6 1354.1 1074.1 1353.6 1074.6 1354.2 1075.1 1354.1 1075.6 1354.5 1076.1 1355.1 1076.6 1355.0 1077.1 1354.9 1077.6 1354.7 1078.1 1354.5 1078.6 1354.9 1079.1 1354.5 1079.6 1354.6 1080.1 1354.4 1080.6 1354.8 1081.1 1354.8 1081.6 1355.7 1082.1 1355.1 1082.6 1354.7 1083.1 1355.3 1083.6 1354.7 1084.1 1355.4 1084.6 1355.3 1085.1 1356.4 1085.6 1354.4 1086.1 1354.9 1086.6 1354.9 1087.1 1355.1 1087.6 1355.3 1088.1 1354.5 1088.6 1354.7 1089.1 1355.2 1089.6 1355.5 1090.1 1354.5 1090.6 1354.3 1091.1 1355.6 1091.6 1355.5 1092.1 1355.6 1092.6 1354.6 1093.1 1355.0 1093.6 1355.2 1094.1 1355.3 1094.6 1355.0 1095.1 1355.0 1095.6 1355.5 1096.1 1354.8 1096.6 1354.8 1097.1 1354.8 1097.6 1354.8 1098.1 1355.1 1098.6 1354.9 1099.1 1354.8 1099.6 1355.7 1100.1 1355.1 1100.6 1354.8 1101.1 1355.6 1101.6 1354.7 1102.1 1354.9 1102.6 1354.9 1103.1 1354.6 1103.6 1354.7 1104.1 1354.9 1104.6 1354.1 1105.1 1354.6 1105.6 1354.9 1106.1 1354.8 1106.6 1354.8 1107.1 1355.8 1107.6 1354.9 1108.1 1354.5 1108.6 1354.4 1109.1 1354.4 1109.6 1354.6 1110.1 1354.1 1110.6 1354.9 1111.1 1353.6 1111.6 1354.3 1112.1 1354.1 1112.6 1353.2 1113.1 1353.9 1113.6 1353.7 1114.1 1352.9 1114.6 1354.1 1115.1 1353.1 1115.6 1352.4 1116.1 1352.0 1116.6 1351.5 1117.1 1351.7 1117.6 1351.2 1118.1 1350.0 1118.6 1349.7 1119.1 1349.4 1119.6 1349.0 1120.1 1348.4 1120.6 1347.7 1121.1 1347.7 1121.6 1347.3 1122.1 1346.4 1122.6 1344.9 1123.1 1345.5 1123.6 1345.6 1124.1 1345.2 1124.6 1345.3 1125.1 1345.4 1125.6 1344.9 1126.1 1344.8 1126.6 1346.7 1127.1 1346.7 1127.6 1347.7 1128.1 1348.0 1128.6 1348.6 1129.1 1349.9 1129.6 1349.2 1130.1 1350.3 1130.6 1350.3 1131.1 1351.3 1131.6 1351.8 1132.1 1352.3 1132.6 1352.4 1133.1 1351.9 1133.6 1353.0 1134.1 1353.5 1134.6 1353.7 1135.1 1354.5 1135.6 1353.9 1136.1 1353.3 1136.6 1353.6 1137.1 1354.1 1137.6 1354.6 1138.1 1353.7 1138.6 1354.7 1139.1 1354.7 1139.6 1354.0 1140.1 1354.8 1140.6 1354.2 1141.1 1354.6 1141.6 1354.5 1142.1 1354.8 1142.6 1354.2 1143.1 1355.0 1143.6 1353.8 1144.1 1354.6 1144.6 1354.6 1145.1 1355.6 1145.6 1355.1 1146.1 1354.7 1146.6 1354.5 1147.1 1354.9 1147.6 1354.6 1148.1 1356.0 1148.6 1353.6 1149.1 1355.0 1149.6 1353.8 1150.1 1355.5 1150.6 1354.6 1151.1 1355.7 1151.6 1354.7 1152.1 1355.5 1152.6 1355.1 1153.1 1355.5 1153.6 1355.0 1154.1 1353.6 1154.6 1354.6 1155.1 1354.2 1155.6 1355.4 1156.1 1355.2 1156.6 1354.9 1157.1 1355.1 1157.6 1355.0 1158.1 1354.6 1158.6 1355.8 1159.1 1355.0 1159.6 1354.8 1160.1 1354.1 1160.6 1354.5 1161.1 1354.8 1161.6 1354.7 1162.1 1354.5 1162.6 1354.7 1163.1 1354.2 1163.6 1354.7 1164.1 1353.9 1164.6 1354.2 1165.1 1354.2 1165.6 1354.9 1166.1 1354.7 1166.6 1354.5 1167.1 1353.8 1167.6 1354.2 1168.1 1354.7 1168.6 1354.8 1169.1 1353.5 1169.6 1353.9 1170.1 1354.1 1170.6 1354.1 1171.1 1353.9 1171.6 1354.1 1172.1 1353.0 1172.6 1354.3 1173.1 1353.0 1173.6 1353.4 1174.1 1353.5 1174.6 1353.7 1175.1 1353.4 1175.6 1353.2 1176.1 1353.2 1176.6 1352.3 1177.1 1352.5 1177.6 1352.6 1178.1 1351.3 1178.6 1350.6 1179.1 1350.5 1179.6 1351.2 1180.1 1350.7 1180.6 1349.4 1181.1 1349.2 1181.6 1348.6 1182.1 1348.1 1182.6 1345.9 1183.1 1345.5 1183.6 1344.5 1184.1 1343.4 1184.6 1341.6 1185.1 1339.4 1185.6 1337.2 1186.1 1332.9 1186.6 1332.1 1187.1 1326.8 1187.6 1322.2 1188.1 1316.7 1188.6 1313.2 1189.1 1311.8 1189.6 1312.0 1190.1 1313.5 1190.6 1316.5 1191.1 1320.9 1191.6 1323.9 1192.1 1327.1 1192.6 1327.8 1193.1 1329.5 1193.6 1330.1 1194.1 1329.5 1194.6 1329.3 1195.1 1326.7 1195.6 1324.2 1196.1 1321.4 1196.6 1317.7 1197.1 1311.8 1197.6 1305.4 1198.1 1299.3 1198.6 1292.9 1199.1 1288.7 1199.6 1288.9 1200.1 1292.5 1200.6 1299.3 1201.1 1306.5 1201.6 1313.2 1202.1 1319.6 1202.6 1324.9 1203.1 1329.6 1203.6 1333.2 1204.1 1335.6 1204.6 1338.3 1205.1 1340.6 1205.6 1342.6 1206.1 1343.7 1206.6 1345.7 1207.1 1345.9 1207.6 1347.1 1208.1 1347.4 1208.6 1347.8 1209.1 1348.9 1209.6 1349.7 1210.1 1350.1 1210.6 1350.4 1211.1 1350.6 1211.6 1350.6 1212.1 1351.2 1212.6 1351.8 1213.1 1352.3 1213.6 1350.4 1214.1 1352.5 1214.6 1352.9 1215.1 1353.1 1215.6 1352.7 1216.1 1353.0 1216.6 1352.5 1217.1 1352.7 1217.6 1353.0 1218.1 1352.2 1218.6 1352.3 1219.1 1352.7 1219.6 1351.9 1220.1 1352.4 1220.6 1351.4 1221.1 1352.0 1221.6 1351.5 1222.1 1350.8 1222.6 1350.0 1223.1 1349.5 1223.6 1347.7 1224.1 1347.3 1224.6 1346.0 1225.1 1344.5 1225.6 1341.4 1226.1 1339.2 1226.6 1337.8 1227.1 1336.7 1227.6 1335.5 1228.1 1337.4 1228.6 1339.5 1229.1 1341.6 1229.6 1343.3 1230.1 1345.4 1230.6 1347.8 1231.1 1350.0 1231.6 1349.9 1232.1 1351.6 1232.6 1352.4 1233.1 1351.5 1233.6 1352.2 1234.1 1353.6 1234.6 1353.6 1235.1 1353.6 1235.6 1353.5 1236.1 1354.0 1236.6 1353.5 1237.1 1355.1 1237.6 1353.4 1238.1 1353.1 1238.6 1354.1 1239.1 1354.7 1239.6 1353.7 1240.1 1353.9 1240.6 1353.4 1241.1 1353.7 1241.6 1353.1 1242.1 1353.0 1242.6 1352.6 1243.1 1352.8 1243.6 1353.6 1244.1 1352.3 1244.6 1352.0 1245.1 1352.4 1245.6 1350.3 1246.1 1349.2 1246.6 1348.8 1247.1 1346.6 1247.6 1345.5 1248.1 1343.6 1248.6 1339.8 1249.1 1337.0 1249.6 1335.0 1250.1 1331.2 1250.6 1330.2 1251.1 1331.1 1251.6 1332.8 1252.1 1335.3 1252.6 1339.5 1253.1 1341.2 1253.6 1343.9 1254.1 1345.4 1254.6 1346.9 1255.1 1347.4 1255.6 1349.2 1256.1 1349.1 1256.6 1350.2 1257.1 1349.1 1257.6 1349.3 1258.1 1349.5 1258.6 1348.9 1259.1 1347.8 1259.6 1347.1 1260.1 1345.3 1260.6 1344.6 1261.1 1342.0 1261.6 1342.4 1262.1 1342.6 1262.6 1342.6 1263.1 1343.2 1263.6 1343.2 1264.1 1344.0 1264.6 1343.5 1265.1 1343.1 1265.6 1342.1 1266.1 1339.0 1266.6 1339.3 1267.1 1337.3 1267.6 1336.2 1268.1 1335.2 1268.6 1337.1 1269.1 1339.1 1269.6 1340.2 1270.1 1342.8 1270.6 1345.8 1271.1 1347.2 1271.6 1348.9 1272.1 1349.7 1272.6 1351.6 1273.1 1350.7 1273.6 1351.6 1274.1 1352.3 1274.6 1352.5 1275.1 1353.2 1275.6 1353.8 1276.1 1353.4 1276.6 1354.4 1277.1 1355.1 1277.6 1355.1 1278.1 1355.7 1278.6 1355.4 1279.1 1355.0 1279.6 1355.9 1280.1 1355.5 1280.6 1356.2 1281.1 1355.2 1281.6 1354.4 1282.1 1354.9 1282.6 1355.6 1283.1 1355.8 1283.6 1355.4 1284.1 1356.1 1284.6 1355.0 1285.1 1355.3 1285.6 1356.1 1286.1 1355.7 1286.6 1355.7 1287.1 1356.3 1287.6 1356.1 1288.1 1355.2 1288.6 1355.7 1289.1 1354.7 1289.6 1355.5 1290.1 1355.6 1290.6 1354.5 1291.1 1356.0 1291.6 1356.1 1292.1 1355.3 1292.6 1355.4 1293.1 1355.6 1293.6 1354.8 1294.1 1355.5 1294.6 1355.3 1295.1 1354.5 1295.6 1354.9 1296.1 1355.2 1296.6 1356.1 1297.1 1355.7 1297.6 1356.2 1298.1 1355.6 1298.6 1355.3 1299.1 1356.9 1299.6 1357.3 1300.1 1356.2 1300.6 1355.9 1301.1 1356.6 1301.6 1355.6 1302.1 1356.0 1302.6 1355.4 1303.1 1356.4 1303.6 1356.3 1304.1 1356.0 1304.6 1355.9 1305.1 1355.5 1305.6 1355.8 1306.1 1356.8 1306.6 1356.1 1307.1 1356.8 1307.6 1355.8 1308.1 1356.2 1308.6 1356.0 1309.1 1356.1 1309.6 1356.6 1310.1 1355.2 1310.6 1356.5 1311.1 1356.5 1311.6 1356.1 1312.1 1356.2 1312.6 1356.0 1313.1 1356.4 1313.6 1356.0 1314.1 1355.5 1314.6 1356.0 1315.1 1356.3 1315.6 1355.9 1316.1 1355.6 1316.6 1355.6 1317.1 1355.1 1317.6 1354.9 1318.1 1354.0 1318.6 1354.5 1319.1 1354.8 1319.6 1353.8 1320.1 1353.2 1320.6 1353.7 1321.1 1353.1 1321.6 1353.0 1322.1 1353.2 1322.6 1353.5 1323.1 1353.5 1323.6 1353.5 1324.1 1355.1 1324.6 1354.6 1325.1 1354.5 1325.6 1355.2 1326.1 1355.9 1326.6 1354.9 1327.1 1356.3 1327.6 1355.8 1328.1 1356.9 1328.6 1356.4 1329.1 1356.1 1329.6 1356.8 1330.1 1356.9 1330.6 1356.2 1331.1 1356.5 1331.6 1356.2 1332.1 1356.9 1332.6 1355.8 1333.1 1356.4 1333.6 1355.5 1334.1 1356.9 1334.6 1355.5 1335.1 1356.1 1335.6 1356.8 1336.1 1356.5 1336.6 1356.5 1337.1 1356.2 1337.6 1356.5 1338.1 1355.9 1338.6 1356.9 1339.1 1357.1 1339.6 1357.1 1340.1 1356.7 1340.6 1357.3 1341.1 1357.0 1341.6 1357.2 1342.1 1357.0 1342.6 1356.8 1343.1 1356.4 1343.6 1355.5 1344.1 1357.1 1344.6 1356.7 1345.1 1357.7 1345.6 1355.8 1346.1 1357.2 1346.6 1356.3 1347.1 1356.7 1347.6 1356.3 1348.1 1356.9 1348.6 1356.7 1349.1 1357.1 1349.6 1356.7 1350.1 1356.8 1350.6 1357.1 1351.1 1356.7 1351.6 1356.3 1352.1 1356.9 1352.6 1356.2 1353.1 1356.3 1353.6 1355.8 1354.1 1355.5 1354.6 1354.2 1355.1 1355.7 1355.6 1354.6 1356.1 1355.2 1356.6 1355.4 1357.1 1353.6 1357.6 1354.4 1358.1 1353.9 1358.6 1354.2 1359.1 1353.6 1359.6 1354.4 1360.1 1354.8 1360.6 1355.7 1361.1 1356.4 1361.6 1355.8 1362.1 1355.7 1362.6 1357.1 1363.1 1356.1 1363.6 1356.3 1364.1 1356.5 1364.6 1356.8 1365.1 1357.0 1365.6 1356.4 1366.1 1356.7 1366.6 1357.7 1367.1 1357.6 1367.6 1357.1 1368.1 1357.1 1368.6 1356.9 1369.1 1357.5 1369.6 1356.8 1370.1 1357.1 1370.6 1356.9 1371.1 1356.8 1371.6 1357.1 1372.1 1357.1 1372.6 1356.9 1373.1 1357.1 1373.6 1357.2 1374.1 1357.0 1374.6 1356.9 1375.1 1357.2 1375.6 1357.6 1376.1 1357.8 1376.6 1357.4 1377.1 1357.1 1377.6 1357.3 1378.1 1358.2 1378.6 1357.7 1379.1 1356.9 1379.6 1357.3 1380.1 1357.1 1380.6 1357.2 1381.1 1356.5 1381.6 1357.4 1382.1 1356.7 1382.6 1357.1 1383.1 1358.1 1383.6 1357.8 1384.1 1357.0 1384.6 1356.9 1385.1 1357.0 1385.6 1356.5 1386.1 1356.9 1386.6 1357.3 1387.1 1356.9 1387.6 1357.8 1388.1 1357.4 1388.6 1357.2 1389.1 1358.2 1389.6 1357.7 1390.1 1357.4 1390.6 1358.3 1391.1 1358.0 1391.6 1357.1 1392.1 1357.6 1392.6 1357.2 1393.1 1356.7 1393.6 1358.3 1394.1 1358.1 1394.6 1356.8 1395.1 1357.6 1395.6 1356.6 1396.1 1357.9 1396.6 1357.3 1397.1 1357.2 1397.6 1357.9 1398.1 1357.3 1398.6 1357.2 1399.1 1357.7 1399.6 1357.1 1400.1 1357.6 1400.6 1357.2 1401.1 1357.5 1401.6 1357.4 1402.1 1357.4 1402.6 1356.5 1403.1 1357.8 1403.6 1356.8 1404.1 1357.6 1404.6 1356.4 1405.1 1356.4 1405.6 1356.3 1406.1 1356.8 1406.6 1355.8 1407.1 1356.0 1407.6 1354.9 1408.1 1355.1 1408.6 1355.2 1409.1 1354.7 1409.6 1353.5 1410.1 1354.3 1410.6 1353.3 1411.1 1354.4 1411.6 1353.1 1412.1 1354.1 1412.6 1353.3 1413.1 1353.1 1413.6 1352.8 1414.1 1353.1 1414.6 1353.6 1415.1 1352.7 1415.6 1354.4 1416.1 1353.7 1416.6 1354.5 1417.1 1353.6 1417.6 1355.5 1418.1 1355.9 1418.6 1355.9 1419.1 1356.2 1419.6 1356.1 1420.1 1356.5 1420.6 1357.1 1421.1 1356.5 1421.6 1357.1 1422.1 1357.3 1422.6 1356.9 1423.1 1357.2 1423.6 1357.3 1424.1 1357.0 1424.6 1358.5 1425.1 1357.1 1425.6 1358.2 1426.1 1357.9 1426.6 1356.5 1427.1 1357.6 1427.6 1358.0 1428.1 1357.9 1428.6 1357.1 1429.1 1357.7 1429.6 1357.0 1430.1 1357.1 1430.6 1357.5 1431.1 1357.7 1431.6 1358.4 1432.1 1357.8 1432.6 1358.1 1433.1 1357.0 1433.6 1357.0 1434.1 1357.3 1434.6 1358.4 1435.1 1356.9 1435.6 1356.8 1436.1 1357.5 1436.6 1358.0 1437.1 1356.6 1437.6 1357.3 1438.1 1356.7 1438.6 1358.0 1439.1 1357.6 1439.6 1357.3 1440.1 1357.0 1440.6 1356.8 1441.1 1356.9 1441.6 1356.3 1442.1 1356.0 1442.6 1355.7 1443.1 1356.0 1443.6 1355.3 1444.1 1355.7 1444.6 1353.8 1445.1 1354.5 1445.6 1353.7 1446.1 1353.2 1446.6 1351.5 1447.1 1349.8 1447.6 1349.2 1448.1 1349.5 1448.6 1348.7 1449.1 1349.0 1449.6 1349.7 1450.1 1351.0 1450.6 1351.9 1451.1 1352.3 1451.6 1353.5 1452.1 1355.0 1452.6 1355.8 1453.1 1355.5 1453.6 1355.6 1454.1 1356.9 1454.6 1356.4 1455.1 1356.1 1455.6 1356.8 1456.1 1357.3 1456.6 1357.9 1457.1 1357.0 1457.6 1357.6 1458.1 1357.3 1458.6 1358.1 1459.1 1357.7 1459.6 1357.7 1460.1 1357.2 1460.6 1357.6 1461.1 1357.6 1461.6 1356.0 1462.1 1358.2 1462.6 1357.8 1463.1 1357.7 1463.6 1357.7 1464.1 1357.9 1464.6 1358.0 1465.1 1357.3 1465.6 1358.0 1466.1 1358.0 1466.6 1357.9 1467.1 1357.2 1467.6 1357.8 1468.1 1357.3 1468.6 1358.0 1469.1 1358.5 1469.6 1358.3 1470.1 1357.7 1470.6 1357.5 1471.1 1357.5 1471.6 1357.9 1472.1 1357.4 1472.6 1357.4 1473.1 1356.4 1473.6 1357.1 1474.1 1357.1 1474.6 1357.1 1475.1 1357.9 1475.6 1356.5 1476.1 1356.4 1476.6 1357.2 1477.1 1356.3 1477.6 1356.5 1478.1 1356.4 1478.6 1356.1 1479.1 1355.4 1479.6 1355.9 1480.1 1355.8 1480.6 1354.2 1481.1 1354.1 1481.6 1354.2 1482.1 1353.0 1482.6 1352.1 1483.1 1351.8 1483.6 1351.8 1484.1 1350.4 1484.6 1350.5 1485.1 1350.2 1485.6 1349.5 1486.1 1350.1 1486.6 1350.3 1487.1 1350.7 1487.6 1351.1 1488.1 1350.4 1488.6 1352.1 1489.1 1352.6 1489.6 1353.3 1490.1 1353.0 1490.6 1354.4 1491.1 1354.7 1491.6 1354.4 1492.1 1356.0 1492.6 1355.4 1493.1 1355.6 1493.6 1356.6 1494.1 1356.3 1494.6 1357.0 1495.1 1356.9 1495.6 1357.3 1496.1 1357.7 1496.6 1357.4 1497.1 1358.0 1497.6 1358.1 1498.1 1357.3 1498.6 1358.2 1499.1 1358.2 1499.6 1358.0 1500.1 1358.6 1500.6 1358.9 1501.1 1358.5 1501.6 1357.4 1502.1 1358.4 1502.6 1358.2 1503.1 1358.1 1503.6 1358.4 1504.1 1358.1 1504.6 1359.1 1505.1 1358.5 1505.6 1358.4 1506.1 1358.7 1506.6 1358.8 1507.1 1359.0 1507.6 1358.7 1508.1 1358.4 1508.6 1358.5 1509.1 1357.4 1509.6 1357.7 1510.1 1358.9 1510.6 1358.2 1511.1 1359.3 1511.6 1359.3 1512.1 1357.8 1512.6 1358.5 1513.1 1359.7 1513.6 1357.9 1514.1 1358.5 1514.6 1358.2 1515.1 1358.1 1515.6 1358.1 1516.1 1358.1 1516.6 1358.5 1517.1 1357.6 1517.6 1358.2 1518.1 1357.5 1518.6 1358.0 1519.1 1357.8 1519.6 1357.2 1520.1 1357.4 1520.6 1356.9 1521.1 1356.6 1521.6 1357.3 1522.1 1355.6 1522.6 1356.4 1523.1 1356.1 1523.6 1355.0 1524.1 1355.2 1524.6 1354.3 1525.1 1352.4 1525.6 1352.1 1526.1 1350.8 1526.6 1348.6 1527.1 1347.6 1527.6 1346.0 1528.1 1344.0 1528.6 1342.8 1529.1 1344.2 1529.6 1344.7 1530.1 1345.8 1530.6 1348.1 1531.1 1348.8 1531.6 1351.2 1532.1 1353.3 1532.6 1352.2 1533.1 1354.6 1533.6 1354.6 1534.1 1355.3 1534.6 1355.5 1535.1 1356.7 1535.6 1356.6 1536.1 1356.5 1536.6 1356.5 1537.1 1357.1 1537.6 1358.0 1538.1 1356.9 1538.6 1357.8 1539.1 1357.9 1539.6 1356.8 1540.1 1358.4 1540.6 1357.8 1541.1 1358.9 1541.6 1358.7 1542.1 1357.7 1542.6 1357.7 1543.1 1357.3 1543.6 1357.0 1544.1 1358.0 1544.6 1357.4 1545.1 1357.2 1545.6 1357.1 1546.1 1357.3 1546.6 1357.2 1547.1 1356.5 1547.6 1356.0 1548.1 1355.7 1548.6 1356.1 1549.1 1353.4 1549.6 1353.0 1550.1 1352.7 1550.6 1351.3 1551.1 1350.4 1551.6 1349.0 1552.1 1347.9 1552.6 1345.7 1553.1 1346.1 1553.6 1346.3 1554.1 1348.0 1554.6 1349.1 1555.1 1351.0 1555.6 1351.6 1556.1 1353.2 1556.6 1353.9 1557.1 1354.8 1557.6 1355.4 1558.1 1355.6 1558.6 1357.1 1559.1 1357.1 1559.6 1357.8 1560.1 1357.0 1560.6 1356.8 1561.1 1357.6 1561.6 1358.0 1562.1 1358.6 1562.6 1358.9 1563.1 1359.1 1563.6 1359.4 1564.1 1359.0 1564.6 1358.8 1565.1 1358.5 1565.6 1359.2 1566.1 1358.7 1566.6 1358.6 1567.1 1359.3 1567.6 1359.2 1568.1 1359.5 1568.6 1358.8 1569.1 1359.8 1569.6 1359.4 1570.1 1359.2 1570.6 1358.9 1571.1 1358.8 1571.6 1358.7 1572.1 1360.0 1572.6 1358.7 1573.1 1359.7 1573.6 1359.3 1574.1 1359.1 1574.6 1359.2 1575.1 1359.4 1575.6 1359.9 1576.1 1359.7 1576.6 1359.5 1577.1 1358.8 1577.6 1358.6 1578.1 1360.4 1578.6 1359.0 1579.1 1358.7 1579.6 1360.1 1580.1 1358.8 1580.6 1359.9 1581.1 1360.0 1581.6 1359.7 1582.1 1360.0 1582.6 1358.9 1583.1 1358.9 1583.6 1359.5 1584.1 1359.5 1584.6 1359.5 1585.1 1359.8 1585.6 1359.2 1586.1 1358.5 1586.6 1359.7 1587.1 1359.4 1587.6 1359.9 1588.1 1360.5 1588.6 1359.6 1589.1 1359.8 1589.6 1359.1 1590.1 1359.9 1590.6 1359.6 1591.1 1359.6 1591.6 1359.9 1592.1 1358.9 1592.6 1359.7 1593.1 1359.6 1593.6 1360.1 1594.1 1358.4 1594.6 1359.2 1595.1 1360.3 1595.6 1359.0 1596.1 1358.9 1596.6 1360.0 1597.1 1360.3 1597.6 1359.0 1598.1 1358.5 1598.6 1358.5 1599.1 1358.5 1599.6 1358.2 1600.1 1358.1 1600.6 1358.5 1601.1 1358.3 1601.6 1358.3 1602.1 1357.9 1602.6 1357.1 1603.1 1357.9 1603.6 1357.4 1604.1 1356.7 1604.6 1356.5 1605.1 1356.5 1605.6 1356.0 1606.1 1355.4 1606.6 1355.4 1607.1 1355.0 1607.6 1353.8 1608.1 1353.4 1608.6 1352.2 1609.1 1352.0 1609.6 1351.7 1610.1 1351.3 1610.6 1350.4 1611.1 1349.8 1611.6 1349.2 1612.1 1349.4 1612.6 1348.6 1613.1 1349.2 1613.6 1349.3 1614.1 1349.1 1614.6 1350.1 1615.1 1350.4 1615.6 1351.3 1616.1 1351.4 1616.6 1352.5 1617.1 1353.7 1617.6 1353.6 1618.1 1354.5 1618.6 1354.3 1619.1 1354.9 1619.6 1354.7 1620.1 1355.9 1620.6 1355.8 1621.1 1356.8 1621.6 1356.0 1622.1 1356.8 1622.6 1357.5 1623.1 1357.9 1623.6 1357.1 1624.1 1357.8 1624.6 1359.4 1625.1 1358.7 1625.6 1358.5 1626.1 1357.1 1626.6 1358.1 1627.1 1358.8 1627.6 1358.7 1628.1 1358.8 1628.6 1359.1 1629.1 1358.6 1629.6 1359.0 1630.1 1357.6 1630.6 1359.6 1631.1 1358.2 1631.6 1357.9 1632.1 1358.8 1632.6 1358.1 1633.1 1358.1 1633.6 1357.0 1634.1 1357.2 1634.6 1357.0 1635.1 1355.5 1635.6 1355.4 1636.1 1354.6 1636.6 1353.6 1637.1 1352.3 1637.6 1350.6 1638.1 1349.8 1638.6 1347.8 1639.1 1346.3 1639.6 1344.0 1640.1 1342.7 1640.6 1342.2 1641.1 1343.8 1641.6 1345.3 1642.1 1348.3 1642.6 1350.4 1643.1 1351.8 1643.6 1352.1 1644.1 1353.1 1644.6 1354.7 1645.1 1355.1 1645.6 1357.0 1646.1 1356.9 1646.6 1357.1 1647.1 1357.6 1647.6 1358.6 1648.1 1357.8 1648.6 1358.7 1649.1 1358.0 1649.6 1358.8 1650.1 1358.7 1650.6 1359.3 1651.1 1359.3 1651.6 1360.0 1652.1 1359.8 1652.6 1359.2 1653.1 1359.0 1653.6 1359.3 1654.1 1359.5 1654.6 1359.7 1655.1 1359.4 1655.6 1360.4 1656.1 1360.3 1656.6 1359.8 1657.1 1359.7 1657.6 1359.8 1658.1 1360.0 1658.6 1360.0 1659.1 1359.2 1659.6 1359.8 1660.1 1359.1 1660.6 1360.1 1661.1 1360.4 1661.6 1359.6 1662.1 1360.2 1662.6 1359.8 1663.1 1359.8 1663.6 1361.1 1664.1 1360.5 1664.6 1360.3 1665.1 1359.9 1665.6 1360.3 1666.1 1360.0 1666.6 1360.3 1667.1 1359.7 1667.6 1360.1 1668.1 1359.9 1668.6 1359.4 1669.1 1360.9 1669.6 1360.5 1670.1 1359.7 1670.6 1359.3 1671.1 1359.7 1671.6 1359.6 1672.1 1359.7 1672.6 1359.3 1673.1 1359.6 1673.6 1360.0 1674.1 1360.1 1674.6 1359.0 1675.1 1359.9 1675.6 1359.4 1676.1 1359.3 1676.6 1359.7 1677.1 1359.4 1677.6 1360.1 1678.1 1360.0 1678.6 1359.5 1679.1 1359.3 1679.6 1360.4 1680.1 1360.4 1680.6 1359.6 1681.1 1359.2 1681.6 1359.7 1682.1 1359.8 1682.6 1358.7 1683.1 1359.7 1683.6 1358.6 1684.1 1359.0 1684.6 1358.0 1685.1 1358.1 1685.6 1357.6 1686.1 1357.5 1686.6 1357.6 1687.1 1356.2 1687.6 1356.0 1688.1 1355.7 1688.6 1354.5 1689.1 1354.8 1689.6 1351.9 1690.1 1352.5 1690.6 1349.2 1691.1 1347.9 1691.6 1345.9 1692.1 1342.9 1692.6 1339.7 1693.1 1338.8 1693.6 1338.6 1694.1 1339.7 1694.6 1341.7 1695.1 1344.2 1695.6 1346.8 1696.1 1347.8 1696.6 1350.6 1697.1 1350.9 1697.6 1353.1 1698.1 1353.6 1698.6 1354.1 1699.1 1356.1 1699.6 1356.2 1700.1 1357.2 1700.6 1356.3 1701.1 1356.8 1701.6 1357.7 1702.1 1357.7 1702.6 1358.2 1703.1 1358.1 1703.6 1358.4 1704.1 1358.1 1704.6 1359.4 1705.1 1358.7 1705.6 1358.4 1706.1 1359.4 1706.6 1359.3 1707.1 1359.3 1707.6 1359.3 1708.1 1359.0 1708.6 1359.2 1709.1 1358.2 1709.6 1358.5 1710.1 1358.7 1710.6 1359.4 1711.1 1359.9 1711.6 1359.2 1712.1 1359.1 1712.6 1359.8 1713.1 1359.0 1713.6 1359.4 1714.1 1359.3 1714.6 1358.3 1715.1 1359.1 1715.6 1358.9 1716.1 1358.1 1716.6 1358.0 1717.1 1357.8 1717.6 1358.9 1718.1 1359.1 1718.6 1358.1 1719.1 1358.3 1719.6 1356.5 1720.1 1357.4 1720.6 1357.2 1721.1 1356.4 1721.6 1354.4 1722.1 1354.6 1722.6 1353.0 1723.1 1352.5 1723.6 1350.5 1724.1 1349.6 1724.6 1348.4 1725.1 1348.3 1725.6 1348.0 1726.1 1349.1 1726.6 1349.8 1727.1 1350.8 1727.6 1351.7 1728.1 1352.8 1728.6 1353.9 1729.1 1355.2 1729.6 1355.6 1730.1 1356.3 1730.6 1356.7 1731.1 1357.1 1731.6 1357.2 1732.1 1356.9 1732.6 1358.4 1733.1 1358.6 1733.6 1358.0 1734.1 1359.6 1734.6 1358.2 1735.1 1359.4 1735.6 1359.2 1736.1 1359.3 1736.6 1359.8 1737.1 1359.8 1737.6 1359.4 1738.1 1358.9 1738.6 1358.9 1739.1 1359.7 1739.6 1360.4 1740.1 1360.1 1740.6 1359.7 1741.1 1359.9 1741.6 1360.1 1742.1 1360.6 1742.6 1359.4 1743.1 1360.2 1743.6 1360.0 1744.1 1359.5 1744.6 1359.4 1745.1 1360.5 1745.6 1360.1 1746.1 1359.8 1746.6 1360.0 1747.1 1360.4 1747.6 1360.0 1748.1 1360.8 1748.6 1359.9 1749.1 1359.6 1749.6 1359.9 1750.1 1359.5 1750.6 1359.8 1751.1 1360.6 1751.6 1360.9 1752.1 1360.3 1752.6 1360.1 1753.1 1359.6 1753.6 1359.5 1754.1 1360.2 1754.6 1360.1 1755.1 1359.8 1755.6 1359.8 1756.1 1360.8 1756.6 1360.6 1757.1 1360.1 1757.6 1360.2 1758.1 1360.7 1758.6 1360.3 1759.1 1360.2 1759.6 1359.3 1760.1 1359.2 1760.6 1359.1 1761.1 1359.0 1761.6 1360.1 1762.1 1360.2 1762.6 1359.6 1763.1 1360.3 1763.6 1360.3 1764.1 1360.0 1764.6 1359.3 1765.1 1360.8 1765.6 1360.8 1766.1 1359.8 1766.6 1361.1 1767.1 1360.1 1767.6 1359.7 1768.1 1359.9 1768.6 1359.2 1769.1 1359.9 1769.6 1359.3 1770.1 1360.6 1770.6 1360.2 1771.1 1359.4 1771.6 1360.4 1772.1 1359.2 1772.6 1360.2 1773.1 1360.3 1773.6 1360.1 1774.1 1359.5 1774.6 1360.0 1775.1 1360.0 1775.6 1360.1 1776.1 1360.8 1776.6 1360.9 1777.1 1360.9 1777.6 1359.8 1778.1 1359.7 1778.6 1360.1 1779.1 1360.3 1779.6 1359.0 1780.1 1359.8 1780.6 1361.0 1781.1 1359.4 1781.6 1359.7 1782.1 1359.7 1782.6 1360.3 1783.1 1360.0 1783.6 1359.9 1784.1 1359.3 1784.6 1360.4 1785.1 1360.1 1785.6 1359.7 1786.1 1360.1 1786.6 1360.4 1787.1 1359.3 1787.6 1359.3 1788.1 1359.5 1788.6 1359.6 1789.1 1358.5 1789.6 1359.7 1790.1 1360.6 1790.6 1359.9 1791.1 1360.5 1791.6 1358.6 1792.1 1360.0 1792.6 1360.7 1793.1 1360.8 1793.6 1359.8 1794.1 1359.6 1794.6 1360.2 1795.1 1359.4 1795.6 1359.8 1796.1 1359.2 1796.6 1360.1 1797.1 1360.0 1797.6 1360.8 1798.1 1360.2 1798.6 1359.7 1799.1 1360.0 1799.6 1359.4 1800.1 1360.0 1800.6 1359.9 1801.1 1360.2 1801.6 1360.5 1802.1 1359.0 1802.6 1360.1 1803.1 1360.3 1803.6 1359.4 1804.1 1360.9 1804.6 1359.6 1805.1 1361.2 1805.6 1360.3 1806.1 1360.4 1806.6 1360.1 1807.1 1360.4 1807.6 1359.4 1808.1 1359.5 1808.6 1358.9 1809.1 1360.2 1809.6 1359.6 1810.1 1360.3 1810.6 1360.2 1811.1 1359.2 1811.6 1360.2 1812.1 1360.0 1812.6 1360.0 1813.1 1360.1 1813.6 1359.9 1814.1 1359.9 1814.6 1360.4 1815.1 1359.4 1815.6 1359.3 1816.1 1359.5 1816.6 1360.4 1817.1 1359.7 1817.6 1360.8 1818.1 1358.3 1818.6 1359.5 1819.1 1359.6 1819.6 1359.9 1820.1 1360.5 1820.6 1359.7 1821.1 1359.3 1821.6 1360.2 1822.1 1360.6 1822.6 1358.5 1823.1 1360.1 1823.6 1359.9 1824.1 1359.3 1824.6 1359.5 1825.1 1359.9 1825.6 1359.8 1826.1 1359.6 1826.6 1359.2 1827.1 1359.9 1827.6 1359.4 1828.1 1359.8 1828.6 1359.4 1829.1 1359.8 1829.6 1360.1 1830.1 1359.8 1830.6 1360.0 1831.1 1359.0 1831.6 1359.9 1832.1 1359.8 1832.6 1359.4 1833.1 1359.6 1833.6 1358.3 1834.1 1359.7 1834.6 1359.4 1835.1 1358.5 1835.6 1359.9 1836.1 1359.3 1836.6 1359.8 1837.1 1359.5 1837.6 1359.8 1838.1 1359.6 1838.6 1359.4 1839.1 1359.8 1839.6 1360.0 1840.1 1358.4 1840.6 1359.6 1841.1 1359.3 1841.6 1359.0 1842.1 1360.2 1842.6 1360.0 1843.1 1359.0 1843.6 1359.0 1844.1 1359.9 1844.6 1359.2 1845.1 1359.3 1845.6 1358.5 1846.1 1359.4 1846.6 1360.0 1847.1 1359.2 1847.6 1359.4 1848.1 1360.3 1848.6 1359.9 1849.1 1360.1 1849.6 1359.7 1850.1 1360.0 1850.6 1358.5 1851.1 1359.0 1851.6 1358.5 1852.1 1360.5 1852.6 1359.4 1853.1 1359.2 1853.6 1358.9 1854.1 1358.8 1854.6 1357.9 1855.1 1360.4 1855.6 1359.2 1856.1 1359.2 1856.6 1358.5 1857.1 1359.1 1857.6 1359.3 1858.1 1359.1 1858.6 1359.4 1859.1 1358.6 1859.6 1359.2 1860.1 1359.4 1860.6 1359.2 1861.1 1359.1 1861.6 1358.8 1862.1 1358.3 1862.6 1359.0 1863.1 1358.5 1863.6 1358.1 1864.1 1358.9 1864.6 1357.6 1865.1 1358.0 1865.6 1358.6 1866.1 1358.5 1866.6 1357.7 1867.1 1357.7 1867.6 1357.8 1868.1 1357.2 1868.6 1356.6 1869.1 1356.8 1869.6 1356.3 1870.1 1355.8 1870.6 1355.7 1871.1 1354.6 1871.6 1353.5 1872.1 1352.9 1872.6 1352.9 1873.1 1350.8 1873.6 1350.4 1874.1 1349.8 1874.6 1350.5 1875.1 1350.1 1875.6 1351.7 1876.1 1352.7 1876.6 1352.8 1877.1 1353.5 1877.6 1353.9 1878.1 1355.2 1878.6 1355.1 1879.1 1355.8 1879.6 1356.2 1880.1 1356.3 1880.6 1357.3 1881.1 1357.8 1881.6 1356.1 1882.1 1356.8 1882.6 1357.4 1883.1 1356.8 1883.6 1357.1 1884.1 1357.5 1884.6 1358.1 1885.1 1357.9 1885.6 1357.1 1886.1 1357.3 1886.6 1356.9 1887.1 1356.9 1887.6 1356.2 1888.1 1355.7 1888.6 1356.2 1889.1 1356.5 1889.6 1356.1 1890.1 1354.3 1890.6 1354.6 1891.1 1353.8 1891.6 1353.5 1892.1 1351.9 1892.6 1351.9 1893.1 1350.1 1893.6 1349.2 1894.1 1348.2 1894.6 1345.7 1895.1 1346.0 1895.6 1346.8 1896.1 1346.6 1896.6 1348.0 1897.1 1348.9 1897.6 1349.8 1898.1 1351.4 1898.6 1352.8 1899.1 1353.9 1899.6 1354.8 1900.1 1354.2 1900.6 1355.7 1901.1 1355.1 1901.6 1356.1 1902.1 1356.4 1902.6 1357.1 1903.1 1357.1 1903.6 1357.8 1904.1 1357.1 1904.6 1358.0 1905.1 1357.9 1905.6 1357.8 1906.1 1357.3 1906.6 1358.3 1907.1 1358.2 1907.6 1358.5 1908.1 1358.2 1908.6 1358.1 1909.1 1358.5 1909.6 1358.6 1910.1 1358.7 1910.6 1359.4 1911.1 1358.2 1911.6 1359.5 1912.1 1357.0 1912.6 1359.0 1913.1 1358.2 1913.6 1359.6 1914.1 1358.2 1914.6 1359.2 1915.1 1358.1 1915.6 1358.1 1916.1 1359.1 1916.6 1359.1 1917.1 1358.3 1917.6 1359.9 1918.1 1358.5 1918.6 1359.5 1919.1 1358.2 1919.6 1358.2 1920.1 1358.8 1920.6 1358.2 1921.1 1359.0 1921.6 1357.7 1922.1 1358.8 1922.6 1358.5 1923.1 1358.3 1923.6 1358.8 1924.1 1358.6 1924.6 1358.5 1925.1 1359.2 1925.6 1358.9 1926.1 1358.9 1926.6 1359.4 1927.1 1358.7 1927.6 1359.2 1928.1 1358.5 1928.6 1359.0 1929.1 1359.0 1929.6 1358.5 1930.1 1358.0 1930.6 1358.1 1931.1 1358.3 1931.6 1359.0 1932.1 1358.7 1932.6 1358.6 1933.1 1359.0 1933.6 1359.1 1934.1 1359.4 1934.6 1358.4 1935.1 1359.0 1935.6 1359.1 1936.1 1358.2 1936.6 1358.8 1937.1 1358.3 1937.6 1358.6 1938.1 1358.9 1938.6 1357.9 1939.1 1358.3 1939.6 1358.3 1940.1 1358.7 1940.6 1358.3 1941.1 1358.9 1941.6 1358.3 1942.1 1358.4 1942.6 1359.0 1943.1 1358.8 1943.6 1358.7 1944.1 1358.7 1944.6 1359.2 1945.1 1359.3 1945.6 1358.5 1946.1 1358.3 1946.6 1358.1 1947.1 1359.5 1947.6 1358.2 1948.1 1358.0 1948.6 1358.8 1949.1 1359.2 1949.6 1358.0 1950.1 1358.6 1950.6 1357.9 1951.1 1358.3 1951.6 1359.4 1952.1 1358.7 1952.6 1358.5 1953.1 1358.6 1953.6 1358.7 1954.1 1358.5 1954.6 1358.0 1955.1 1358.0 1955.6 1359.6 1956.1 1358.2 1956.6 1359.2 1957.1 1358.2 1957.6 1359.2 1958.1 1358.9 1958.6 1358.5 1959.1 1359.6 1959.6 1358.1 1960.1 1358.4 1960.6 1358.1 1961.1 1358.1 1961.6 1358.4 1962.1 1358.1 1962.6 1358.4 1963.1 1359.3 1963.6 1357.6 1964.1 1357.9 1964.6 1358.0 1965.1 1358.3 1965.6 1359.0 1966.1 1358.8 1966.6 1358.7 1967.1 1358.6 1967.6 1359.7 1968.1 1357.9 1968.6 1357.9 1969.1 1358.5 1969.6 1358.6 1970.1 1358.3 1970.6 1358.0 1971.1 1357.8 1971.6 1358.3 1972.1 1358.1 1972.6 1358.2 1973.1 1357.9 1973.6 1359.1 1974.1 1358.6 1974.6 1359.3 1975.1 1358.1 1975.6 1358.4 1976.1 1358.3 1976.6 1358.4 1977.1 1358.3 1977.6 1358.3 1978.1 1357.4 1978.6 1358.2 1979.1 1358.7 1979.6 1357.4 1980.1 1358.2 1980.6 1358.6 1981.1 1359.0 1981.6 1358.3 1982.1 1358.5 1982.6 1359.2 1983.1 1359.0 1983.6 1358.1 1984.1 1358.0 1984.6 1358.8 1985.1 1358.4 1985.6 1358.0 1986.1 1358.2 1986.6 1358.4 1987.1 1358.1 1987.6 1358.1 1988.1 1358.1 1988.6 1357.5 1989.1 1359.1 1989.6 1358.8 1990.1 1358.9 1990.6 1358.1 1991.1 1358.2 1991.6 1358.4 1992.1 1358.5 1992.6 1357.2 1993.1 1358.3 1993.6 1357.6 1994.1 1358.0 1994.6 1357.7 1995.1 1358.9 1995.6 1358.3 1996.1 1358.0 1996.6 1358.7 1997.1 1357.9 1997.6 1357.5 1998.1 1357.8 1998.6 1357.6 1999.1 1357.8 1999.6 1358.1 2000.1 1357.6 2000.6 1357.6 2001.1 1358.0 2001.6 1357.6 2002.1 1357.8 2002.6 1357.3 2003.1 1356.5 2003.6 1356.4 2004.1 1356.0 2004.6 1357.2 2005.1 1356.7 2005.6 1356.0 2006.1 1355.5 2006.6 1356.0 2007.1 1355.5 2007.6 1355.4 2008.1 1354.6 2008.6 1354.3 2009.1 1355.4 2009.6 1354.1 2010.1 1354.5 2010.6 1355.2 2011.1 1353.7 2011.6 1355.1 2012.1 1355.0 2012.6 1355.1 2013.1 1355.5 2013.6 1355.0 2014.1 1354.8 2014.6 1357.0 2015.1 1356.2 2015.6 1356.9 2016.1 1357.2 2016.6 1357.0 2017.1 1357.2 2017.6 1357.4 2018.1 1358.0 2018.6 1357.5 2019.1 1358.0 2019.6 1357.3 2020.1 1357.3 2020.6 1357.6 2021.1 1357.8 2021.6 1357.9 2022.1 1358.6 2022.6 1358.1 2023.1 1357.7 2023.6 1358.7 2024.1 1357.9 2024.6 1357.9 2025.1 1358.0"/>
<rect x="155.6" y="29.0" width="1871.1" height="1378.7" fill="none" stroke="#000" stroke-width="5.4"/>
<path d="M155.6 1407.7V1380.9M272.5 1407.7V1395.2M389.5 1407.7V1380.9M506.4 1407.7V1395.2M623.4 1407.7V1380.9M740.3 1407.7V1395.2M857.3 1407.7V1380.9M974.2 1407.7V1395.2M1091.1 1407.7V1380.9M1208.1 1407.7V1395.2M1325.0 1407.7V1380.9M1442.0 1407.7V1395.2M1558.9 1407.7V1380.9M1675.9 1407.7V1395.2M1792.8 1407.7V1380.9M1909.8 1407.7V1395.2M2026.7 1407.7V1380.9" stroke="#000" stroke-width="5" fill="none"/>
<text class="t" font-size="64.5" x="125.1 153.3" y="1488.4" stroke-width="1.30">10</text>
<text class="t" font-size="64.5" x="360.2 387.2" y="1488.4" stroke-width="1.30">20</text>
<text class="t" font-size="64.5" x="593.5 621.0" y="1488.4" stroke-width="1.30">30</text>
<text class="t" font-size="64.5" x="827.5 854.9" y="1488.4" stroke-width="1.30">40</text>
<text class="t" font-size="64.5" x="1060.9 1088.8" y="1488.4" stroke-width="1.30">50</text>
<text class="t" font-size="64.5" x="1295.0 1322.7" y="1488.4" stroke-width="1.30">60</text>
<text class="t" font-size="64.5" x="1528.1 1556.6" y="1488.4" stroke-width="1.30">70</text>
<text class="t" font-size="64.5" x="1763.2 1790.5" y="1488.4" stroke-width="1.30">80</text>
<text class="t" font-size="64.5" x="1997.4 2024.4" y="1488.4" stroke-width="1.30">90</text>
<text class="t" font-size="74" x="907.8 944.3 988.9 1012.8 1052.3 1087.2 1130.1 1162.4 1200.1 1234.8" y="1583.1 1583.1 1575.6 1583.1 1583.1 1583.1 1583.1 1583.1 1583.1 1575.6" stroke-width="1.30">2θ(degree)</text>
<text class="t" font-size="73" stroke-width="1.4" transform="translate(72.2 0) rotate(-90)" x="-988.1 -957.9 -908.5 -881.3 -847.2 -805.2 -765.8 -727.9 -698.2 -650.3 -624.0 -589.1 -554.6 -515.1 -478.1" y="0.0 0.0 0.0 0.0 0.0 0.0 0.0 0.0 0.0 -6.5 0.0 0.0 0.0 0.0 -6.5">Intensity(a.u.)</text>
<text transform="translate(1006.6 82.0) scale(0.5345 0.4583) translate(-44.5 36.5)" class="m">♠</text>
<text class="t" font-size="74" transform="scale(0.740 1)" x="1382.9 1447.9 1488.0" y="97.5" stroke-width="1.00">MgH</text><text class="t" font-size="50" x="1140.0" y="116.3" stroke-width="0.90">2</text>
<text transform="translate(1262.0 86.2) scale(0.4361 0.4384) translate(-44.5 37.0)" class="m">♥</text>
<text class="t" font-size="75" transform="scale(0.820 1)" x="1568.1 1618.5 1652.2" y="101.6" stroke-width="1.00">LaH</text><text class="t" font-size="50" x="1395.0 1421.2 1443.6 1470.1" y="120.4" stroke-width="0.90">3.05</text>
<text transform="translate(1004.7 177.0) scale(0.3600 0.4211) translate(-38.0 26.5)" class="m">◆</text>
<text class="t" font-size="75" transform="scale(0.740 1)" x="1379.2 1444.8" y="192.2" stroke-width="1.00">Mg</text><text class="t" font-size="51" x="1100.6" y="212.1" stroke-width="0.90">2</text><text class="t" font-size="75" transform="scale(0.800 1)" x="1402.9 1465.6 1512.8 1541.2" y="192.2" stroke-width="1.00">Ni H</text><text class="t" font-size="51" x="1273.7" y="212.1" stroke-width="0.90">4</text>
<line x1="1573.5" y1="69.4" x2="1685.5" y2="69.4" stroke="#ff00ff" stroke-width="4.8" stroke-linecap="round"/><text class="t" font-size="60" transform="scale(0.740 1)" x="2308.1 2359.1" y="89.6" stroke-width="0.50">Mg</text><text class="t" font-size="38" x="1771.0 1790.6" y="105.0" stroke-width="0.70">92</text><text class="t" font-size="60" transform="scale(0.820 1)" x="2202.5 2250.1" y="89.6" stroke-width="0.50">Ni</text><text class="t" font-size="38" x="1865.2" y="105.0" stroke-width="0.70">5</text><text class="t" font-size="60" transform="scale(0.840 1)" x="2244.0 2280.1" y="89.6" stroke-width="0.50">La</text><text class="t" font-size="38" x="1941.5" y="105.0" stroke-width="0.70">3</text>
<line x1="1573.5" y1="145.8" x2="1685.5" y2="145.8" stroke="#0000ff" stroke-width="4.8" stroke-linecap="round"/><text class="t" font-size="60" transform="scale(0.740 1)" x="2308.1 2359.1" y="165.1" stroke-width="0.50">Mg</text><text class="t" font-size="38" x="1770.8 1789.7" y="180.5" stroke-width="0.70">87</text><text class="t" font-size="60" transform="scale(0.820 1)" x="2202.5 2250.1" y="165.1" stroke-width="0.50">Ni</text><text class="t" font-size="38" x="1865.8 1885.5" y="180.5" stroke-width="0.70">10</text><text class="t" font-size="60" transform="scale(0.840 1)" x="2267.1 2303.4" y="165.1" stroke-width="0.50">La</text><text class="t" font-size="38" x="1961.1" y="180.5" stroke-width="0.70">3</text>
<line x1="1573.5" y1="221.7" x2="1685.5" y2="221.7" stroke="#ff0000" stroke-width="4.8" stroke-linecap="round"/><text class="t" font-size="60" transform="scale(0.740 1)" x="2308.1 2359.1" y="241.1" stroke-width="0.50">Mg</text><text class="t" font-size="38" x="1770.8 1790.6" y="256.6" stroke-width="0.70">82</text><text class="t" font-size="60" transform="scale(0.820 1)" x="2202.5 2250.1" y="241.1" stroke-width="0.50">Ni</text><text class="t" font-size="38" x="1865.8 1885.1" y="256.6" stroke-width="0.70">15</text><text class="t" font-size="60" transform="scale(0.840 1)" x="2267.1 2303.4" y="241.1" stroke-width="0.50">La</text><text class="t" font-size="38" x="1961.1" y="256.6" stroke-width="0.70">3</text>
<line x1="1573.5" y1="297.8" x2="1685.5" y2="297.8" stroke="#000000" stroke-width="4.8" stroke-linecap="round"/><text class="t" font-size="60" transform="scale(0.740 1)" x="2308.1 2359.1" y="317.5" stroke-width="0.50">Mg</text><text class="t" font-size="38" x="1770.1 1789.7" y="333.0" stroke-width="0.70">77</text><text class="t" font-size="60" transform="scale(0.820 1)" x="2202.5 2250.1" y="317.5" stroke-width="0.50">Ni</text><text class="t" font-size="38" x="1866.5 1885.5" y="333.0" stroke-width="0.70">20</text><text class="t" font-size="60" transform="scale(0.840 1)" x="2267.1 2303.4" y="317.5" stroke-width="0.50">La</text><text class="t" font-size="38" x="1961.1" y="333.0" stroke-width="0.70">3</text>
<text transform="translate(293.1 1289.9) scale(0.3533 0.4211) translate(-38.0 26.5)" class="m">◆</text>
<text transform="translate(381.6 1287.4) scale(0.3533 0.4211) translate(-38.0 26.5)" class="m">◆</text>
<text transform="translate(472.0 1220.8) scale(0.3533 0.4211) translate(-38.0 26.5)" class="m">◆</text>
<text transform="translate(490.2 1237.5) scale(0.3533 0.4211) translate(-38.0 26.5)" class="m">◆</text>
<text transform="translate(804.5 1295.7) scale(0.3533 0.4211) translate(-38.0 26.5)" class="m">◆</text>
<text transform="translate(835.6 1133.0) scale(0.3533 0.4211) translate(-38.0 26.5)" class="m">◆</text>
<text transform="translate(863.6 1155.2) scale(0.3533 0.4211) translate(-38.0 26.5)" class="m">◆</text>
<text transform="translate(869.7 1265.0) scale(0.3533 0.4211) translate(-38.0 26.5)" class="m">◆</text>
<text transform="translate(899.2 1310.8) scale(0.3533 0.4211) translate(-38.0 26.5)" class="m">◆</text>
<text transform="translate(959.8 1314.8) scale(0.3533 0.4211) translate(-38.0 26.5)" class="m">◆</text>
<text transform="translate(1030.5 1289.4) scale(0.3533 0.4211) translate(-38.0 26.5)" class="m">◆</text>
<text transform="translate(1014.1 1308.2) scale(0.3533 0.4211) translate(-38.0 26.5)" class="m">◆</text>
<text transform="translate(1066.3 1322.9) scale(0.3533 0.4211) translate(-38.0 26.5)" class="m">◆</text>
<text transform="translate(1127.4 1316.8) scale(0.3533 0.4211) translate(-38.0 26.5)" class="m">◆</text>
<text transform="translate(1227.1 1316.9) scale(0.3533 0.4211) translate(-38.0 26.5)" class="m">◆</text>
<text transform="translate(1275.9 1316.9) scale(0.3533 0.4211) translate(-38.0 26.5)" class="m">◆</text>
<text transform="translate(557.7 1131.0) scale(0.4167 0.4315) translate(-44.5 37.0)" class="m">♥</text>
<text transform="translate(670.2 1235.9) scale(0.4167 0.4164) translate(-44.5 37.0)" class="m">♥</text>
<text transform="translate(990.4 1253.4) scale(0.4167 0.4301) translate(-44.5 37.0)" class="m">♥</text>
<text transform="translate(1183.2 1289.9) scale(0.4167 0.4301) translate(-44.5 37.0)" class="m">♥</text>
<text transform="translate(1252.7 1300.0) scale(0.4167 0.4233) translate(-44.5 37.0)" class="m">♥</text>
<text transform="translate(1482.6 1318.9) scale(0.4167 0.4301) translate(-44.5 37.0)" class="m">♥</text>
<text transform="translate(1640.4 1306.8) scale(0.4167 0.4370) translate(-44.5 37.0)" class="m">♥</text>
<text transform="translate(1694.7 1311.0) scale(0.4167 0.4384) translate(-44.5 37.0)" class="m">♥</text>
<text transform="translate(1895.2 1313.2) scale(0.4167 0.4370) translate(-44.5 37.0)" class="m">♥</text>
<text transform="translate(589.5 1127.4) scale(0.5172 0.4500) translate(-44.5 36.5)" class="m">♠</text>
<text transform="translate(766.1 1202.5) scale(0.5172 0.4792) translate(-44.5 36.5)" class="m">♠</text>
<text transform="translate(1206.5 1258.5) scale(0.5172 0.4653) translate(-44.5 36.5)" class="m">♠</text>
<text transform="translate(1446.5 1307.8) scale(0.5172 0.4653) translate(-44.5 36.5)" class="m">♠</text>
<text transform="translate(1526.6 1313.8) scale(0.5172 0.4653) translate(-44.5 36.5)" class="m">♠</text>
<text transform="translate(1560.1 1305.8) scale(0.5172 0.4653) translate(-44.5 36.5)" class="m">♠</text>
<text transform="translate(1868.1 1325.2) scale(0.5172 0.4625) translate(-44.5 36.5)" class="m">♠</text>
</svg>
</body></html>
